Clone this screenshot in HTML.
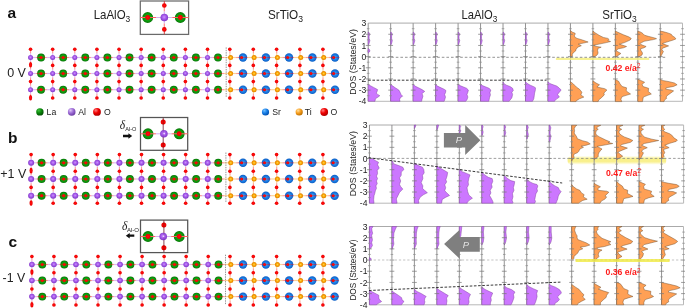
<!DOCTYPE html>
<html><head><meta charset="utf-8"><style>
html,body{margin:0;padding:0;background:#fff;width:685px;height:308px;overflow:hidden;font-family:"Liberation Sans", sans-serif;}
</style></head><body>
<svg width="685" height="308" viewBox="0 0 685 308" style="position:absolute;left:0;top:0;will-change:transform" font-family='"Liberation Sans", sans-serif'>
<defs>
<radialGradient id="gLa" cx="50%" cy="50%" r="50%"><stop offset="0" stop-color="#20b020"/><stop offset="0.55" stop-color="#10a010"/><stop offset="0.85" stop-color="#088a08"/><stop offset="1" stop-color="#067006"/></radialGradient>
<radialGradient id="gSr" cx="50%" cy="50%" r="50%"><stop offset="0" stop-color="#44aaff"/><stop offset="0.6" stop-color="#1a7ce4"/><stop offset="1" stop-color="#0c5ec4"/></radialGradient>
<radialGradient id="gAl" cx="48%" cy="45%" r="55%"><stop offset="0" stop-color="#cc90ff"/><stop offset="0.5" stop-color="#a458ea"/><stop offset="1" stop-color="#7e36c2"/></radialGradient>
<radialGradient id="gTi" cx="50%" cy="50%" r="50%"><stop offset="0" stop-color="#ffd848"/><stop offset="0.55" stop-color="#f8a000"/><stop offset="1" stop-color="#e08000"/></radialGradient>
<radialGradient id="gO" cx="50%" cy="50%" r="50%"><stop offset="0" stop-color="#ff1010"/><stop offset="0.75" stop-color="#f40000"/><stop offset="1" stop-color="#e00000"/></radialGradient>
<radialGradient id="bLa" cx="35%" cy="30%" r="70%"><stop offset="0" stop-color="#40c040"/><stop offset="0.5" stop-color="#0a8a0a"/><stop offset="1" stop-color="#045004"/></radialGradient>
<radialGradient id="bAl" cx="35%" cy="30%" r="70%"><stop offset="0" stop-color="#e0c8f8"/><stop offset="0.5" stop-color="#a070d8"/><stop offset="1" stop-color="#7040a8"/></radialGradient>
<radialGradient id="bO" cx="35%" cy="30%" r="70%"><stop offset="0" stop-color="#ff8080"/><stop offset="0.5" stop-color="#f00000"/><stop offset="1" stop-color="#b00000"/></radialGradient>
<radialGradient id="bSr" cx="35%" cy="30%" r="70%"><stop offset="0" stop-color="#70c0ff"/><stop offset="0.5" stop-color="#1a80e8"/><stop offset="1" stop-color="#0050b0"/></radialGradient>
<radialGradient id="bTi" cx="35%" cy="30%" r="70%"><stop offset="0" stop-color="#ffe0a0"/><stop offset="0.5" stop-color="#f8a020"/><stop offset="1" stop-color="#c07000"/></radialGradient>
<linearGradient id="yb" x1="0" y1="0" x2="0" y2="1"><stop offset="0" stop-color="#fcf8b0" stop-opacity="0.3"/><stop offset="0.3" stop-color="#f9f088"/><stop offset="0.7" stop-color="#f9f090"/><stop offset="1" stop-color="#fcf8c0" stop-opacity="0.3"/></linearGradient>
</defs>
<text x="7.4" y="18" font-size="15.5" font-weight="bold" font-style="normal" fill="#111" text-anchor="start" >a</text>
<text x="7.9" y="142.6" font-size="15.5" font-weight="bold" font-style="normal" fill="#111" text-anchor="start" >b</text>
<text x="8.6" y="246.6" font-size="15.5" font-weight="bold" font-style="normal" fill="#111" text-anchor="start" >c</text>
<text x="7.2" y="77" font-size="12.5" font-weight="normal" font-style="normal" fill="#222" text-anchor="start" >0 V</text>
<text x="0.3" y="178.2" font-size="12.5" font-weight="normal" font-style="normal" fill="#222" text-anchor="start" >+1 V</text>
<text x="2.6" y="282.2" font-size="12.3" font-weight="normal" font-style="normal" fill="#222" text-anchor="start" >-1 V</text>
<text transform="translate(93.7,18.8) scale(0.933,1)" font-size="12.3" fill="#222">LaAlO<tspan font-size="9" dy="3">3</tspan></text>
<text transform="translate(268.0,18.8) scale(0.955,1)" font-size="12.3" fill="#222">SrTiO<tspan font-size="9" dy="3">3</tspan></text>
<circle cx="41.05" cy="57.5" r="3.95" fill="url(#gLa)"/>
<circle cx="63.17" cy="57.5" r="3.95" fill="url(#gLa)"/>
<circle cx="85.29" cy="57.5" r="3.95" fill="url(#gLa)"/>
<circle cx="107.41" cy="57.5" r="3.95" fill="url(#gLa)"/>
<circle cx="129.53" cy="57.5" r="3.95" fill="url(#gLa)"/>
<circle cx="151.65" cy="57.5" r="3.95" fill="url(#gLa)"/>
<circle cx="173.77" cy="57.5" r="3.95" fill="url(#gLa)"/>
<circle cx="195.89" cy="57.5" r="3.95" fill="url(#gLa)"/>
<circle cx="218.01" cy="57.5" r="3.95" fill="url(#gLa)"/>
<circle cx="243" cy="57.5" r="4.2" fill="url(#gSr)"/>
<circle cx="265.9" cy="57.5" r="4.2" fill="url(#gSr)"/>
<circle cx="289" cy="57.5" r="4.2" fill="url(#gSr)"/>
<circle cx="312.4" cy="57.5" r="4.2" fill="url(#gSr)"/>
<circle cx="335" cy="57.5" r="4.2" fill="url(#gSr)"/>
<circle cx="41.05" cy="73.5" r="3.95" fill="url(#gLa)"/>
<circle cx="63.17" cy="73.5" r="3.95" fill="url(#gLa)"/>
<circle cx="85.29" cy="73.5" r="3.95" fill="url(#gLa)"/>
<circle cx="107.41" cy="73.5" r="3.95" fill="url(#gLa)"/>
<circle cx="129.53" cy="73.5" r="3.95" fill="url(#gLa)"/>
<circle cx="151.65" cy="73.5" r="3.95" fill="url(#gLa)"/>
<circle cx="173.77" cy="73.5" r="3.95" fill="url(#gLa)"/>
<circle cx="195.89" cy="73.5" r="3.95" fill="url(#gLa)"/>
<circle cx="218.01" cy="73.5" r="3.95" fill="url(#gLa)"/>
<circle cx="243" cy="73.5" r="4.2" fill="url(#gSr)"/>
<circle cx="265.9" cy="73.5" r="4.2" fill="url(#gSr)"/>
<circle cx="289" cy="73.5" r="4.2" fill="url(#gSr)"/>
<circle cx="312.4" cy="73.5" r="4.2" fill="url(#gSr)"/>
<circle cx="335" cy="73.5" r="4.2" fill="url(#gSr)"/>
<circle cx="41.05" cy="89.7" r="3.95" fill="url(#gLa)"/>
<circle cx="63.17" cy="89.7" r="3.95" fill="url(#gLa)"/>
<circle cx="85.29" cy="89.7" r="3.95" fill="url(#gLa)"/>
<circle cx="107.41" cy="89.7" r="3.95" fill="url(#gLa)"/>
<circle cx="129.53" cy="89.7" r="3.95" fill="url(#gLa)"/>
<circle cx="151.65" cy="89.7" r="3.95" fill="url(#gLa)"/>
<circle cx="173.77" cy="89.7" r="3.95" fill="url(#gLa)"/>
<circle cx="195.89" cy="89.7" r="3.95" fill="url(#gLa)"/>
<circle cx="218.01" cy="89.7" r="3.95" fill="url(#gLa)"/>
<circle cx="243" cy="89.7" r="4.2" fill="url(#gSr)"/>
<circle cx="265.9" cy="89.7" r="4.2" fill="url(#gSr)"/>
<circle cx="289" cy="89.7" r="4.2" fill="url(#gSr)"/>
<circle cx="312.4" cy="89.7" r="4.2" fill="url(#gSr)"/>
<circle cx="335" cy="89.7" r="4.2" fill="url(#gSr)"/>
<line x1="30.05" y1="57.5" x2="30.3" y2="57.5" stroke="rgba(170,90,230,0.42)" stroke-width="1.15"/><line x1="30.3" y1="57.5" x2="30.55" y2="57.5" stroke="rgba(170,90,230,0.42)" stroke-width="1.15"/>
<line x1="30.55" y1="57.5" x2="35.8" y2="57.5" stroke="rgba(170,90,230,0.42)" stroke-width="1.15"/><line x1="35.8" y1="57.5" x2="41.05" y2="57.5" stroke="rgba(255,0,0,0.4)" stroke-width="1.15"/>
<line x1="41.05" y1="57.5" x2="46.86" y2="57.5" stroke="rgba(255,0,0,0.4)" stroke-width="1.15"/><line x1="46.86" y1="57.5" x2="52.67" y2="57.5" stroke="rgba(170,90,230,0.42)" stroke-width="1.15"/>
<line x1="52.67" y1="57.5" x2="57.92" y2="57.5" stroke="rgba(170,90,230,0.42)" stroke-width="1.15"/><line x1="57.92" y1="57.5" x2="63.17" y2="57.5" stroke="rgba(255,0,0,0.4)" stroke-width="1.15"/>
<line x1="63.17" y1="57.5" x2="68.98" y2="57.5" stroke="rgba(255,0,0,0.4)" stroke-width="1.15"/><line x1="68.98" y1="57.5" x2="74.79" y2="57.5" stroke="rgba(170,90,230,0.42)" stroke-width="1.15"/>
<line x1="74.79" y1="57.5" x2="80.04" y2="57.5" stroke="rgba(170,90,230,0.42)" stroke-width="1.15"/><line x1="80.04" y1="57.5" x2="85.29" y2="57.5" stroke="rgba(255,0,0,0.4)" stroke-width="1.15"/>
<line x1="85.29" y1="57.5" x2="91.1" y2="57.5" stroke="rgba(255,0,0,0.4)" stroke-width="1.15"/><line x1="91.1" y1="57.5" x2="96.91" y2="57.5" stroke="rgba(170,90,230,0.42)" stroke-width="1.15"/>
<line x1="96.91" y1="57.5" x2="102.16" y2="57.5" stroke="rgba(170,90,230,0.42)" stroke-width="1.15"/><line x1="102.16" y1="57.5" x2="107.41" y2="57.5" stroke="rgba(255,0,0,0.4)" stroke-width="1.15"/>
<line x1="107.41" y1="57.5" x2="113.22" y2="57.5" stroke="rgba(255,0,0,0.4)" stroke-width="1.15"/><line x1="113.22" y1="57.5" x2="119.03" y2="57.5" stroke="rgba(170,90,230,0.42)" stroke-width="1.15"/>
<line x1="119.03" y1="57.5" x2="124.28" y2="57.5" stroke="rgba(170,90,230,0.42)" stroke-width="1.15"/><line x1="124.28" y1="57.5" x2="129.53" y2="57.5" stroke="rgba(255,0,0,0.4)" stroke-width="1.15"/>
<line x1="129.53" y1="57.5" x2="135.34" y2="57.5" stroke="rgba(255,0,0,0.4)" stroke-width="1.15"/><line x1="135.34" y1="57.5" x2="141.15" y2="57.5" stroke="rgba(170,90,230,0.42)" stroke-width="1.15"/>
<line x1="141.15" y1="57.5" x2="146.4" y2="57.5" stroke="rgba(170,90,230,0.42)" stroke-width="1.15"/><line x1="146.4" y1="57.5" x2="151.65" y2="57.5" stroke="rgba(255,0,0,0.4)" stroke-width="1.15"/>
<line x1="151.65" y1="57.5" x2="157.46" y2="57.5" stroke="rgba(255,0,0,0.4)" stroke-width="1.15"/><line x1="157.46" y1="57.5" x2="163.27" y2="57.5" stroke="rgba(170,90,230,0.42)" stroke-width="1.15"/>
<line x1="163.27" y1="57.5" x2="168.52" y2="57.5" stroke="rgba(170,90,230,0.42)" stroke-width="1.15"/><line x1="168.52" y1="57.5" x2="173.77" y2="57.5" stroke="rgba(255,0,0,0.4)" stroke-width="1.15"/>
<line x1="173.77" y1="57.5" x2="179.58" y2="57.5" stroke="rgba(255,0,0,0.4)" stroke-width="1.15"/><line x1="179.58" y1="57.5" x2="185.39" y2="57.5" stroke="rgba(170,90,230,0.42)" stroke-width="1.15"/>
<line x1="185.39" y1="57.5" x2="190.64" y2="57.5" stroke="rgba(170,90,230,0.42)" stroke-width="1.15"/><line x1="190.64" y1="57.5" x2="195.89" y2="57.5" stroke="rgba(255,0,0,0.4)" stroke-width="1.15"/>
<line x1="195.89" y1="57.5" x2="201.7" y2="57.5" stroke="rgba(255,0,0,0.4)" stroke-width="1.15"/><line x1="201.7" y1="57.5" x2="207.51" y2="57.5" stroke="rgba(170,90,230,0.42)" stroke-width="1.15"/>
<line x1="207.51" y1="57.5" x2="212.76" y2="57.5" stroke="rgba(170,90,230,0.42)" stroke-width="1.15"/><line x1="212.76" y1="57.5" x2="218.01" y2="57.5" stroke="rgba(255,0,0,0.4)" stroke-width="1.15"/>
<line x1="218.01" y1="57.5" x2="224.31" y2="57.5" stroke="rgba(255,0,0,0.4)" stroke-width="1.15"/><line x1="224.31" y1="57.5" x2="230.6" y2="57.5" stroke="rgba(248,160,20,0.45)" stroke-width="1.15"/>
<line x1="230.6" y1="57.5" x2="236.05" y2="57.5" stroke="rgba(248,160,20,0.45)" stroke-width="1.15"/><line x1="236.05" y1="57.5" x2="241.5" y2="57.5" stroke="rgba(255,0,0,0.4)" stroke-width="1.15"/>
<line x1="241.5" y1="57.5" x2="247.8" y2="57.5" stroke="rgba(255,0,0,0.4)" stroke-width="1.15"/><line x1="247.8" y1="57.5" x2="254.1" y2="57.5" stroke="rgba(248,160,20,0.45)" stroke-width="1.15"/>
<line x1="254.1" y1="57.5" x2="259.25" y2="57.5" stroke="rgba(248,160,20,0.45)" stroke-width="1.15"/><line x1="259.25" y1="57.5" x2="264.4" y2="57.5" stroke="rgba(255,0,0,0.4)" stroke-width="1.15"/>
<line x1="264.4" y1="57.5" x2="270.9" y2="57.5" stroke="rgba(255,0,0,0.4)" stroke-width="1.15"/><line x1="270.9" y1="57.5" x2="277.4" y2="57.5" stroke="rgba(248,160,20,0.45)" stroke-width="1.15"/>
<line x1="277.4" y1="57.5" x2="282.45" y2="57.5" stroke="rgba(248,160,20,0.45)" stroke-width="1.15"/><line x1="282.45" y1="57.5" x2="287.5" y2="57.5" stroke="rgba(255,0,0,0.4)" stroke-width="1.15"/>
<line x1="287.5" y1="57.5" x2="294.1" y2="57.5" stroke="rgba(255,0,0,0.4)" stroke-width="1.15"/><line x1="294.1" y1="57.5" x2="300.7" y2="57.5" stroke="rgba(248,160,20,0.45)" stroke-width="1.15"/>
<line x1="300.7" y1="57.5" x2="305.8" y2="57.5" stroke="rgba(248,160,20,0.45)" stroke-width="1.15"/><line x1="305.8" y1="57.5" x2="310.9" y2="57.5" stroke="rgba(255,0,0,0.4)" stroke-width="1.15"/>
<line x1="310.9" y1="57.5" x2="317.3" y2="57.5" stroke="rgba(255,0,0,0.4)" stroke-width="1.15"/><line x1="317.3" y1="57.5" x2="323.7" y2="57.5" stroke="rgba(248,160,20,0.45)" stroke-width="1.15"/>
<line x1="323.7" y1="57.5" x2="328.6" y2="57.5" stroke="rgba(248,160,20,0.45)" stroke-width="1.15"/><line x1="328.6" y1="57.5" x2="333.5" y2="57.5" stroke="rgba(255,0,0,0.4)" stroke-width="1.15"/>
<line x1="333.5" y1="57.5" x2="339.5" y2="57.5" stroke="rgba(255,0,0,0.4)" stroke-width="0.9"/>
<line x1="30.05" y1="73.5" x2="30.3" y2="73.5" stroke="rgba(170,90,230,0.42)" stroke-width="1.15"/><line x1="30.3" y1="73.5" x2="30.55" y2="73.5" stroke="rgba(170,90,230,0.42)" stroke-width="1.15"/>
<line x1="30.55" y1="73.5" x2="35.8" y2="73.5" stroke="rgba(170,90,230,0.42)" stroke-width="1.15"/><line x1="35.8" y1="73.5" x2="41.05" y2="73.5" stroke="rgba(255,0,0,0.4)" stroke-width="1.15"/>
<line x1="41.05" y1="73.5" x2="46.86" y2="73.5" stroke="rgba(255,0,0,0.4)" stroke-width="1.15"/><line x1="46.86" y1="73.5" x2="52.67" y2="73.5" stroke="rgba(170,90,230,0.42)" stroke-width="1.15"/>
<line x1="52.67" y1="73.5" x2="57.92" y2="73.5" stroke="rgba(170,90,230,0.42)" stroke-width="1.15"/><line x1="57.92" y1="73.5" x2="63.17" y2="73.5" stroke="rgba(255,0,0,0.4)" stroke-width="1.15"/>
<line x1="63.17" y1="73.5" x2="68.98" y2="73.5" stroke="rgba(255,0,0,0.4)" stroke-width="1.15"/><line x1="68.98" y1="73.5" x2="74.79" y2="73.5" stroke="rgba(170,90,230,0.42)" stroke-width="1.15"/>
<line x1="74.79" y1="73.5" x2="80.04" y2="73.5" stroke="rgba(170,90,230,0.42)" stroke-width="1.15"/><line x1="80.04" y1="73.5" x2="85.29" y2="73.5" stroke="rgba(255,0,0,0.4)" stroke-width="1.15"/>
<line x1="85.29" y1="73.5" x2="91.1" y2="73.5" stroke="rgba(255,0,0,0.4)" stroke-width="1.15"/><line x1="91.1" y1="73.5" x2="96.91" y2="73.5" stroke="rgba(170,90,230,0.42)" stroke-width="1.15"/>
<line x1="96.91" y1="73.5" x2="102.16" y2="73.5" stroke="rgba(170,90,230,0.42)" stroke-width="1.15"/><line x1="102.16" y1="73.5" x2="107.41" y2="73.5" stroke="rgba(255,0,0,0.4)" stroke-width="1.15"/>
<line x1="107.41" y1="73.5" x2="113.22" y2="73.5" stroke="rgba(255,0,0,0.4)" stroke-width="1.15"/><line x1="113.22" y1="73.5" x2="119.03" y2="73.5" stroke="rgba(170,90,230,0.42)" stroke-width="1.15"/>
<line x1="119.03" y1="73.5" x2="124.28" y2="73.5" stroke="rgba(170,90,230,0.42)" stroke-width="1.15"/><line x1="124.28" y1="73.5" x2="129.53" y2="73.5" stroke="rgba(255,0,0,0.4)" stroke-width="1.15"/>
<line x1="129.53" y1="73.5" x2="135.34" y2="73.5" stroke="rgba(255,0,0,0.4)" stroke-width="1.15"/><line x1="135.34" y1="73.5" x2="141.15" y2="73.5" stroke="rgba(170,90,230,0.42)" stroke-width="1.15"/>
<line x1="141.15" y1="73.5" x2="146.4" y2="73.5" stroke="rgba(170,90,230,0.42)" stroke-width="1.15"/><line x1="146.4" y1="73.5" x2="151.65" y2="73.5" stroke="rgba(255,0,0,0.4)" stroke-width="1.15"/>
<line x1="151.65" y1="73.5" x2="157.46" y2="73.5" stroke="rgba(255,0,0,0.4)" stroke-width="1.15"/><line x1="157.46" y1="73.5" x2="163.27" y2="73.5" stroke="rgba(170,90,230,0.42)" stroke-width="1.15"/>
<line x1="163.27" y1="73.5" x2="168.52" y2="73.5" stroke="rgba(170,90,230,0.42)" stroke-width="1.15"/><line x1="168.52" y1="73.5" x2="173.77" y2="73.5" stroke="rgba(255,0,0,0.4)" stroke-width="1.15"/>
<line x1="173.77" y1="73.5" x2="179.58" y2="73.5" stroke="rgba(255,0,0,0.4)" stroke-width="1.15"/><line x1="179.58" y1="73.5" x2="185.39" y2="73.5" stroke="rgba(170,90,230,0.42)" stroke-width="1.15"/>
<line x1="185.39" y1="73.5" x2="190.64" y2="73.5" stroke="rgba(170,90,230,0.42)" stroke-width="1.15"/><line x1="190.64" y1="73.5" x2="195.89" y2="73.5" stroke="rgba(255,0,0,0.4)" stroke-width="1.15"/>
<line x1="195.89" y1="73.5" x2="201.7" y2="73.5" stroke="rgba(255,0,0,0.4)" stroke-width="1.15"/><line x1="201.7" y1="73.5" x2="207.51" y2="73.5" stroke="rgba(170,90,230,0.42)" stroke-width="1.15"/>
<line x1="207.51" y1="73.5" x2="212.76" y2="73.5" stroke="rgba(170,90,230,0.42)" stroke-width="1.15"/><line x1="212.76" y1="73.5" x2="218.01" y2="73.5" stroke="rgba(255,0,0,0.4)" stroke-width="1.15"/>
<line x1="218.01" y1="73.5" x2="224.31" y2="73.5" stroke="rgba(255,0,0,0.4)" stroke-width="1.15"/><line x1="224.31" y1="73.5" x2="230.6" y2="73.5" stroke="rgba(248,160,20,0.45)" stroke-width="1.15"/>
<line x1="230.6" y1="73.5" x2="236.05" y2="73.5" stroke="rgba(248,160,20,0.45)" stroke-width="1.15"/><line x1="236.05" y1="73.5" x2="241.5" y2="73.5" stroke="rgba(255,0,0,0.4)" stroke-width="1.15"/>
<line x1="241.5" y1="73.5" x2="247.8" y2="73.5" stroke="rgba(255,0,0,0.4)" stroke-width="1.15"/><line x1="247.8" y1="73.5" x2="254.1" y2="73.5" stroke="rgba(248,160,20,0.45)" stroke-width="1.15"/>
<line x1="254.1" y1="73.5" x2="259.25" y2="73.5" stroke="rgba(248,160,20,0.45)" stroke-width="1.15"/><line x1="259.25" y1="73.5" x2="264.4" y2="73.5" stroke="rgba(255,0,0,0.4)" stroke-width="1.15"/>
<line x1="264.4" y1="73.5" x2="270.9" y2="73.5" stroke="rgba(255,0,0,0.4)" stroke-width="1.15"/><line x1="270.9" y1="73.5" x2="277.4" y2="73.5" stroke="rgba(248,160,20,0.45)" stroke-width="1.15"/>
<line x1="277.4" y1="73.5" x2="282.45" y2="73.5" stroke="rgba(248,160,20,0.45)" stroke-width="1.15"/><line x1="282.45" y1="73.5" x2="287.5" y2="73.5" stroke="rgba(255,0,0,0.4)" stroke-width="1.15"/>
<line x1="287.5" y1="73.5" x2="294.1" y2="73.5" stroke="rgba(255,0,0,0.4)" stroke-width="1.15"/><line x1="294.1" y1="73.5" x2="300.7" y2="73.5" stroke="rgba(248,160,20,0.45)" stroke-width="1.15"/>
<line x1="300.7" y1="73.5" x2="305.8" y2="73.5" stroke="rgba(248,160,20,0.45)" stroke-width="1.15"/><line x1="305.8" y1="73.5" x2="310.9" y2="73.5" stroke="rgba(255,0,0,0.4)" stroke-width="1.15"/>
<line x1="310.9" y1="73.5" x2="317.3" y2="73.5" stroke="rgba(255,0,0,0.4)" stroke-width="1.15"/><line x1="317.3" y1="73.5" x2="323.7" y2="73.5" stroke="rgba(248,160,20,0.45)" stroke-width="1.15"/>
<line x1="323.7" y1="73.5" x2="328.6" y2="73.5" stroke="rgba(248,160,20,0.45)" stroke-width="1.15"/><line x1="328.6" y1="73.5" x2="333.5" y2="73.5" stroke="rgba(255,0,0,0.4)" stroke-width="1.15"/>
<line x1="333.5" y1="73.5" x2="339.5" y2="73.5" stroke="rgba(255,0,0,0.4)" stroke-width="0.9"/>
<line x1="30.05" y1="89.7" x2="30.3" y2="89.7" stroke="rgba(170,90,230,0.42)" stroke-width="1.15"/><line x1="30.3" y1="89.7" x2="30.55" y2="89.7" stroke="rgba(170,90,230,0.42)" stroke-width="1.15"/>
<line x1="30.55" y1="89.7" x2="35.8" y2="89.7" stroke="rgba(170,90,230,0.42)" stroke-width="1.15"/><line x1="35.8" y1="89.7" x2="41.05" y2="89.7" stroke="rgba(255,0,0,0.4)" stroke-width="1.15"/>
<line x1="41.05" y1="89.7" x2="46.86" y2="89.7" stroke="rgba(255,0,0,0.4)" stroke-width="1.15"/><line x1="46.86" y1="89.7" x2="52.67" y2="89.7" stroke="rgba(170,90,230,0.42)" stroke-width="1.15"/>
<line x1="52.67" y1="89.7" x2="57.92" y2="89.7" stroke="rgba(170,90,230,0.42)" stroke-width="1.15"/><line x1="57.92" y1="89.7" x2="63.17" y2="89.7" stroke="rgba(255,0,0,0.4)" stroke-width="1.15"/>
<line x1="63.17" y1="89.7" x2="68.98" y2="89.7" stroke="rgba(255,0,0,0.4)" stroke-width="1.15"/><line x1="68.98" y1="89.7" x2="74.79" y2="89.7" stroke="rgba(170,90,230,0.42)" stroke-width="1.15"/>
<line x1="74.79" y1="89.7" x2="80.04" y2="89.7" stroke="rgba(170,90,230,0.42)" stroke-width="1.15"/><line x1="80.04" y1="89.7" x2="85.29" y2="89.7" stroke="rgba(255,0,0,0.4)" stroke-width="1.15"/>
<line x1="85.29" y1="89.7" x2="91.1" y2="89.7" stroke="rgba(255,0,0,0.4)" stroke-width="1.15"/><line x1="91.1" y1="89.7" x2="96.91" y2="89.7" stroke="rgba(170,90,230,0.42)" stroke-width="1.15"/>
<line x1="96.91" y1="89.7" x2="102.16" y2="89.7" stroke="rgba(170,90,230,0.42)" stroke-width="1.15"/><line x1="102.16" y1="89.7" x2="107.41" y2="89.7" stroke="rgba(255,0,0,0.4)" stroke-width="1.15"/>
<line x1="107.41" y1="89.7" x2="113.22" y2="89.7" stroke="rgba(255,0,0,0.4)" stroke-width="1.15"/><line x1="113.22" y1="89.7" x2="119.03" y2="89.7" stroke="rgba(170,90,230,0.42)" stroke-width="1.15"/>
<line x1="119.03" y1="89.7" x2="124.28" y2="89.7" stroke="rgba(170,90,230,0.42)" stroke-width="1.15"/><line x1="124.28" y1="89.7" x2="129.53" y2="89.7" stroke="rgba(255,0,0,0.4)" stroke-width="1.15"/>
<line x1="129.53" y1="89.7" x2="135.34" y2="89.7" stroke="rgba(255,0,0,0.4)" stroke-width="1.15"/><line x1="135.34" y1="89.7" x2="141.15" y2="89.7" stroke="rgba(170,90,230,0.42)" stroke-width="1.15"/>
<line x1="141.15" y1="89.7" x2="146.4" y2="89.7" stroke="rgba(170,90,230,0.42)" stroke-width="1.15"/><line x1="146.4" y1="89.7" x2="151.65" y2="89.7" stroke="rgba(255,0,0,0.4)" stroke-width="1.15"/>
<line x1="151.65" y1="89.7" x2="157.46" y2="89.7" stroke="rgba(255,0,0,0.4)" stroke-width="1.15"/><line x1="157.46" y1="89.7" x2="163.27" y2="89.7" stroke="rgba(170,90,230,0.42)" stroke-width="1.15"/>
<line x1="163.27" y1="89.7" x2="168.52" y2="89.7" stroke="rgba(170,90,230,0.42)" stroke-width="1.15"/><line x1="168.52" y1="89.7" x2="173.77" y2="89.7" stroke="rgba(255,0,0,0.4)" stroke-width="1.15"/>
<line x1="173.77" y1="89.7" x2="179.58" y2="89.7" stroke="rgba(255,0,0,0.4)" stroke-width="1.15"/><line x1="179.58" y1="89.7" x2="185.39" y2="89.7" stroke="rgba(170,90,230,0.42)" stroke-width="1.15"/>
<line x1="185.39" y1="89.7" x2="190.64" y2="89.7" stroke="rgba(170,90,230,0.42)" stroke-width="1.15"/><line x1="190.64" y1="89.7" x2="195.89" y2="89.7" stroke="rgba(255,0,0,0.4)" stroke-width="1.15"/>
<line x1="195.89" y1="89.7" x2="201.7" y2="89.7" stroke="rgba(255,0,0,0.4)" stroke-width="1.15"/><line x1="201.7" y1="89.7" x2="207.51" y2="89.7" stroke="rgba(170,90,230,0.42)" stroke-width="1.15"/>
<line x1="207.51" y1="89.7" x2="212.76" y2="89.7" stroke="rgba(170,90,230,0.42)" stroke-width="1.15"/><line x1="212.76" y1="89.7" x2="218.01" y2="89.7" stroke="rgba(255,0,0,0.4)" stroke-width="1.15"/>
<line x1="218.01" y1="89.7" x2="224.31" y2="89.7" stroke="rgba(255,0,0,0.4)" stroke-width="1.15"/><line x1="224.31" y1="89.7" x2="230.6" y2="89.7" stroke="rgba(248,160,20,0.45)" stroke-width="1.15"/>
<line x1="230.6" y1="89.7" x2="236.05" y2="89.7" stroke="rgba(248,160,20,0.45)" stroke-width="1.15"/><line x1="236.05" y1="89.7" x2="241.5" y2="89.7" stroke="rgba(255,0,0,0.4)" stroke-width="1.15"/>
<line x1="241.5" y1="89.7" x2="247.8" y2="89.7" stroke="rgba(255,0,0,0.4)" stroke-width="1.15"/><line x1="247.8" y1="89.7" x2="254.1" y2="89.7" stroke="rgba(248,160,20,0.45)" stroke-width="1.15"/>
<line x1="254.1" y1="89.7" x2="259.25" y2="89.7" stroke="rgba(248,160,20,0.45)" stroke-width="1.15"/><line x1="259.25" y1="89.7" x2="264.4" y2="89.7" stroke="rgba(255,0,0,0.4)" stroke-width="1.15"/>
<line x1="264.4" y1="89.7" x2="270.9" y2="89.7" stroke="rgba(255,0,0,0.4)" stroke-width="1.15"/><line x1="270.9" y1="89.7" x2="277.4" y2="89.7" stroke="rgba(248,160,20,0.45)" stroke-width="1.15"/>
<line x1="277.4" y1="89.7" x2="282.45" y2="89.7" stroke="rgba(248,160,20,0.45)" stroke-width="1.15"/><line x1="282.45" y1="89.7" x2="287.5" y2="89.7" stroke="rgba(255,0,0,0.4)" stroke-width="1.15"/>
<line x1="287.5" y1="89.7" x2="294.1" y2="89.7" stroke="rgba(255,0,0,0.4)" stroke-width="1.15"/><line x1="294.1" y1="89.7" x2="300.7" y2="89.7" stroke="rgba(248,160,20,0.45)" stroke-width="1.15"/>
<line x1="300.7" y1="89.7" x2="305.8" y2="89.7" stroke="rgba(248,160,20,0.45)" stroke-width="1.15"/><line x1="305.8" y1="89.7" x2="310.9" y2="89.7" stroke="rgba(255,0,0,0.4)" stroke-width="1.15"/>
<line x1="310.9" y1="89.7" x2="317.3" y2="89.7" stroke="rgba(255,0,0,0.4)" stroke-width="1.15"/><line x1="317.3" y1="89.7" x2="323.7" y2="89.7" stroke="rgba(248,160,20,0.45)" stroke-width="1.15"/>
<line x1="323.7" y1="89.7" x2="328.6" y2="89.7" stroke="rgba(248,160,20,0.45)" stroke-width="1.15"/><line x1="328.6" y1="89.7" x2="333.5" y2="89.7" stroke="rgba(255,0,0,0.4)" stroke-width="1.15"/>
<line x1="333.5" y1="89.7" x2="339.5" y2="89.7" stroke="rgba(255,0,0,0.4)" stroke-width="0.9"/>
<line x1="30.55" y1="49.2" x2="30.55" y2="53.35" stroke="rgba(255,0,0,0.4)" stroke-width="1.15"/><line x1="30.55" y1="53.35" x2="30.55" y2="57.5" stroke="rgba(170,90,230,0.42)" stroke-width="1.15"/>
<line x1="30.55" y1="57.5" x2="30.55" y2="61.45" stroke="rgba(170,90,230,0.42)" stroke-width="1.15"/><line x1="30.55" y1="61.45" x2="30.55" y2="65.4" stroke="rgba(255,0,0,0.4)" stroke-width="1.15"/>
<line x1="30.55" y1="65.4" x2="30.55" y2="69.45" stroke="rgba(255,0,0,0.4)" stroke-width="1.15"/><line x1="30.55" y1="69.45" x2="30.55" y2="73.5" stroke="rgba(170,90,230,0.42)" stroke-width="1.15"/>
<line x1="30.55" y1="73.5" x2="30.55" y2="77.55" stroke="rgba(170,90,230,0.42)" stroke-width="1.15"/><line x1="30.55" y1="77.55" x2="30.55" y2="81.6" stroke="rgba(255,0,0,0.4)" stroke-width="1.15"/>
<line x1="30.55" y1="81.6" x2="30.55" y2="85.65" stroke="rgba(255,0,0,0.4)" stroke-width="1.15"/><line x1="30.55" y1="85.65" x2="30.55" y2="89.7" stroke="rgba(170,90,230,0.42)" stroke-width="1.15"/>
<line x1="30.55" y1="89.7" x2="30.55" y2="93.85" stroke="rgba(170,90,230,0.42)" stroke-width="1.15"/><line x1="30.55" y1="93.85" x2="30.55" y2="98" stroke="rgba(255,0,0,0.4)" stroke-width="1.15"/>
<line x1="52.67" y1="49.2" x2="52.67" y2="53.35" stroke="rgba(255,0,0,0.4)" stroke-width="1.15"/><line x1="52.67" y1="53.35" x2="52.67" y2="57.5" stroke="rgba(170,90,230,0.42)" stroke-width="1.15"/>
<line x1="52.67" y1="57.5" x2="52.67" y2="61.45" stroke="rgba(170,90,230,0.42)" stroke-width="1.15"/><line x1="52.67" y1="61.45" x2="52.67" y2="65.4" stroke="rgba(255,0,0,0.4)" stroke-width="1.15"/>
<line x1="52.67" y1="65.4" x2="52.67" y2="69.45" stroke="rgba(255,0,0,0.4)" stroke-width="1.15"/><line x1="52.67" y1="69.45" x2="52.67" y2="73.5" stroke="rgba(170,90,230,0.42)" stroke-width="1.15"/>
<line x1="52.67" y1="73.5" x2="52.67" y2="77.55" stroke="rgba(170,90,230,0.42)" stroke-width="1.15"/><line x1="52.67" y1="77.55" x2="52.67" y2="81.6" stroke="rgba(255,0,0,0.4)" stroke-width="1.15"/>
<line x1="52.67" y1="81.6" x2="52.67" y2="85.65" stroke="rgba(255,0,0,0.4)" stroke-width="1.15"/><line x1="52.67" y1="85.65" x2="52.67" y2="89.7" stroke="rgba(170,90,230,0.42)" stroke-width="1.15"/>
<line x1="52.67" y1="89.7" x2="52.67" y2="93.85" stroke="rgba(170,90,230,0.42)" stroke-width="1.15"/><line x1="52.67" y1="93.85" x2="52.67" y2="98" stroke="rgba(255,0,0,0.4)" stroke-width="1.15"/>
<line x1="74.79" y1="49.2" x2="74.79" y2="53.35" stroke="rgba(255,0,0,0.4)" stroke-width="1.15"/><line x1="74.79" y1="53.35" x2="74.79" y2="57.5" stroke="rgba(170,90,230,0.42)" stroke-width="1.15"/>
<line x1="74.79" y1="57.5" x2="74.79" y2="61.45" stroke="rgba(170,90,230,0.42)" stroke-width="1.15"/><line x1="74.79" y1="61.45" x2="74.79" y2="65.4" stroke="rgba(255,0,0,0.4)" stroke-width="1.15"/>
<line x1="74.79" y1="65.4" x2="74.79" y2="69.45" stroke="rgba(255,0,0,0.4)" stroke-width="1.15"/><line x1="74.79" y1="69.45" x2="74.79" y2="73.5" stroke="rgba(170,90,230,0.42)" stroke-width="1.15"/>
<line x1="74.79" y1="73.5" x2="74.79" y2="77.55" stroke="rgba(170,90,230,0.42)" stroke-width="1.15"/><line x1="74.79" y1="77.55" x2="74.79" y2="81.6" stroke="rgba(255,0,0,0.4)" stroke-width="1.15"/>
<line x1="74.79" y1="81.6" x2="74.79" y2="85.65" stroke="rgba(255,0,0,0.4)" stroke-width="1.15"/><line x1="74.79" y1="85.65" x2="74.79" y2="89.7" stroke="rgba(170,90,230,0.42)" stroke-width="1.15"/>
<line x1="74.79" y1="89.7" x2="74.79" y2="93.85" stroke="rgba(170,90,230,0.42)" stroke-width="1.15"/><line x1="74.79" y1="93.85" x2="74.79" y2="98" stroke="rgba(255,0,0,0.4)" stroke-width="1.15"/>
<line x1="96.91" y1="49.2" x2="96.91" y2="53.35" stroke="rgba(255,0,0,0.4)" stroke-width="1.15"/><line x1="96.91" y1="53.35" x2="96.91" y2="57.5" stroke="rgba(170,90,230,0.42)" stroke-width="1.15"/>
<line x1="96.91" y1="57.5" x2="96.91" y2="61.45" stroke="rgba(170,90,230,0.42)" stroke-width="1.15"/><line x1="96.91" y1="61.45" x2="96.91" y2="65.4" stroke="rgba(255,0,0,0.4)" stroke-width="1.15"/>
<line x1="96.91" y1="65.4" x2="96.91" y2="69.45" stroke="rgba(255,0,0,0.4)" stroke-width="1.15"/><line x1="96.91" y1="69.45" x2="96.91" y2="73.5" stroke="rgba(170,90,230,0.42)" stroke-width="1.15"/>
<line x1="96.91" y1="73.5" x2="96.91" y2="77.55" stroke="rgba(170,90,230,0.42)" stroke-width="1.15"/><line x1="96.91" y1="77.55" x2="96.91" y2="81.6" stroke="rgba(255,0,0,0.4)" stroke-width="1.15"/>
<line x1="96.91" y1="81.6" x2="96.91" y2="85.65" stroke="rgba(255,0,0,0.4)" stroke-width="1.15"/><line x1="96.91" y1="85.65" x2="96.91" y2="89.7" stroke="rgba(170,90,230,0.42)" stroke-width="1.15"/>
<line x1="96.91" y1="89.7" x2="96.91" y2="93.85" stroke="rgba(170,90,230,0.42)" stroke-width="1.15"/><line x1="96.91" y1="93.85" x2="96.91" y2="98" stroke="rgba(255,0,0,0.4)" stroke-width="1.15"/>
<line x1="119.03" y1="49.2" x2="119.03" y2="53.35" stroke="rgba(255,0,0,0.4)" stroke-width="1.15"/><line x1="119.03" y1="53.35" x2="119.03" y2="57.5" stroke="rgba(170,90,230,0.42)" stroke-width="1.15"/>
<line x1="119.03" y1="57.5" x2="119.03" y2="61.45" stroke="rgba(170,90,230,0.42)" stroke-width="1.15"/><line x1="119.03" y1="61.45" x2="119.03" y2="65.4" stroke="rgba(255,0,0,0.4)" stroke-width="1.15"/>
<line x1="119.03" y1="65.4" x2="119.03" y2="69.45" stroke="rgba(255,0,0,0.4)" stroke-width="1.15"/><line x1="119.03" y1="69.45" x2="119.03" y2="73.5" stroke="rgba(170,90,230,0.42)" stroke-width="1.15"/>
<line x1="119.03" y1="73.5" x2="119.03" y2="77.55" stroke="rgba(170,90,230,0.42)" stroke-width="1.15"/><line x1="119.03" y1="77.55" x2="119.03" y2="81.6" stroke="rgba(255,0,0,0.4)" stroke-width="1.15"/>
<line x1="119.03" y1="81.6" x2="119.03" y2="85.65" stroke="rgba(255,0,0,0.4)" stroke-width="1.15"/><line x1="119.03" y1="85.65" x2="119.03" y2="89.7" stroke="rgba(170,90,230,0.42)" stroke-width="1.15"/>
<line x1="119.03" y1="89.7" x2="119.03" y2="93.85" stroke="rgba(170,90,230,0.42)" stroke-width="1.15"/><line x1="119.03" y1="93.85" x2="119.03" y2="98" stroke="rgba(255,0,0,0.4)" stroke-width="1.15"/>
<line x1="141.15" y1="49.2" x2="141.15" y2="53.35" stroke="rgba(255,0,0,0.4)" stroke-width="1.15"/><line x1="141.15" y1="53.35" x2="141.15" y2="57.5" stroke="rgba(170,90,230,0.42)" stroke-width="1.15"/>
<line x1="141.15" y1="57.5" x2="141.15" y2="61.45" stroke="rgba(170,90,230,0.42)" stroke-width="1.15"/><line x1="141.15" y1="61.45" x2="141.15" y2="65.4" stroke="rgba(255,0,0,0.4)" stroke-width="1.15"/>
<line x1="141.15" y1="65.4" x2="141.15" y2="69.45" stroke="rgba(255,0,0,0.4)" stroke-width="1.15"/><line x1="141.15" y1="69.45" x2="141.15" y2="73.5" stroke="rgba(170,90,230,0.42)" stroke-width="1.15"/>
<line x1="141.15" y1="73.5" x2="141.15" y2="77.55" stroke="rgba(170,90,230,0.42)" stroke-width="1.15"/><line x1="141.15" y1="77.55" x2="141.15" y2="81.6" stroke="rgba(255,0,0,0.4)" stroke-width="1.15"/>
<line x1="141.15" y1="81.6" x2="141.15" y2="85.65" stroke="rgba(255,0,0,0.4)" stroke-width="1.15"/><line x1="141.15" y1="85.65" x2="141.15" y2="89.7" stroke="rgba(170,90,230,0.42)" stroke-width="1.15"/>
<line x1="141.15" y1="89.7" x2="141.15" y2="93.85" stroke="rgba(170,90,230,0.42)" stroke-width="1.15"/><line x1="141.15" y1="93.85" x2="141.15" y2="98" stroke="rgba(255,0,0,0.4)" stroke-width="1.15"/>
<line x1="163.27" y1="49.2" x2="163.27" y2="53.35" stroke="rgba(255,0,0,0.4)" stroke-width="1.15"/><line x1="163.27" y1="53.35" x2="163.27" y2="57.5" stroke="rgba(170,90,230,0.42)" stroke-width="1.15"/>
<line x1="163.27" y1="57.5" x2="163.27" y2="61.45" stroke="rgba(170,90,230,0.42)" stroke-width="1.15"/><line x1="163.27" y1="61.45" x2="163.27" y2="65.4" stroke="rgba(255,0,0,0.4)" stroke-width="1.15"/>
<line x1="163.27" y1="65.4" x2="163.27" y2="69.45" stroke="rgba(255,0,0,0.4)" stroke-width="1.15"/><line x1="163.27" y1="69.45" x2="163.27" y2="73.5" stroke="rgba(170,90,230,0.42)" stroke-width="1.15"/>
<line x1="163.27" y1="73.5" x2="163.27" y2="77.55" stroke="rgba(170,90,230,0.42)" stroke-width="1.15"/><line x1="163.27" y1="77.55" x2="163.27" y2="81.6" stroke="rgba(255,0,0,0.4)" stroke-width="1.15"/>
<line x1="163.27" y1="81.6" x2="163.27" y2="85.65" stroke="rgba(255,0,0,0.4)" stroke-width="1.15"/><line x1="163.27" y1="85.65" x2="163.27" y2="89.7" stroke="rgba(170,90,230,0.42)" stroke-width="1.15"/>
<line x1="163.27" y1="89.7" x2="163.27" y2="93.85" stroke="rgba(170,90,230,0.42)" stroke-width="1.15"/><line x1="163.27" y1="93.85" x2="163.27" y2="98" stroke="rgba(255,0,0,0.4)" stroke-width="1.15"/>
<line x1="185.39" y1="49.2" x2="185.39" y2="53.35" stroke="rgba(255,0,0,0.4)" stroke-width="1.15"/><line x1="185.39" y1="53.35" x2="185.39" y2="57.5" stroke="rgba(170,90,230,0.42)" stroke-width="1.15"/>
<line x1="185.39" y1="57.5" x2="185.39" y2="61.45" stroke="rgba(170,90,230,0.42)" stroke-width="1.15"/><line x1="185.39" y1="61.45" x2="185.39" y2="65.4" stroke="rgba(255,0,0,0.4)" stroke-width="1.15"/>
<line x1="185.39" y1="65.4" x2="185.39" y2="69.45" stroke="rgba(255,0,0,0.4)" stroke-width="1.15"/><line x1="185.39" y1="69.45" x2="185.39" y2="73.5" stroke="rgba(170,90,230,0.42)" stroke-width="1.15"/>
<line x1="185.39" y1="73.5" x2="185.39" y2="77.55" stroke="rgba(170,90,230,0.42)" stroke-width="1.15"/><line x1="185.39" y1="77.55" x2="185.39" y2="81.6" stroke="rgba(255,0,0,0.4)" stroke-width="1.15"/>
<line x1="185.39" y1="81.6" x2="185.39" y2="85.65" stroke="rgba(255,0,0,0.4)" stroke-width="1.15"/><line x1="185.39" y1="85.65" x2="185.39" y2="89.7" stroke="rgba(170,90,230,0.42)" stroke-width="1.15"/>
<line x1="185.39" y1="89.7" x2="185.39" y2="93.85" stroke="rgba(170,90,230,0.42)" stroke-width="1.15"/><line x1="185.39" y1="93.85" x2="185.39" y2="98" stroke="rgba(255,0,0,0.4)" stroke-width="1.15"/>
<line x1="207.51" y1="49.2" x2="207.51" y2="53.35" stroke="rgba(255,0,0,0.4)" stroke-width="1.15"/><line x1="207.51" y1="53.35" x2="207.51" y2="57.5" stroke="rgba(170,90,230,0.42)" stroke-width="1.15"/>
<line x1="207.51" y1="57.5" x2="207.51" y2="61.45" stroke="rgba(170,90,230,0.42)" stroke-width="1.15"/><line x1="207.51" y1="61.45" x2="207.51" y2="65.4" stroke="rgba(255,0,0,0.4)" stroke-width="1.15"/>
<line x1="207.51" y1="65.4" x2="207.51" y2="69.45" stroke="rgba(255,0,0,0.4)" stroke-width="1.15"/><line x1="207.51" y1="69.45" x2="207.51" y2="73.5" stroke="rgba(170,90,230,0.42)" stroke-width="1.15"/>
<line x1="207.51" y1="73.5" x2="207.51" y2="77.55" stroke="rgba(170,90,230,0.42)" stroke-width="1.15"/><line x1="207.51" y1="77.55" x2="207.51" y2="81.6" stroke="rgba(255,0,0,0.4)" stroke-width="1.15"/>
<line x1="207.51" y1="81.6" x2="207.51" y2="85.65" stroke="rgba(255,0,0,0.4)" stroke-width="1.15"/><line x1="207.51" y1="85.65" x2="207.51" y2="89.7" stroke="rgba(170,90,230,0.42)" stroke-width="1.15"/>
<line x1="207.51" y1="89.7" x2="207.51" y2="93.85" stroke="rgba(170,90,230,0.42)" stroke-width="1.15"/><line x1="207.51" y1="93.85" x2="207.51" y2="98" stroke="rgba(255,0,0,0.4)" stroke-width="1.15"/>
<line x1="229.9" y1="49.2" x2="229.9" y2="53.35" stroke="rgba(255,0,0,0.4)" stroke-width="1.15"/><line x1="229.9" y1="53.35" x2="229.9" y2="57.5" stroke="rgba(248,160,20,0.45)" stroke-width="1.15"/>
<line x1="229.9" y1="57.5" x2="229.9" y2="61.45" stroke="rgba(248,160,20,0.45)" stroke-width="1.15"/><line x1="229.9" y1="61.45" x2="229.9" y2="65.4" stroke="rgba(255,0,0,0.4)" stroke-width="1.15"/>
<line x1="229.9" y1="65.4" x2="229.9" y2="69.45" stroke="rgba(255,0,0,0.4)" stroke-width="1.15"/><line x1="229.9" y1="69.45" x2="229.9" y2="73.5" stroke="rgba(248,160,20,0.45)" stroke-width="1.15"/>
<line x1="229.9" y1="73.5" x2="229.9" y2="77.55" stroke="rgba(248,160,20,0.45)" stroke-width="1.15"/><line x1="229.9" y1="77.55" x2="229.9" y2="81.6" stroke="rgba(255,0,0,0.4)" stroke-width="1.15"/>
<line x1="229.9" y1="81.6" x2="229.9" y2="85.65" stroke="rgba(255,0,0,0.4)" stroke-width="1.15"/><line x1="229.9" y1="85.65" x2="229.9" y2="89.7" stroke="rgba(248,160,20,0.45)" stroke-width="1.15"/>
<line x1="229.9" y1="89.7" x2="229.9" y2="93.85" stroke="rgba(248,160,20,0.45)" stroke-width="1.15"/><line x1="229.9" y1="93.85" x2="229.9" y2="98" stroke="rgba(255,0,0,0.4)" stroke-width="1.15"/>
<line x1="253.4" y1="49.2" x2="253.4" y2="53.35" stroke="rgba(255,0,0,0.4)" stroke-width="1.15"/><line x1="253.4" y1="53.35" x2="253.4" y2="57.5" stroke="rgba(248,160,20,0.45)" stroke-width="1.15"/>
<line x1="253.4" y1="57.5" x2="253.4" y2="61.45" stroke="rgba(248,160,20,0.45)" stroke-width="1.15"/><line x1="253.4" y1="61.45" x2="253.4" y2="65.4" stroke="rgba(255,0,0,0.4)" stroke-width="1.15"/>
<line x1="253.4" y1="65.4" x2="253.4" y2="69.45" stroke="rgba(255,0,0,0.4)" stroke-width="1.15"/><line x1="253.4" y1="69.45" x2="253.4" y2="73.5" stroke="rgba(248,160,20,0.45)" stroke-width="1.15"/>
<line x1="253.4" y1="73.5" x2="253.4" y2="77.55" stroke="rgba(248,160,20,0.45)" stroke-width="1.15"/><line x1="253.4" y1="77.55" x2="253.4" y2="81.6" stroke="rgba(255,0,0,0.4)" stroke-width="1.15"/>
<line x1="253.4" y1="81.6" x2="253.4" y2="85.65" stroke="rgba(255,0,0,0.4)" stroke-width="1.15"/><line x1="253.4" y1="85.65" x2="253.4" y2="89.7" stroke="rgba(248,160,20,0.45)" stroke-width="1.15"/>
<line x1="253.4" y1="89.7" x2="253.4" y2="93.85" stroke="rgba(248,160,20,0.45)" stroke-width="1.15"/><line x1="253.4" y1="93.85" x2="253.4" y2="98" stroke="rgba(255,0,0,0.4)" stroke-width="1.15"/>
<line x1="276.7" y1="49.2" x2="276.7" y2="53.35" stroke="rgba(255,0,0,0.4)" stroke-width="1.15"/><line x1="276.7" y1="53.35" x2="276.7" y2="57.5" stroke="rgba(248,160,20,0.45)" stroke-width="1.15"/>
<line x1="276.7" y1="57.5" x2="276.7" y2="61.45" stroke="rgba(248,160,20,0.45)" stroke-width="1.15"/><line x1="276.7" y1="61.45" x2="276.7" y2="65.4" stroke="rgba(255,0,0,0.4)" stroke-width="1.15"/>
<line x1="276.7" y1="65.4" x2="276.7" y2="69.45" stroke="rgba(255,0,0,0.4)" stroke-width="1.15"/><line x1="276.7" y1="69.45" x2="276.7" y2="73.5" stroke="rgba(248,160,20,0.45)" stroke-width="1.15"/>
<line x1="276.7" y1="73.5" x2="276.7" y2="77.55" stroke="rgba(248,160,20,0.45)" stroke-width="1.15"/><line x1="276.7" y1="77.55" x2="276.7" y2="81.6" stroke="rgba(255,0,0,0.4)" stroke-width="1.15"/>
<line x1="276.7" y1="81.6" x2="276.7" y2="85.65" stroke="rgba(255,0,0,0.4)" stroke-width="1.15"/><line x1="276.7" y1="85.65" x2="276.7" y2="89.7" stroke="rgba(248,160,20,0.45)" stroke-width="1.15"/>
<line x1="276.7" y1="89.7" x2="276.7" y2="93.85" stroke="rgba(248,160,20,0.45)" stroke-width="1.15"/><line x1="276.7" y1="93.85" x2="276.7" y2="98" stroke="rgba(255,0,0,0.4)" stroke-width="1.15"/>
<line x1="300" y1="49.2" x2="300" y2="53.35" stroke="rgba(255,0,0,0.4)" stroke-width="1.15"/><line x1="300" y1="53.35" x2="300" y2="57.5" stroke="rgba(248,160,20,0.45)" stroke-width="1.15"/>
<line x1="300" y1="57.5" x2="300" y2="61.45" stroke="rgba(248,160,20,0.45)" stroke-width="1.15"/><line x1="300" y1="61.45" x2="300" y2="65.4" stroke="rgba(255,0,0,0.4)" stroke-width="1.15"/>
<line x1="300" y1="65.4" x2="300" y2="69.45" stroke="rgba(255,0,0,0.4)" stroke-width="1.15"/><line x1="300" y1="69.45" x2="300" y2="73.5" stroke="rgba(248,160,20,0.45)" stroke-width="1.15"/>
<line x1="300" y1="73.5" x2="300" y2="77.55" stroke="rgba(248,160,20,0.45)" stroke-width="1.15"/><line x1="300" y1="77.55" x2="300" y2="81.6" stroke="rgba(255,0,0,0.4)" stroke-width="1.15"/>
<line x1="300" y1="81.6" x2="300" y2="85.65" stroke="rgba(255,0,0,0.4)" stroke-width="1.15"/><line x1="300" y1="85.65" x2="300" y2="89.7" stroke="rgba(248,160,20,0.45)" stroke-width="1.15"/>
<line x1="300" y1="89.7" x2="300" y2="93.85" stroke="rgba(248,160,20,0.45)" stroke-width="1.15"/><line x1="300" y1="93.85" x2="300" y2="98" stroke="rgba(255,0,0,0.4)" stroke-width="1.15"/>
<line x1="323" y1="49.2" x2="323" y2="53.35" stroke="rgba(255,0,0,0.4)" stroke-width="1.15"/><line x1="323" y1="53.35" x2="323" y2="57.5" stroke="rgba(248,160,20,0.45)" stroke-width="1.15"/>
<line x1="323" y1="57.5" x2="323" y2="61.45" stroke="rgba(248,160,20,0.45)" stroke-width="1.15"/><line x1="323" y1="61.45" x2="323" y2="65.4" stroke="rgba(255,0,0,0.4)" stroke-width="1.15"/>
<line x1="323" y1="65.4" x2="323" y2="69.45" stroke="rgba(255,0,0,0.4)" stroke-width="1.15"/><line x1="323" y1="69.45" x2="323" y2="73.5" stroke="rgba(248,160,20,0.45)" stroke-width="1.15"/>
<line x1="323" y1="73.5" x2="323" y2="77.55" stroke="rgba(248,160,20,0.45)" stroke-width="1.15"/><line x1="323" y1="77.55" x2="323" y2="81.6" stroke="rgba(255,0,0,0.4)" stroke-width="1.15"/>
<line x1="323" y1="81.6" x2="323" y2="85.65" stroke="rgba(255,0,0,0.4)" stroke-width="1.15"/><line x1="323" y1="85.65" x2="323" y2="89.7" stroke="rgba(248,160,20,0.45)" stroke-width="1.15"/>
<line x1="323" y1="89.7" x2="323" y2="93.85" stroke="rgba(248,160,20,0.45)" stroke-width="1.15"/><line x1="323" y1="93.85" x2="323" y2="98" stroke="rgba(255,0,0,0.4)" stroke-width="1.15"/>
<line x1="226.2" y1="47.4" x2="226.2" y2="97.2" stroke="#7a7a7a" stroke-width="0.8" stroke-dasharray="1.4,1"/>
<circle cx="41.05" cy="57.5" r="1.6" fill="url(#gO)"/>
<circle cx="63.17" cy="57.5" r="1.6" fill="url(#gO)"/>
<circle cx="85.29" cy="57.5" r="1.6" fill="url(#gO)"/>
<circle cx="107.41" cy="57.5" r="1.6" fill="url(#gO)"/>
<circle cx="129.53" cy="57.5" r="1.6" fill="url(#gO)"/>
<circle cx="151.65" cy="57.5" r="1.6" fill="url(#gO)"/>
<circle cx="173.77" cy="57.5" r="1.6" fill="url(#gO)"/>
<circle cx="195.89" cy="57.5" r="1.6" fill="url(#gO)"/>
<circle cx="218.01" cy="57.5" r="1.6" fill="url(#gO)"/>
<circle cx="241.6" cy="57.5" r="1.5" fill="url(#gO)"/>
<circle cx="264.5" cy="57.5" r="1.5" fill="url(#gO)"/>
<circle cx="287.6" cy="57.5" r="1.5" fill="url(#gO)"/>
<circle cx="311" cy="57.5" r="1.5" fill="url(#gO)"/>
<circle cx="333.6" cy="57.5" r="1.5" fill="url(#gO)"/>
<circle cx="30.55" cy="57.5" r="2.5" fill="url(#gAl)"/>
<circle cx="52.67" cy="57.5" r="2.5" fill="url(#gAl)"/>
<circle cx="74.79" cy="57.5" r="2.5" fill="url(#gAl)"/>
<circle cx="96.91" cy="57.5" r="2.5" fill="url(#gAl)"/>
<circle cx="119.03" cy="57.5" r="2.5" fill="url(#gAl)"/>
<circle cx="141.15" cy="57.5" r="2.5" fill="url(#gAl)"/>
<circle cx="163.27" cy="57.5" r="2.5" fill="url(#gAl)"/>
<circle cx="185.39" cy="57.5" r="2.5" fill="url(#gAl)"/>
<circle cx="207.51" cy="57.5" r="2.5" fill="url(#gAl)"/>
<circle cx="230.6" cy="57.5" r="2.5" fill="url(#gTi)"/>
<circle cx="254.1" cy="57.5" r="2.5" fill="url(#gTi)"/>
<circle cx="277.4" cy="57.5" r="2.5" fill="url(#gTi)"/>
<circle cx="300.7" cy="57.5" r="2.5" fill="url(#gTi)"/>
<circle cx="323.7" cy="57.5" r="2.5" fill="url(#gTi)"/>
<circle cx="41.05" cy="73.5" r="1.6" fill="url(#gO)"/>
<circle cx="63.17" cy="73.5" r="1.6" fill="url(#gO)"/>
<circle cx="85.29" cy="73.5" r="1.6" fill="url(#gO)"/>
<circle cx="107.41" cy="73.5" r="1.6" fill="url(#gO)"/>
<circle cx="129.53" cy="73.5" r="1.6" fill="url(#gO)"/>
<circle cx="151.65" cy="73.5" r="1.6" fill="url(#gO)"/>
<circle cx="173.77" cy="73.5" r="1.6" fill="url(#gO)"/>
<circle cx="195.89" cy="73.5" r="1.6" fill="url(#gO)"/>
<circle cx="218.01" cy="73.5" r="1.6" fill="url(#gO)"/>
<circle cx="241.6" cy="73.5" r="1.5" fill="url(#gO)"/>
<circle cx="264.5" cy="73.5" r="1.5" fill="url(#gO)"/>
<circle cx="287.6" cy="73.5" r="1.5" fill="url(#gO)"/>
<circle cx="311" cy="73.5" r="1.5" fill="url(#gO)"/>
<circle cx="333.6" cy="73.5" r="1.5" fill="url(#gO)"/>
<circle cx="30.55" cy="73.5" r="2.5" fill="url(#gAl)"/>
<circle cx="52.67" cy="73.5" r="2.5" fill="url(#gAl)"/>
<circle cx="74.79" cy="73.5" r="2.5" fill="url(#gAl)"/>
<circle cx="96.91" cy="73.5" r="2.5" fill="url(#gAl)"/>
<circle cx="119.03" cy="73.5" r="2.5" fill="url(#gAl)"/>
<circle cx="141.15" cy="73.5" r="2.5" fill="url(#gAl)"/>
<circle cx="163.27" cy="73.5" r="2.5" fill="url(#gAl)"/>
<circle cx="185.39" cy="73.5" r="2.5" fill="url(#gAl)"/>
<circle cx="207.51" cy="73.5" r="2.5" fill="url(#gAl)"/>
<circle cx="230.6" cy="73.5" r="2.5" fill="url(#gTi)"/>
<circle cx="254.1" cy="73.5" r="2.5" fill="url(#gTi)"/>
<circle cx="277.4" cy="73.5" r="2.5" fill="url(#gTi)"/>
<circle cx="300.7" cy="73.5" r="2.5" fill="url(#gTi)"/>
<circle cx="323.7" cy="73.5" r="2.5" fill="url(#gTi)"/>
<circle cx="41.05" cy="89.7" r="1.6" fill="url(#gO)"/>
<circle cx="63.17" cy="89.7" r="1.6" fill="url(#gO)"/>
<circle cx="85.29" cy="89.7" r="1.6" fill="url(#gO)"/>
<circle cx="107.41" cy="89.7" r="1.6" fill="url(#gO)"/>
<circle cx="129.53" cy="89.7" r="1.6" fill="url(#gO)"/>
<circle cx="151.65" cy="89.7" r="1.6" fill="url(#gO)"/>
<circle cx="173.77" cy="89.7" r="1.6" fill="url(#gO)"/>
<circle cx="195.89" cy="89.7" r="1.6" fill="url(#gO)"/>
<circle cx="218.01" cy="89.7" r="1.6" fill="url(#gO)"/>
<circle cx="241.6" cy="89.7" r="1.5" fill="url(#gO)"/>
<circle cx="264.5" cy="89.7" r="1.5" fill="url(#gO)"/>
<circle cx="287.6" cy="89.7" r="1.5" fill="url(#gO)"/>
<circle cx="311" cy="89.7" r="1.5" fill="url(#gO)"/>
<circle cx="333.6" cy="89.7" r="1.5" fill="url(#gO)"/>
<circle cx="30.55" cy="89.7" r="2.5" fill="url(#gAl)"/>
<circle cx="52.67" cy="89.7" r="2.5" fill="url(#gAl)"/>
<circle cx="74.79" cy="89.7" r="2.5" fill="url(#gAl)"/>
<circle cx="96.91" cy="89.7" r="2.5" fill="url(#gAl)"/>
<circle cx="119.03" cy="89.7" r="2.5" fill="url(#gAl)"/>
<circle cx="141.15" cy="89.7" r="2.5" fill="url(#gAl)"/>
<circle cx="163.27" cy="89.7" r="2.5" fill="url(#gAl)"/>
<circle cx="185.39" cy="89.7" r="2.5" fill="url(#gAl)"/>
<circle cx="207.51" cy="89.7" r="2.5" fill="url(#gAl)"/>
<circle cx="230.6" cy="89.7" r="2.5" fill="url(#gTi)"/>
<circle cx="254.1" cy="89.7" r="2.5" fill="url(#gTi)"/>
<circle cx="277.4" cy="89.7" r="2.5" fill="url(#gTi)"/>
<circle cx="300.7" cy="89.7" r="2.5" fill="url(#gTi)"/>
<circle cx="323.7" cy="89.7" r="2.5" fill="url(#gTi)"/>
<circle cx="30.55" cy="49.2" r="1.8" fill="url(#gO)"/>
<circle cx="52.67" cy="49.2" r="1.8" fill="url(#gO)"/>
<circle cx="74.79" cy="49.2" r="1.8" fill="url(#gO)"/>
<circle cx="96.91" cy="49.2" r="1.8" fill="url(#gO)"/>
<circle cx="119.03" cy="49.2" r="1.8" fill="url(#gO)"/>
<circle cx="141.15" cy="49.2" r="1.8" fill="url(#gO)"/>
<circle cx="163.27" cy="49.2" r="1.8" fill="url(#gO)"/>
<circle cx="185.39" cy="49.2" r="1.8" fill="url(#gO)"/>
<circle cx="207.51" cy="49.2" r="1.8" fill="url(#gO)"/>
<circle cx="229.8" cy="49.2" r="1.8" fill="url(#gO)"/>
<circle cx="253.3" cy="49.2" r="1.8" fill="url(#gO)"/>
<circle cx="276.6" cy="49.2" r="1.8" fill="url(#gO)"/>
<circle cx="299.9" cy="49.2" r="1.8" fill="url(#gO)"/>
<circle cx="322.9" cy="49.2" r="1.8" fill="url(#gO)"/>
<ellipse cx="30.55" cy="64.8" rx="1.6" ry="2.8" fill="url(#gO)"/>
<circle cx="52.67" cy="65.4" r="1.8" fill="url(#gO)"/>
<circle cx="74.79" cy="65.4" r="1.8" fill="url(#gO)"/>
<circle cx="96.91" cy="65.4" r="1.8" fill="url(#gO)"/>
<circle cx="119.03" cy="65.4" r="1.8" fill="url(#gO)"/>
<circle cx="141.15" cy="65.4" r="1.8" fill="url(#gO)"/>
<circle cx="163.27" cy="65.4" r="1.8" fill="url(#gO)"/>
<circle cx="185.39" cy="65.4" r="1.8" fill="url(#gO)"/>
<circle cx="207.51" cy="65.4" r="1.8" fill="url(#gO)"/>
<circle cx="229.8" cy="65.4" r="1.8" fill="url(#gO)"/>
<circle cx="253.3" cy="65.4" r="1.8" fill="url(#gO)"/>
<circle cx="276.6" cy="65.4" r="1.8" fill="url(#gO)"/>
<circle cx="299.9" cy="65.4" r="1.8" fill="url(#gO)"/>
<circle cx="322.9" cy="65.4" r="1.8" fill="url(#gO)"/>
<circle cx="30.55" cy="81.6" r="1.8" fill="url(#gO)"/>
<circle cx="52.67" cy="81.6" r="1.8" fill="url(#gO)"/>
<circle cx="74.79" cy="81.6" r="1.8" fill="url(#gO)"/>
<circle cx="96.91" cy="81.6" r="1.8" fill="url(#gO)"/>
<circle cx="119.03" cy="81.6" r="1.8" fill="url(#gO)"/>
<circle cx="141.15" cy="81.6" r="1.8" fill="url(#gO)"/>
<circle cx="163.27" cy="81.6" r="1.8" fill="url(#gO)"/>
<circle cx="185.39" cy="81.6" r="1.8" fill="url(#gO)"/>
<circle cx="207.51" cy="81.6" r="1.8" fill="url(#gO)"/>
<circle cx="229.8" cy="81.6" r="1.8" fill="url(#gO)"/>
<circle cx="253.3" cy="81.6" r="1.8" fill="url(#gO)"/>
<circle cx="276.6" cy="81.6" r="1.8" fill="url(#gO)"/>
<circle cx="299.9" cy="81.6" r="1.8" fill="url(#gO)"/>
<circle cx="322.9" cy="81.6" r="1.8" fill="url(#gO)"/>
<ellipse cx="30.55" cy="97.8" rx="1.6" ry="2.8" fill="url(#gO)"/>
<circle cx="52.67" cy="98" r="1.8" fill="url(#gO)"/>
<circle cx="74.79" cy="98" r="1.8" fill="url(#gO)"/>
<circle cx="96.91" cy="98" r="1.8" fill="url(#gO)"/>
<circle cx="119.03" cy="98" r="1.8" fill="url(#gO)"/>
<circle cx="141.15" cy="98" r="1.8" fill="url(#gO)"/>
<circle cx="163.27" cy="98" r="1.8" fill="url(#gO)"/>
<circle cx="185.39" cy="98" r="1.8" fill="url(#gO)"/>
<circle cx="207.51" cy="98" r="1.8" fill="url(#gO)"/>
<circle cx="229.8" cy="98" r="1.8" fill="url(#gO)"/>
<circle cx="253.3" cy="98" r="1.8" fill="url(#gO)"/>
<circle cx="276.6" cy="98" r="1.8" fill="url(#gO)"/>
<circle cx="299.9" cy="98" r="1.8" fill="url(#gO)"/>
<circle cx="322.9" cy="98" r="1.8" fill="url(#gO)"/>
<circle cx="41.6" cy="162.8" r="3.95" fill="url(#gLa)"/>
<circle cx="63.68" cy="162.8" r="3.95" fill="url(#gLa)"/>
<circle cx="85.76" cy="162.8" r="3.95" fill="url(#gLa)"/>
<circle cx="107.84" cy="162.8" r="3.95" fill="url(#gLa)"/>
<circle cx="129.92" cy="162.8" r="3.95" fill="url(#gLa)"/>
<circle cx="152" cy="162.8" r="3.95" fill="url(#gLa)"/>
<circle cx="174.08" cy="162.8" r="3.95" fill="url(#gLa)"/>
<circle cx="196.16" cy="162.8" r="3.95" fill="url(#gLa)"/>
<circle cx="218.24" cy="162.8" r="3.95" fill="url(#gLa)"/>
<circle cx="243" cy="162.8" r="4.2" fill="url(#gSr)"/>
<circle cx="265.9" cy="162.8" r="4.2" fill="url(#gSr)"/>
<circle cx="289.1" cy="162.8" r="4.2" fill="url(#gSr)"/>
<circle cx="312.2" cy="162.8" r="4.2" fill="url(#gSr)"/>
<circle cx="334.6" cy="162.8" r="4.2" fill="url(#gSr)"/>
<circle cx="41.6" cy="179" r="3.95" fill="url(#gLa)"/>
<circle cx="63.68" cy="179" r="3.95" fill="url(#gLa)"/>
<circle cx="85.76" cy="179" r="3.95" fill="url(#gLa)"/>
<circle cx="107.84" cy="179" r="3.95" fill="url(#gLa)"/>
<circle cx="129.92" cy="179" r="3.95" fill="url(#gLa)"/>
<circle cx="152" cy="179" r="3.95" fill="url(#gLa)"/>
<circle cx="174.08" cy="179" r="3.95" fill="url(#gLa)"/>
<circle cx="196.16" cy="179" r="3.95" fill="url(#gLa)"/>
<circle cx="218.24" cy="179" r="3.95" fill="url(#gLa)"/>
<circle cx="243" cy="179" r="4.2" fill="url(#gSr)"/>
<circle cx="265.9" cy="179" r="4.2" fill="url(#gSr)"/>
<circle cx="289.1" cy="179" r="4.2" fill="url(#gSr)"/>
<circle cx="312.2" cy="179" r="4.2" fill="url(#gSr)"/>
<circle cx="334.6" cy="179" r="4.2" fill="url(#gSr)"/>
<circle cx="41.6" cy="195.7" r="3.95" fill="url(#gLa)"/>
<circle cx="63.68" cy="195.7" r="3.95" fill="url(#gLa)"/>
<circle cx="85.76" cy="195.7" r="3.95" fill="url(#gLa)"/>
<circle cx="107.84" cy="195.7" r="3.95" fill="url(#gLa)"/>
<circle cx="129.92" cy="195.7" r="3.95" fill="url(#gLa)"/>
<circle cx="152" cy="195.7" r="3.95" fill="url(#gLa)"/>
<circle cx="174.08" cy="195.7" r="3.95" fill="url(#gLa)"/>
<circle cx="196.16" cy="195.7" r="3.95" fill="url(#gLa)"/>
<circle cx="218.24" cy="195.7" r="3.95" fill="url(#gLa)"/>
<circle cx="243" cy="195.7" r="4.2" fill="url(#gSr)"/>
<circle cx="265.9" cy="195.7" r="4.2" fill="url(#gSr)"/>
<circle cx="289.1" cy="195.7" r="4.2" fill="url(#gSr)"/>
<circle cx="312.2" cy="195.7" r="4.2" fill="url(#gSr)"/>
<circle cx="334.6" cy="195.7" r="4.2" fill="url(#gSr)"/>
<line x1="30.6" y1="162.8" x2="30.85" y2="162.8" stroke="rgba(170,90,230,0.42)" stroke-width="1.15"/><line x1="30.85" y1="162.8" x2="31.1" y2="162.8" stroke="rgba(170,90,230,0.42)" stroke-width="1.15"/>
<line x1="31.1" y1="162.8" x2="36.35" y2="162.8" stroke="rgba(170,90,230,0.42)" stroke-width="1.15"/><line x1="36.35" y1="162.8" x2="41.6" y2="162.8" stroke="rgba(255,0,0,0.4)" stroke-width="1.15"/>
<line x1="41.6" y1="162.8" x2="47.39" y2="162.8" stroke="rgba(255,0,0,0.4)" stroke-width="1.15"/><line x1="47.39" y1="162.8" x2="53.18" y2="162.8" stroke="rgba(170,90,230,0.42)" stroke-width="1.15"/>
<line x1="53.18" y1="162.8" x2="58.43" y2="162.8" stroke="rgba(170,90,230,0.42)" stroke-width="1.15"/><line x1="58.43" y1="162.8" x2="63.68" y2="162.8" stroke="rgba(255,0,0,0.4)" stroke-width="1.15"/>
<line x1="63.68" y1="162.8" x2="69.47" y2="162.8" stroke="rgba(255,0,0,0.4)" stroke-width="1.15"/><line x1="69.47" y1="162.8" x2="75.26" y2="162.8" stroke="rgba(170,90,230,0.42)" stroke-width="1.15"/>
<line x1="75.26" y1="162.8" x2="80.51" y2="162.8" stroke="rgba(170,90,230,0.42)" stroke-width="1.15"/><line x1="80.51" y1="162.8" x2="85.76" y2="162.8" stroke="rgba(255,0,0,0.4)" stroke-width="1.15"/>
<line x1="85.76" y1="162.8" x2="91.55" y2="162.8" stroke="rgba(255,0,0,0.4)" stroke-width="1.15"/><line x1="91.55" y1="162.8" x2="97.34" y2="162.8" stroke="rgba(170,90,230,0.42)" stroke-width="1.15"/>
<line x1="97.34" y1="162.8" x2="102.59" y2="162.8" stroke="rgba(170,90,230,0.42)" stroke-width="1.15"/><line x1="102.59" y1="162.8" x2="107.84" y2="162.8" stroke="rgba(255,0,0,0.4)" stroke-width="1.15"/>
<line x1="107.84" y1="162.8" x2="113.63" y2="162.8" stroke="rgba(255,0,0,0.4)" stroke-width="1.15"/><line x1="113.63" y1="162.8" x2="119.42" y2="162.8" stroke="rgba(170,90,230,0.42)" stroke-width="1.15"/>
<line x1="119.42" y1="162.8" x2="124.67" y2="162.8" stroke="rgba(170,90,230,0.42)" stroke-width="1.15"/><line x1="124.67" y1="162.8" x2="129.92" y2="162.8" stroke="rgba(255,0,0,0.4)" stroke-width="1.15"/>
<line x1="129.92" y1="162.8" x2="135.71" y2="162.8" stroke="rgba(255,0,0,0.4)" stroke-width="1.15"/><line x1="135.71" y1="162.8" x2="141.5" y2="162.8" stroke="rgba(170,90,230,0.42)" stroke-width="1.15"/>
<line x1="141.5" y1="162.8" x2="146.75" y2="162.8" stroke="rgba(170,90,230,0.42)" stroke-width="1.15"/><line x1="146.75" y1="162.8" x2="152" y2="162.8" stroke="rgba(255,0,0,0.4)" stroke-width="1.15"/>
<line x1="152" y1="162.8" x2="157.79" y2="162.8" stroke="rgba(255,0,0,0.4)" stroke-width="1.15"/><line x1="157.79" y1="162.8" x2="163.58" y2="162.8" stroke="rgba(170,90,230,0.42)" stroke-width="1.15"/>
<line x1="163.58" y1="162.8" x2="168.83" y2="162.8" stroke="rgba(170,90,230,0.42)" stroke-width="1.15"/><line x1="168.83" y1="162.8" x2="174.08" y2="162.8" stroke="rgba(255,0,0,0.4)" stroke-width="1.15"/>
<line x1="174.08" y1="162.8" x2="179.87" y2="162.8" stroke="rgba(255,0,0,0.4)" stroke-width="1.15"/><line x1="179.87" y1="162.8" x2="185.66" y2="162.8" stroke="rgba(170,90,230,0.42)" stroke-width="1.15"/>
<line x1="185.66" y1="162.8" x2="190.91" y2="162.8" stroke="rgba(170,90,230,0.42)" stroke-width="1.15"/><line x1="190.91" y1="162.8" x2="196.16" y2="162.8" stroke="rgba(255,0,0,0.4)" stroke-width="1.15"/>
<line x1="196.16" y1="162.8" x2="201.95" y2="162.8" stroke="rgba(255,0,0,0.4)" stroke-width="1.15"/><line x1="201.95" y1="162.8" x2="207.74" y2="162.8" stroke="rgba(170,90,230,0.42)" stroke-width="1.15"/>
<line x1="207.74" y1="162.8" x2="212.99" y2="162.8" stroke="rgba(170,90,230,0.42)" stroke-width="1.15"/><line x1="212.99" y1="162.8" x2="218.24" y2="162.8" stroke="rgba(255,0,0,0.4)" stroke-width="1.15"/>
<line x1="218.24" y1="162.8" x2="224.47" y2="162.8" stroke="rgba(255,0,0,0.4)" stroke-width="1.15"/><line x1="224.47" y1="162.8" x2="230.7" y2="162.8" stroke="rgba(248,160,20,0.45)" stroke-width="1.15"/>
<line x1="230.7" y1="162.8" x2="236.1" y2="162.8" stroke="rgba(248,160,20,0.45)" stroke-width="1.15"/><line x1="236.1" y1="162.8" x2="241.5" y2="162.8" stroke="rgba(255,0,0,0.4)" stroke-width="1.15"/>
<line x1="241.5" y1="162.8" x2="247.8" y2="162.8" stroke="rgba(255,0,0,0.4)" stroke-width="1.15"/><line x1="247.8" y1="162.8" x2="254.1" y2="162.8" stroke="rgba(248,160,20,0.45)" stroke-width="1.15"/>
<line x1="254.1" y1="162.8" x2="259.25" y2="162.8" stroke="rgba(248,160,20,0.45)" stroke-width="1.15"/><line x1="259.25" y1="162.8" x2="264.4" y2="162.8" stroke="rgba(255,0,0,0.4)" stroke-width="1.15"/>
<line x1="264.4" y1="162.8" x2="270.9" y2="162.8" stroke="rgba(255,0,0,0.4)" stroke-width="1.15"/><line x1="270.9" y1="162.8" x2="277.4" y2="162.8" stroke="rgba(248,160,20,0.45)" stroke-width="1.15"/>
<line x1="277.4" y1="162.8" x2="282.5" y2="162.8" stroke="rgba(248,160,20,0.45)" stroke-width="1.15"/><line x1="282.5" y1="162.8" x2="287.6" y2="162.8" stroke="rgba(255,0,0,0.4)" stroke-width="1.15"/>
<line x1="287.6" y1="162.8" x2="294.05" y2="162.8" stroke="rgba(255,0,0,0.4)" stroke-width="1.15"/><line x1="294.05" y1="162.8" x2="300.5" y2="162.8" stroke="rgba(248,160,20,0.45)" stroke-width="1.15"/>
<line x1="300.5" y1="162.8" x2="305.6" y2="162.8" stroke="rgba(248,160,20,0.45)" stroke-width="1.15"/><line x1="305.6" y1="162.8" x2="310.7" y2="162.8" stroke="rgba(255,0,0,0.4)" stroke-width="1.15"/>
<line x1="310.7" y1="162.8" x2="317.2" y2="162.8" stroke="rgba(255,0,0,0.4)" stroke-width="1.15"/><line x1="317.2" y1="162.8" x2="323.7" y2="162.8" stroke="rgba(248,160,20,0.45)" stroke-width="1.15"/>
<line x1="323.7" y1="162.8" x2="328.4" y2="162.8" stroke="rgba(248,160,20,0.45)" stroke-width="1.15"/><line x1="328.4" y1="162.8" x2="333.1" y2="162.8" stroke="rgba(255,0,0,0.4)" stroke-width="1.15"/>
<line x1="333.1" y1="162.8" x2="339.1" y2="162.8" stroke="rgba(255,0,0,0.4)" stroke-width="0.9"/>
<line x1="30.6" y1="179" x2="30.85" y2="179" stroke="rgba(170,90,230,0.42)" stroke-width="1.15"/><line x1="30.85" y1="179" x2="31.1" y2="179" stroke="rgba(170,90,230,0.42)" stroke-width="1.15"/>
<line x1="31.1" y1="179" x2="36.35" y2="179" stroke="rgba(170,90,230,0.42)" stroke-width="1.15"/><line x1="36.35" y1="179" x2="41.6" y2="179" stroke="rgba(255,0,0,0.4)" stroke-width="1.15"/>
<line x1="41.6" y1="179" x2="47.39" y2="179" stroke="rgba(255,0,0,0.4)" stroke-width="1.15"/><line x1="47.39" y1="179" x2="53.18" y2="179" stroke="rgba(170,90,230,0.42)" stroke-width="1.15"/>
<line x1="53.18" y1="179" x2="58.43" y2="179" stroke="rgba(170,90,230,0.42)" stroke-width="1.15"/><line x1="58.43" y1="179" x2="63.68" y2="179" stroke="rgba(255,0,0,0.4)" stroke-width="1.15"/>
<line x1="63.68" y1="179" x2="69.47" y2="179" stroke="rgba(255,0,0,0.4)" stroke-width="1.15"/><line x1="69.47" y1="179" x2="75.26" y2="179" stroke="rgba(170,90,230,0.42)" stroke-width="1.15"/>
<line x1="75.26" y1="179" x2="80.51" y2="179" stroke="rgba(170,90,230,0.42)" stroke-width="1.15"/><line x1="80.51" y1="179" x2="85.76" y2="179" stroke="rgba(255,0,0,0.4)" stroke-width="1.15"/>
<line x1="85.76" y1="179" x2="91.55" y2="179" stroke="rgba(255,0,0,0.4)" stroke-width="1.15"/><line x1="91.55" y1="179" x2="97.34" y2="179" stroke="rgba(170,90,230,0.42)" stroke-width="1.15"/>
<line x1="97.34" y1="179" x2="102.59" y2="179" stroke="rgba(170,90,230,0.42)" stroke-width="1.15"/><line x1="102.59" y1="179" x2="107.84" y2="179" stroke="rgba(255,0,0,0.4)" stroke-width="1.15"/>
<line x1="107.84" y1="179" x2="113.63" y2="179" stroke="rgba(255,0,0,0.4)" stroke-width="1.15"/><line x1="113.63" y1="179" x2="119.42" y2="179" stroke="rgba(170,90,230,0.42)" stroke-width="1.15"/>
<line x1="119.42" y1="179" x2="124.67" y2="179" stroke="rgba(170,90,230,0.42)" stroke-width="1.15"/><line x1="124.67" y1="179" x2="129.92" y2="179" stroke="rgba(255,0,0,0.4)" stroke-width="1.15"/>
<line x1="129.92" y1="179" x2="135.71" y2="179" stroke="rgba(255,0,0,0.4)" stroke-width="1.15"/><line x1="135.71" y1="179" x2="141.5" y2="179" stroke="rgba(170,90,230,0.42)" stroke-width="1.15"/>
<line x1="141.5" y1="179" x2="146.75" y2="179" stroke="rgba(170,90,230,0.42)" stroke-width="1.15"/><line x1="146.75" y1="179" x2="152" y2="179" stroke="rgba(255,0,0,0.4)" stroke-width="1.15"/>
<line x1="152" y1="179" x2="157.79" y2="179" stroke="rgba(255,0,0,0.4)" stroke-width="1.15"/><line x1="157.79" y1="179" x2="163.58" y2="179" stroke="rgba(170,90,230,0.42)" stroke-width="1.15"/>
<line x1="163.58" y1="179" x2="168.83" y2="179" stroke="rgba(170,90,230,0.42)" stroke-width="1.15"/><line x1="168.83" y1="179" x2="174.08" y2="179" stroke="rgba(255,0,0,0.4)" stroke-width="1.15"/>
<line x1="174.08" y1="179" x2="179.87" y2="179" stroke="rgba(255,0,0,0.4)" stroke-width="1.15"/><line x1="179.87" y1="179" x2="185.66" y2="179" stroke="rgba(170,90,230,0.42)" stroke-width="1.15"/>
<line x1="185.66" y1="179" x2="190.91" y2="179" stroke="rgba(170,90,230,0.42)" stroke-width="1.15"/><line x1="190.91" y1="179" x2="196.16" y2="179" stroke="rgba(255,0,0,0.4)" stroke-width="1.15"/>
<line x1="196.16" y1="179" x2="201.95" y2="179" stroke="rgba(255,0,0,0.4)" stroke-width="1.15"/><line x1="201.95" y1="179" x2="207.74" y2="179" stroke="rgba(170,90,230,0.42)" stroke-width="1.15"/>
<line x1="207.74" y1="179" x2="212.99" y2="179" stroke="rgba(170,90,230,0.42)" stroke-width="1.15"/><line x1="212.99" y1="179" x2="218.24" y2="179" stroke="rgba(255,0,0,0.4)" stroke-width="1.15"/>
<line x1="218.24" y1="179" x2="224.47" y2="179" stroke="rgba(255,0,0,0.4)" stroke-width="1.15"/><line x1="224.47" y1="179" x2="230.7" y2="179" stroke="rgba(248,160,20,0.45)" stroke-width="1.15"/>
<line x1="230.7" y1="179" x2="236.1" y2="179" stroke="rgba(248,160,20,0.45)" stroke-width="1.15"/><line x1="236.1" y1="179" x2="241.5" y2="179" stroke="rgba(255,0,0,0.4)" stroke-width="1.15"/>
<line x1="241.5" y1="179" x2="247.8" y2="179" stroke="rgba(255,0,0,0.4)" stroke-width="1.15"/><line x1="247.8" y1="179" x2="254.1" y2="179" stroke="rgba(248,160,20,0.45)" stroke-width="1.15"/>
<line x1="254.1" y1="179" x2="259.25" y2="179" stroke="rgba(248,160,20,0.45)" stroke-width="1.15"/><line x1="259.25" y1="179" x2="264.4" y2="179" stroke="rgba(255,0,0,0.4)" stroke-width="1.15"/>
<line x1="264.4" y1="179" x2="270.9" y2="179" stroke="rgba(255,0,0,0.4)" stroke-width="1.15"/><line x1="270.9" y1="179" x2="277.4" y2="179" stroke="rgba(248,160,20,0.45)" stroke-width="1.15"/>
<line x1="277.4" y1="179" x2="282.5" y2="179" stroke="rgba(248,160,20,0.45)" stroke-width="1.15"/><line x1="282.5" y1="179" x2="287.6" y2="179" stroke="rgba(255,0,0,0.4)" stroke-width="1.15"/>
<line x1="287.6" y1="179" x2="294.05" y2="179" stroke="rgba(255,0,0,0.4)" stroke-width="1.15"/><line x1="294.05" y1="179" x2="300.5" y2="179" stroke="rgba(248,160,20,0.45)" stroke-width="1.15"/>
<line x1="300.5" y1="179" x2="305.6" y2="179" stroke="rgba(248,160,20,0.45)" stroke-width="1.15"/><line x1="305.6" y1="179" x2="310.7" y2="179" stroke="rgba(255,0,0,0.4)" stroke-width="1.15"/>
<line x1="310.7" y1="179" x2="317.2" y2="179" stroke="rgba(255,0,0,0.4)" stroke-width="1.15"/><line x1="317.2" y1="179" x2="323.7" y2="179" stroke="rgba(248,160,20,0.45)" stroke-width="1.15"/>
<line x1="323.7" y1="179" x2="328.4" y2="179" stroke="rgba(248,160,20,0.45)" stroke-width="1.15"/><line x1="328.4" y1="179" x2="333.1" y2="179" stroke="rgba(255,0,0,0.4)" stroke-width="1.15"/>
<line x1="333.1" y1="179" x2="339.1" y2="179" stroke="rgba(255,0,0,0.4)" stroke-width="0.9"/>
<line x1="30.6" y1="195.7" x2="30.85" y2="195.7" stroke="rgba(170,90,230,0.42)" stroke-width="1.15"/><line x1="30.85" y1="195.7" x2="31.1" y2="195.7" stroke="rgba(170,90,230,0.42)" stroke-width="1.15"/>
<line x1="31.1" y1="195.7" x2="36.35" y2="195.7" stroke="rgba(170,90,230,0.42)" stroke-width="1.15"/><line x1="36.35" y1="195.7" x2="41.6" y2="195.7" stroke="rgba(255,0,0,0.4)" stroke-width="1.15"/>
<line x1="41.6" y1="195.7" x2="47.39" y2="195.7" stroke="rgba(255,0,0,0.4)" stroke-width="1.15"/><line x1="47.39" y1="195.7" x2="53.18" y2="195.7" stroke="rgba(170,90,230,0.42)" stroke-width="1.15"/>
<line x1="53.18" y1="195.7" x2="58.43" y2="195.7" stroke="rgba(170,90,230,0.42)" stroke-width="1.15"/><line x1="58.43" y1="195.7" x2="63.68" y2="195.7" stroke="rgba(255,0,0,0.4)" stroke-width="1.15"/>
<line x1="63.68" y1="195.7" x2="69.47" y2="195.7" stroke="rgba(255,0,0,0.4)" stroke-width="1.15"/><line x1="69.47" y1="195.7" x2="75.26" y2="195.7" stroke="rgba(170,90,230,0.42)" stroke-width="1.15"/>
<line x1="75.26" y1="195.7" x2="80.51" y2="195.7" stroke="rgba(170,90,230,0.42)" stroke-width="1.15"/><line x1="80.51" y1="195.7" x2="85.76" y2="195.7" stroke="rgba(255,0,0,0.4)" stroke-width="1.15"/>
<line x1="85.76" y1="195.7" x2="91.55" y2="195.7" stroke="rgba(255,0,0,0.4)" stroke-width="1.15"/><line x1="91.55" y1="195.7" x2="97.34" y2="195.7" stroke="rgba(170,90,230,0.42)" stroke-width="1.15"/>
<line x1="97.34" y1="195.7" x2="102.59" y2="195.7" stroke="rgba(170,90,230,0.42)" stroke-width="1.15"/><line x1="102.59" y1="195.7" x2="107.84" y2="195.7" stroke="rgba(255,0,0,0.4)" stroke-width="1.15"/>
<line x1="107.84" y1="195.7" x2="113.63" y2="195.7" stroke="rgba(255,0,0,0.4)" stroke-width="1.15"/><line x1="113.63" y1="195.7" x2="119.42" y2="195.7" stroke="rgba(170,90,230,0.42)" stroke-width="1.15"/>
<line x1="119.42" y1="195.7" x2="124.67" y2="195.7" stroke="rgba(170,90,230,0.42)" stroke-width="1.15"/><line x1="124.67" y1="195.7" x2="129.92" y2="195.7" stroke="rgba(255,0,0,0.4)" stroke-width="1.15"/>
<line x1="129.92" y1="195.7" x2="135.71" y2="195.7" stroke="rgba(255,0,0,0.4)" stroke-width="1.15"/><line x1="135.71" y1="195.7" x2="141.5" y2="195.7" stroke="rgba(170,90,230,0.42)" stroke-width="1.15"/>
<line x1="141.5" y1="195.7" x2="146.75" y2="195.7" stroke="rgba(170,90,230,0.42)" stroke-width="1.15"/><line x1="146.75" y1="195.7" x2="152" y2="195.7" stroke="rgba(255,0,0,0.4)" stroke-width="1.15"/>
<line x1="152" y1="195.7" x2="157.79" y2="195.7" stroke="rgba(255,0,0,0.4)" stroke-width="1.15"/><line x1="157.79" y1="195.7" x2="163.58" y2="195.7" stroke="rgba(170,90,230,0.42)" stroke-width="1.15"/>
<line x1="163.58" y1="195.7" x2="168.83" y2="195.7" stroke="rgba(170,90,230,0.42)" stroke-width="1.15"/><line x1="168.83" y1="195.7" x2="174.08" y2="195.7" stroke="rgba(255,0,0,0.4)" stroke-width="1.15"/>
<line x1="174.08" y1="195.7" x2="179.87" y2="195.7" stroke="rgba(255,0,0,0.4)" stroke-width="1.15"/><line x1="179.87" y1="195.7" x2="185.66" y2="195.7" stroke="rgba(170,90,230,0.42)" stroke-width="1.15"/>
<line x1="185.66" y1="195.7" x2="190.91" y2="195.7" stroke="rgba(170,90,230,0.42)" stroke-width="1.15"/><line x1="190.91" y1="195.7" x2="196.16" y2="195.7" stroke="rgba(255,0,0,0.4)" stroke-width="1.15"/>
<line x1="196.16" y1="195.7" x2="201.95" y2="195.7" stroke="rgba(255,0,0,0.4)" stroke-width="1.15"/><line x1="201.95" y1="195.7" x2="207.74" y2="195.7" stroke="rgba(170,90,230,0.42)" stroke-width="1.15"/>
<line x1="207.74" y1="195.7" x2="212.99" y2="195.7" stroke="rgba(170,90,230,0.42)" stroke-width="1.15"/><line x1="212.99" y1="195.7" x2="218.24" y2="195.7" stroke="rgba(255,0,0,0.4)" stroke-width="1.15"/>
<line x1="218.24" y1="195.7" x2="224.47" y2="195.7" stroke="rgba(255,0,0,0.4)" stroke-width="1.15"/><line x1="224.47" y1="195.7" x2="230.7" y2="195.7" stroke="rgba(248,160,20,0.45)" stroke-width="1.15"/>
<line x1="230.7" y1="195.7" x2="236.1" y2="195.7" stroke="rgba(248,160,20,0.45)" stroke-width="1.15"/><line x1="236.1" y1="195.7" x2="241.5" y2="195.7" stroke="rgba(255,0,0,0.4)" stroke-width="1.15"/>
<line x1="241.5" y1="195.7" x2="247.8" y2="195.7" stroke="rgba(255,0,0,0.4)" stroke-width="1.15"/><line x1="247.8" y1="195.7" x2="254.1" y2="195.7" stroke="rgba(248,160,20,0.45)" stroke-width="1.15"/>
<line x1="254.1" y1="195.7" x2="259.25" y2="195.7" stroke="rgba(248,160,20,0.45)" stroke-width="1.15"/><line x1="259.25" y1="195.7" x2="264.4" y2="195.7" stroke="rgba(255,0,0,0.4)" stroke-width="1.15"/>
<line x1="264.4" y1="195.7" x2="270.9" y2="195.7" stroke="rgba(255,0,0,0.4)" stroke-width="1.15"/><line x1="270.9" y1="195.7" x2="277.4" y2="195.7" stroke="rgba(248,160,20,0.45)" stroke-width="1.15"/>
<line x1="277.4" y1="195.7" x2="282.5" y2="195.7" stroke="rgba(248,160,20,0.45)" stroke-width="1.15"/><line x1="282.5" y1="195.7" x2="287.6" y2="195.7" stroke="rgba(255,0,0,0.4)" stroke-width="1.15"/>
<line x1="287.6" y1="195.7" x2="294.05" y2="195.7" stroke="rgba(255,0,0,0.4)" stroke-width="1.15"/><line x1="294.05" y1="195.7" x2="300.5" y2="195.7" stroke="rgba(248,160,20,0.45)" stroke-width="1.15"/>
<line x1="300.5" y1="195.7" x2="305.6" y2="195.7" stroke="rgba(248,160,20,0.45)" stroke-width="1.15"/><line x1="305.6" y1="195.7" x2="310.7" y2="195.7" stroke="rgba(255,0,0,0.4)" stroke-width="1.15"/>
<line x1="310.7" y1="195.7" x2="317.2" y2="195.7" stroke="rgba(255,0,0,0.4)" stroke-width="1.15"/><line x1="317.2" y1="195.7" x2="323.7" y2="195.7" stroke="rgba(248,160,20,0.45)" stroke-width="1.15"/>
<line x1="323.7" y1="195.7" x2="328.4" y2="195.7" stroke="rgba(248,160,20,0.45)" stroke-width="1.15"/><line x1="328.4" y1="195.7" x2="333.1" y2="195.7" stroke="rgba(255,0,0,0.4)" stroke-width="1.15"/>
<line x1="333.1" y1="195.7" x2="339.1" y2="195.7" stroke="rgba(255,0,0,0.4)" stroke-width="0.9"/>
<line x1="31.1" y1="154.6" x2="31.1" y2="158.7" stroke="rgba(255,0,0,0.4)" stroke-width="1.15"/><line x1="31.1" y1="158.7" x2="31.1" y2="162.8" stroke="rgba(170,90,230,0.42)" stroke-width="1.15"/>
<line x1="31.1" y1="162.8" x2="31.1" y2="167" stroke="rgba(170,90,230,0.42)" stroke-width="1.15"/><line x1="31.1" y1="167" x2="31.1" y2="171.2" stroke="rgba(255,0,0,0.4)" stroke-width="1.15"/>
<line x1="31.1" y1="171.2" x2="31.1" y2="175.1" stroke="rgba(255,0,0,0.4)" stroke-width="1.15"/><line x1="31.1" y1="175.1" x2="31.1" y2="179" stroke="rgba(170,90,230,0.42)" stroke-width="1.15"/>
<line x1="31.1" y1="179" x2="31.1" y2="183.2" stroke="rgba(170,90,230,0.42)" stroke-width="1.15"/><line x1="31.1" y1="183.2" x2="31.1" y2="187.4" stroke="rgba(255,0,0,0.4)" stroke-width="1.15"/>
<line x1="31.1" y1="187.4" x2="31.1" y2="191.55" stroke="rgba(255,0,0,0.4)" stroke-width="1.15"/><line x1="31.1" y1="191.55" x2="31.1" y2="195.7" stroke="rgba(170,90,230,0.42)" stroke-width="1.15"/>
<line x1="31.1" y1="195.7" x2="31.1" y2="199.5" stroke="rgba(170,90,230,0.42)" stroke-width="1.15"/><line x1="31.1" y1="199.5" x2="31.1" y2="203.3" stroke="rgba(255,0,0,0.4)" stroke-width="1.15"/>
<line x1="53.18" y1="154.6" x2="53.18" y2="158.7" stroke="rgba(255,0,0,0.4)" stroke-width="1.15"/><line x1="53.18" y1="158.7" x2="53.18" y2="162.8" stroke="rgba(170,90,230,0.42)" stroke-width="1.15"/>
<line x1="53.18" y1="162.8" x2="53.18" y2="167" stroke="rgba(170,90,230,0.42)" stroke-width="1.15"/><line x1="53.18" y1="167" x2="53.18" y2="171.2" stroke="rgba(255,0,0,0.4)" stroke-width="1.15"/>
<line x1="53.18" y1="171.2" x2="53.18" y2="175.1" stroke="rgba(255,0,0,0.4)" stroke-width="1.15"/><line x1="53.18" y1="175.1" x2="53.18" y2="179" stroke="rgba(170,90,230,0.42)" stroke-width="1.15"/>
<line x1="53.18" y1="179" x2="53.18" y2="183.2" stroke="rgba(170,90,230,0.42)" stroke-width="1.15"/><line x1="53.18" y1="183.2" x2="53.18" y2="187.4" stroke="rgba(255,0,0,0.4)" stroke-width="1.15"/>
<line x1="53.18" y1="187.4" x2="53.18" y2="191.55" stroke="rgba(255,0,0,0.4)" stroke-width="1.15"/><line x1="53.18" y1="191.55" x2="53.18" y2="195.7" stroke="rgba(170,90,230,0.42)" stroke-width="1.15"/>
<line x1="53.18" y1="195.7" x2="53.18" y2="199.5" stroke="rgba(170,90,230,0.42)" stroke-width="1.15"/><line x1="53.18" y1="199.5" x2="53.18" y2="203.3" stroke="rgba(255,0,0,0.4)" stroke-width="1.15"/>
<line x1="75.26" y1="154.6" x2="75.26" y2="158.7" stroke="rgba(255,0,0,0.4)" stroke-width="1.15"/><line x1="75.26" y1="158.7" x2="75.26" y2="162.8" stroke="rgba(170,90,230,0.42)" stroke-width="1.15"/>
<line x1="75.26" y1="162.8" x2="75.26" y2="167" stroke="rgba(170,90,230,0.42)" stroke-width="1.15"/><line x1="75.26" y1="167" x2="75.26" y2="171.2" stroke="rgba(255,0,0,0.4)" stroke-width="1.15"/>
<line x1="75.26" y1="171.2" x2="75.26" y2="175.1" stroke="rgba(255,0,0,0.4)" stroke-width="1.15"/><line x1="75.26" y1="175.1" x2="75.26" y2="179" stroke="rgba(170,90,230,0.42)" stroke-width="1.15"/>
<line x1="75.26" y1="179" x2="75.26" y2="183.2" stroke="rgba(170,90,230,0.42)" stroke-width="1.15"/><line x1="75.26" y1="183.2" x2="75.26" y2="187.4" stroke="rgba(255,0,0,0.4)" stroke-width="1.15"/>
<line x1="75.26" y1="187.4" x2="75.26" y2="191.55" stroke="rgba(255,0,0,0.4)" stroke-width="1.15"/><line x1="75.26" y1="191.55" x2="75.26" y2="195.7" stroke="rgba(170,90,230,0.42)" stroke-width="1.15"/>
<line x1="75.26" y1="195.7" x2="75.26" y2="199.5" stroke="rgba(170,90,230,0.42)" stroke-width="1.15"/><line x1="75.26" y1="199.5" x2="75.26" y2="203.3" stroke="rgba(255,0,0,0.4)" stroke-width="1.15"/>
<line x1="97.34" y1="154.6" x2="97.34" y2="158.7" stroke="rgba(255,0,0,0.4)" stroke-width="1.15"/><line x1="97.34" y1="158.7" x2="97.34" y2="162.8" stroke="rgba(170,90,230,0.42)" stroke-width="1.15"/>
<line x1="97.34" y1="162.8" x2="97.34" y2="167" stroke="rgba(170,90,230,0.42)" stroke-width="1.15"/><line x1="97.34" y1="167" x2="97.34" y2="171.2" stroke="rgba(255,0,0,0.4)" stroke-width="1.15"/>
<line x1="97.34" y1="171.2" x2="97.34" y2="175.1" stroke="rgba(255,0,0,0.4)" stroke-width="1.15"/><line x1="97.34" y1="175.1" x2="97.34" y2="179" stroke="rgba(170,90,230,0.42)" stroke-width="1.15"/>
<line x1="97.34" y1="179" x2="97.34" y2="183.2" stroke="rgba(170,90,230,0.42)" stroke-width="1.15"/><line x1="97.34" y1="183.2" x2="97.34" y2="187.4" stroke="rgba(255,0,0,0.4)" stroke-width="1.15"/>
<line x1="97.34" y1="187.4" x2="97.34" y2="191.55" stroke="rgba(255,0,0,0.4)" stroke-width="1.15"/><line x1="97.34" y1="191.55" x2="97.34" y2="195.7" stroke="rgba(170,90,230,0.42)" stroke-width="1.15"/>
<line x1="97.34" y1="195.7" x2="97.34" y2="199.5" stroke="rgba(170,90,230,0.42)" stroke-width="1.15"/><line x1="97.34" y1="199.5" x2="97.34" y2="203.3" stroke="rgba(255,0,0,0.4)" stroke-width="1.15"/>
<line x1="119.42" y1="154.6" x2="119.42" y2="158.7" stroke="rgba(255,0,0,0.4)" stroke-width="1.15"/><line x1="119.42" y1="158.7" x2="119.42" y2="162.8" stroke="rgba(170,90,230,0.42)" stroke-width="1.15"/>
<line x1="119.42" y1="162.8" x2="119.42" y2="167" stroke="rgba(170,90,230,0.42)" stroke-width="1.15"/><line x1="119.42" y1="167" x2="119.42" y2="171.2" stroke="rgba(255,0,0,0.4)" stroke-width="1.15"/>
<line x1="119.42" y1="171.2" x2="119.42" y2="175.1" stroke="rgba(255,0,0,0.4)" stroke-width="1.15"/><line x1="119.42" y1="175.1" x2="119.42" y2="179" stroke="rgba(170,90,230,0.42)" stroke-width="1.15"/>
<line x1="119.42" y1="179" x2="119.42" y2="183.2" stroke="rgba(170,90,230,0.42)" stroke-width="1.15"/><line x1="119.42" y1="183.2" x2="119.42" y2="187.4" stroke="rgba(255,0,0,0.4)" stroke-width="1.15"/>
<line x1="119.42" y1="187.4" x2="119.42" y2="191.55" stroke="rgba(255,0,0,0.4)" stroke-width="1.15"/><line x1="119.42" y1="191.55" x2="119.42" y2="195.7" stroke="rgba(170,90,230,0.42)" stroke-width="1.15"/>
<line x1="119.42" y1="195.7" x2="119.42" y2="199.5" stroke="rgba(170,90,230,0.42)" stroke-width="1.15"/><line x1="119.42" y1="199.5" x2="119.42" y2="203.3" stroke="rgba(255,0,0,0.4)" stroke-width="1.15"/>
<line x1="141.5" y1="154.6" x2="141.5" y2="158.7" stroke="rgba(255,0,0,0.4)" stroke-width="1.15"/><line x1="141.5" y1="158.7" x2="141.5" y2="162.8" stroke="rgba(170,90,230,0.42)" stroke-width="1.15"/>
<line x1="141.5" y1="162.8" x2="141.5" y2="167" stroke="rgba(170,90,230,0.42)" stroke-width="1.15"/><line x1="141.5" y1="167" x2="141.5" y2="171.2" stroke="rgba(255,0,0,0.4)" stroke-width="1.15"/>
<line x1="141.5" y1="171.2" x2="141.5" y2="175.1" stroke="rgba(255,0,0,0.4)" stroke-width="1.15"/><line x1="141.5" y1="175.1" x2="141.5" y2="179" stroke="rgba(170,90,230,0.42)" stroke-width="1.15"/>
<line x1="141.5" y1="179" x2="141.5" y2="183.2" stroke="rgba(170,90,230,0.42)" stroke-width="1.15"/><line x1="141.5" y1="183.2" x2="141.5" y2="187.4" stroke="rgba(255,0,0,0.4)" stroke-width="1.15"/>
<line x1="141.5" y1="187.4" x2="141.5" y2="191.55" stroke="rgba(255,0,0,0.4)" stroke-width="1.15"/><line x1="141.5" y1="191.55" x2="141.5" y2="195.7" stroke="rgba(170,90,230,0.42)" stroke-width="1.15"/>
<line x1="141.5" y1="195.7" x2="141.5" y2="199.5" stroke="rgba(170,90,230,0.42)" stroke-width="1.15"/><line x1="141.5" y1="199.5" x2="141.5" y2="203.3" stroke="rgba(255,0,0,0.4)" stroke-width="1.15"/>
<line x1="163.58" y1="154.6" x2="163.58" y2="158.7" stroke="rgba(255,0,0,0.4)" stroke-width="1.15"/><line x1="163.58" y1="158.7" x2="163.58" y2="162.8" stroke="rgba(170,90,230,0.42)" stroke-width="1.15"/>
<line x1="163.58" y1="162.8" x2="163.58" y2="167" stroke="rgba(170,90,230,0.42)" stroke-width="1.15"/><line x1="163.58" y1="167" x2="163.58" y2="171.2" stroke="rgba(255,0,0,0.4)" stroke-width="1.15"/>
<line x1="163.58" y1="171.2" x2="163.58" y2="175.1" stroke="rgba(255,0,0,0.4)" stroke-width="1.15"/><line x1="163.58" y1="175.1" x2="163.58" y2="179" stroke="rgba(170,90,230,0.42)" stroke-width="1.15"/>
<line x1="163.58" y1="179" x2="163.58" y2="183.2" stroke="rgba(170,90,230,0.42)" stroke-width="1.15"/><line x1="163.58" y1="183.2" x2="163.58" y2="187.4" stroke="rgba(255,0,0,0.4)" stroke-width="1.15"/>
<line x1="163.58" y1="187.4" x2="163.58" y2="191.55" stroke="rgba(255,0,0,0.4)" stroke-width="1.15"/><line x1="163.58" y1="191.55" x2="163.58" y2="195.7" stroke="rgba(170,90,230,0.42)" stroke-width="1.15"/>
<line x1="163.58" y1="195.7" x2="163.58" y2="199.5" stroke="rgba(170,90,230,0.42)" stroke-width="1.15"/><line x1="163.58" y1="199.5" x2="163.58" y2="203.3" stroke="rgba(255,0,0,0.4)" stroke-width="1.15"/>
<line x1="185.66" y1="154.6" x2="185.66" y2="158.7" stroke="rgba(255,0,0,0.4)" stroke-width="1.15"/><line x1="185.66" y1="158.7" x2="185.66" y2="162.8" stroke="rgba(170,90,230,0.42)" stroke-width="1.15"/>
<line x1="185.66" y1="162.8" x2="185.66" y2="167" stroke="rgba(170,90,230,0.42)" stroke-width="1.15"/><line x1="185.66" y1="167" x2="185.66" y2="171.2" stroke="rgba(255,0,0,0.4)" stroke-width="1.15"/>
<line x1="185.66" y1="171.2" x2="185.66" y2="175.1" stroke="rgba(255,0,0,0.4)" stroke-width="1.15"/><line x1="185.66" y1="175.1" x2="185.66" y2="179" stroke="rgba(170,90,230,0.42)" stroke-width="1.15"/>
<line x1="185.66" y1="179" x2="185.66" y2="183.2" stroke="rgba(170,90,230,0.42)" stroke-width="1.15"/><line x1="185.66" y1="183.2" x2="185.66" y2="187.4" stroke="rgba(255,0,0,0.4)" stroke-width="1.15"/>
<line x1="185.66" y1="187.4" x2="185.66" y2="191.55" stroke="rgba(255,0,0,0.4)" stroke-width="1.15"/><line x1="185.66" y1="191.55" x2="185.66" y2="195.7" stroke="rgba(170,90,230,0.42)" stroke-width="1.15"/>
<line x1="185.66" y1="195.7" x2="185.66" y2="199.5" stroke="rgba(170,90,230,0.42)" stroke-width="1.15"/><line x1="185.66" y1="199.5" x2="185.66" y2="203.3" stroke="rgba(255,0,0,0.4)" stroke-width="1.15"/>
<line x1="207.74" y1="154.6" x2="207.74" y2="158.7" stroke="rgba(255,0,0,0.4)" stroke-width="1.15"/><line x1="207.74" y1="158.7" x2="207.74" y2="162.8" stroke="rgba(170,90,230,0.42)" stroke-width="1.15"/>
<line x1="207.74" y1="162.8" x2="207.74" y2="167" stroke="rgba(170,90,230,0.42)" stroke-width="1.15"/><line x1="207.74" y1="167" x2="207.74" y2="171.2" stroke="rgba(255,0,0,0.4)" stroke-width="1.15"/>
<line x1="207.74" y1="171.2" x2="207.74" y2="175.1" stroke="rgba(255,0,0,0.4)" stroke-width="1.15"/><line x1="207.74" y1="175.1" x2="207.74" y2="179" stroke="rgba(170,90,230,0.42)" stroke-width="1.15"/>
<line x1="207.74" y1="179" x2="207.74" y2="183.2" stroke="rgba(170,90,230,0.42)" stroke-width="1.15"/><line x1="207.74" y1="183.2" x2="207.74" y2="187.4" stroke="rgba(255,0,0,0.4)" stroke-width="1.15"/>
<line x1="207.74" y1="187.4" x2="207.74" y2="191.55" stroke="rgba(255,0,0,0.4)" stroke-width="1.15"/><line x1="207.74" y1="191.55" x2="207.74" y2="195.7" stroke="rgba(170,90,230,0.42)" stroke-width="1.15"/>
<line x1="207.74" y1="195.7" x2="207.74" y2="199.5" stroke="rgba(170,90,230,0.42)" stroke-width="1.15"/><line x1="207.74" y1="199.5" x2="207.74" y2="203.3" stroke="rgba(255,0,0,0.4)" stroke-width="1.15"/>
<line x1="230" y1="154.6" x2="230" y2="158.7" stroke="rgba(255,0,0,0.4)" stroke-width="1.15"/><line x1="230" y1="158.7" x2="230" y2="162.8" stroke="rgba(248,160,20,0.45)" stroke-width="1.15"/>
<line x1="230" y1="162.8" x2="230" y2="167" stroke="rgba(248,160,20,0.45)" stroke-width="1.15"/><line x1="230" y1="167" x2="230" y2="171.2" stroke="rgba(255,0,0,0.4)" stroke-width="1.15"/>
<line x1="230" y1="171.2" x2="230" y2="175.1" stroke="rgba(255,0,0,0.4)" stroke-width="1.15"/><line x1="230" y1="175.1" x2="230" y2="179" stroke="rgba(248,160,20,0.45)" stroke-width="1.15"/>
<line x1="230" y1="179" x2="230" y2="183.2" stroke="rgba(248,160,20,0.45)" stroke-width="1.15"/><line x1="230" y1="183.2" x2="230" y2="187.4" stroke="rgba(255,0,0,0.4)" stroke-width="1.15"/>
<line x1="230" y1="187.4" x2="230" y2="191.55" stroke="rgba(255,0,0,0.4)" stroke-width="1.15"/><line x1="230" y1="191.55" x2="230" y2="195.7" stroke="rgba(248,160,20,0.45)" stroke-width="1.15"/>
<line x1="230" y1="195.7" x2="230" y2="199.5" stroke="rgba(248,160,20,0.45)" stroke-width="1.15"/><line x1="230" y1="199.5" x2="230" y2="203.3" stroke="rgba(255,0,0,0.4)" stroke-width="1.15"/>
<line x1="253.4" y1="154.6" x2="253.4" y2="158.7" stroke="rgba(255,0,0,0.4)" stroke-width="1.15"/><line x1="253.4" y1="158.7" x2="253.4" y2="162.8" stroke="rgba(248,160,20,0.45)" stroke-width="1.15"/>
<line x1="253.4" y1="162.8" x2="253.4" y2="167" stroke="rgba(248,160,20,0.45)" stroke-width="1.15"/><line x1="253.4" y1="167" x2="253.4" y2="171.2" stroke="rgba(255,0,0,0.4)" stroke-width="1.15"/>
<line x1="253.4" y1="171.2" x2="253.4" y2="175.1" stroke="rgba(255,0,0,0.4)" stroke-width="1.15"/><line x1="253.4" y1="175.1" x2="253.4" y2="179" stroke="rgba(248,160,20,0.45)" stroke-width="1.15"/>
<line x1="253.4" y1="179" x2="253.4" y2="183.2" stroke="rgba(248,160,20,0.45)" stroke-width="1.15"/><line x1="253.4" y1="183.2" x2="253.4" y2="187.4" stroke="rgba(255,0,0,0.4)" stroke-width="1.15"/>
<line x1="253.4" y1="187.4" x2="253.4" y2="191.55" stroke="rgba(255,0,0,0.4)" stroke-width="1.15"/><line x1="253.4" y1="191.55" x2="253.4" y2="195.7" stroke="rgba(248,160,20,0.45)" stroke-width="1.15"/>
<line x1="253.4" y1="195.7" x2="253.4" y2="199.5" stroke="rgba(248,160,20,0.45)" stroke-width="1.15"/><line x1="253.4" y1="199.5" x2="253.4" y2="203.3" stroke="rgba(255,0,0,0.4)" stroke-width="1.15"/>
<line x1="276.7" y1="154.6" x2="276.7" y2="158.7" stroke="rgba(255,0,0,0.4)" stroke-width="1.15"/><line x1="276.7" y1="158.7" x2="276.7" y2="162.8" stroke="rgba(248,160,20,0.45)" stroke-width="1.15"/>
<line x1="276.7" y1="162.8" x2="276.7" y2="167" stroke="rgba(248,160,20,0.45)" stroke-width="1.15"/><line x1="276.7" y1="167" x2="276.7" y2="171.2" stroke="rgba(255,0,0,0.4)" stroke-width="1.15"/>
<line x1="276.7" y1="171.2" x2="276.7" y2="175.1" stroke="rgba(255,0,0,0.4)" stroke-width="1.15"/><line x1="276.7" y1="175.1" x2="276.7" y2="179" stroke="rgba(248,160,20,0.45)" stroke-width="1.15"/>
<line x1="276.7" y1="179" x2="276.7" y2="183.2" stroke="rgba(248,160,20,0.45)" stroke-width="1.15"/><line x1="276.7" y1="183.2" x2="276.7" y2="187.4" stroke="rgba(255,0,0,0.4)" stroke-width="1.15"/>
<line x1="276.7" y1="187.4" x2="276.7" y2="191.55" stroke="rgba(255,0,0,0.4)" stroke-width="1.15"/><line x1="276.7" y1="191.55" x2="276.7" y2="195.7" stroke="rgba(248,160,20,0.45)" stroke-width="1.15"/>
<line x1="276.7" y1="195.7" x2="276.7" y2="199.5" stroke="rgba(248,160,20,0.45)" stroke-width="1.15"/><line x1="276.7" y1="199.5" x2="276.7" y2="203.3" stroke="rgba(255,0,0,0.4)" stroke-width="1.15"/>
<line x1="299.8" y1="154.6" x2="299.8" y2="158.7" stroke="rgba(255,0,0,0.4)" stroke-width="1.15"/><line x1="299.8" y1="158.7" x2="299.8" y2="162.8" stroke="rgba(248,160,20,0.45)" stroke-width="1.15"/>
<line x1="299.8" y1="162.8" x2="299.8" y2="167" stroke="rgba(248,160,20,0.45)" stroke-width="1.15"/><line x1="299.8" y1="167" x2="299.8" y2="171.2" stroke="rgba(255,0,0,0.4)" stroke-width="1.15"/>
<line x1="299.8" y1="171.2" x2="299.8" y2="175.1" stroke="rgba(255,0,0,0.4)" stroke-width="1.15"/><line x1="299.8" y1="175.1" x2="299.8" y2="179" stroke="rgba(248,160,20,0.45)" stroke-width="1.15"/>
<line x1="299.8" y1="179" x2="299.8" y2="183.2" stroke="rgba(248,160,20,0.45)" stroke-width="1.15"/><line x1="299.8" y1="183.2" x2="299.8" y2="187.4" stroke="rgba(255,0,0,0.4)" stroke-width="1.15"/>
<line x1="299.8" y1="187.4" x2="299.8" y2="191.55" stroke="rgba(255,0,0,0.4)" stroke-width="1.15"/><line x1="299.8" y1="191.55" x2="299.8" y2="195.7" stroke="rgba(248,160,20,0.45)" stroke-width="1.15"/>
<line x1="299.8" y1="195.7" x2="299.8" y2="199.5" stroke="rgba(248,160,20,0.45)" stroke-width="1.15"/><line x1="299.8" y1="199.5" x2="299.8" y2="203.3" stroke="rgba(255,0,0,0.4)" stroke-width="1.15"/>
<line x1="323" y1="154.6" x2="323" y2="158.7" stroke="rgba(255,0,0,0.4)" stroke-width="1.15"/><line x1="323" y1="158.7" x2="323" y2="162.8" stroke="rgba(248,160,20,0.45)" stroke-width="1.15"/>
<line x1="323" y1="162.8" x2="323" y2="167" stroke="rgba(248,160,20,0.45)" stroke-width="1.15"/><line x1="323" y1="167" x2="323" y2="171.2" stroke="rgba(255,0,0,0.4)" stroke-width="1.15"/>
<line x1="323" y1="171.2" x2="323" y2="175.1" stroke="rgba(255,0,0,0.4)" stroke-width="1.15"/><line x1="323" y1="175.1" x2="323" y2="179" stroke="rgba(248,160,20,0.45)" stroke-width="1.15"/>
<line x1="323" y1="179" x2="323" y2="183.2" stroke="rgba(248,160,20,0.45)" stroke-width="1.15"/><line x1="323" y1="183.2" x2="323" y2="187.4" stroke="rgba(255,0,0,0.4)" stroke-width="1.15"/>
<line x1="323" y1="187.4" x2="323" y2="191.55" stroke="rgba(255,0,0,0.4)" stroke-width="1.15"/><line x1="323" y1="191.55" x2="323" y2="195.7" stroke="rgba(248,160,20,0.45)" stroke-width="1.15"/>
<line x1="323" y1="195.7" x2="323" y2="199.5" stroke="rgba(248,160,20,0.45)" stroke-width="1.15"/><line x1="323" y1="199.5" x2="323" y2="203.3" stroke="rgba(255,0,0,0.4)" stroke-width="1.15"/>
<line x1="225.9" y1="152.5" x2="225.9" y2="202.8" stroke="#7a7a7a" stroke-width="0.8" stroke-dasharray="1.4,1"/>
<circle cx="41.6" cy="162.8" r="1.6" fill="url(#gO)"/>
<circle cx="63.68" cy="162.8" r="1.6" fill="url(#gO)"/>
<circle cx="85.76" cy="162.8" r="1.6" fill="url(#gO)"/>
<circle cx="107.84" cy="162.8" r="1.6" fill="url(#gO)"/>
<circle cx="129.92" cy="162.8" r="1.6" fill="url(#gO)"/>
<circle cx="152" cy="162.8" r="1.6" fill="url(#gO)"/>
<circle cx="174.08" cy="162.8" r="1.6" fill="url(#gO)"/>
<circle cx="196.16" cy="162.8" r="1.6" fill="url(#gO)"/>
<circle cx="218.24" cy="162.8" r="1.6" fill="url(#gO)"/>
<circle cx="241.6" cy="162.8" r="1.5" fill="url(#gO)"/>
<circle cx="264.5" cy="162.8" r="1.5" fill="url(#gO)"/>
<circle cx="287.7" cy="162.8" r="1.5" fill="url(#gO)"/>
<circle cx="310.8" cy="162.8" r="1.5" fill="url(#gO)"/>
<circle cx="333.2" cy="162.8" r="1.5" fill="url(#gO)"/>
<circle cx="31.1" cy="162.8" r="3" fill="url(#gAl)"/>
<circle cx="53.18" cy="162.8" r="3" fill="url(#gAl)"/>
<circle cx="75.26" cy="162.8" r="3" fill="url(#gAl)"/>
<circle cx="97.34" cy="162.8" r="3" fill="url(#gAl)"/>
<circle cx="119.42" cy="162.8" r="3" fill="url(#gAl)"/>
<circle cx="141.5" cy="162.8" r="3" fill="url(#gAl)"/>
<circle cx="163.58" cy="162.8" r="3" fill="url(#gAl)"/>
<circle cx="185.66" cy="162.8" r="3" fill="url(#gAl)"/>
<circle cx="207.74" cy="162.8" r="3" fill="url(#gAl)"/>
<circle cx="230.7" cy="162.8" r="2.5" fill="url(#gTi)"/>
<circle cx="254.1" cy="162.8" r="2.5" fill="url(#gTi)"/>
<circle cx="277.4" cy="162.8" r="2.5" fill="url(#gTi)"/>
<circle cx="300.5" cy="162.8" r="2.5" fill="url(#gTi)"/>
<circle cx="323.7" cy="162.8" r="2.5" fill="url(#gTi)"/>
<circle cx="41.6" cy="179" r="1.6" fill="url(#gO)"/>
<circle cx="63.68" cy="179" r="1.6" fill="url(#gO)"/>
<circle cx="85.76" cy="179" r="1.6" fill="url(#gO)"/>
<circle cx="107.84" cy="179" r="1.6" fill="url(#gO)"/>
<circle cx="129.92" cy="179" r="1.6" fill="url(#gO)"/>
<circle cx="152" cy="179" r="1.6" fill="url(#gO)"/>
<circle cx="174.08" cy="179" r="1.6" fill="url(#gO)"/>
<circle cx="196.16" cy="179" r="1.6" fill="url(#gO)"/>
<circle cx="218.24" cy="179" r="1.6" fill="url(#gO)"/>
<circle cx="241.6" cy="179" r="1.5" fill="url(#gO)"/>
<circle cx="264.5" cy="179" r="1.5" fill="url(#gO)"/>
<circle cx="287.7" cy="179" r="1.5" fill="url(#gO)"/>
<circle cx="310.8" cy="179" r="1.5" fill="url(#gO)"/>
<circle cx="333.2" cy="179" r="1.5" fill="url(#gO)"/>
<circle cx="31.1" cy="179" r="3" fill="url(#gAl)"/>
<circle cx="53.18" cy="179" r="3" fill="url(#gAl)"/>
<circle cx="75.26" cy="179" r="3" fill="url(#gAl)"/>
<circle cx="97.34" cy="179" r="3" fill="url(#gAl)"/>
<circle cx="119.42" cy="179" r="3" fill="url(#gAl)"/>
<circle cx="141.5" cy="179" r="3" fill="url(#gAl)"/>
<circle cx="163.58" cy="179" r="3" fill="url(#gAl)"/>
<circle cx="185.66" cy="179" r="3" fill="url(#gAl)"/>
<circle cx="207.74" cy="179" r="3" fill="url(#gAl)"/>
<circle cx="230.7" cy="179" r="2.5" fill="url(#gTi)"/>
<circle cx="254.1" cy="179" r="2.5" fill="url(#gTi)"/>
<circle cx="277.4" cy="179" r="2.5" fill="url(#gTi)"/>
<circle cx="300.5" cy="179" r="2.5" fill="url(#gTi)"/>
<circle cx="323.7" cy="179" r="2.5" fill="url(#gTi)"/>
<circle cx="41.6" cy="195.7" r="1.6" fill="url(#gO)"/>
<circle cx="63.68" cy="195.7" r="1.6" fill="url(#gO)"/>
<circle cx="85.76" cy="195.7" r="1.6" fill="url(#gO)"/>
<circle cx="107.84" cy="195.7" r="1.6" fill="url(#gO)"/>
<circle cx="129.92" cy="195.7" r="1.6" fill="url(#gO)"/>
<circle cx="152" cy="195.7" r="1.6" fill="url(#gO)"/>
<circle cx="174.08" cy="195.7" r="1.6" fill="url(#gO)"/>
<circle cx="196.16" cy="195.7" r="1.6" fill="url(#gO)"/>
<circle cx="218.24" cy="195.7" r="1.6" fill="url(#gO)"/>
<circle cx="241.6" cy="195.7" r="1.5" fill="url(#gO)"/>
<circle cx="264.5" cy="195.7" r="1.5" fill="url(#gO)"/>
<circle cx="287.7" cy="195.7" r="1.5" fill="url(#gO)"/>
<circle cx="310.8" cy="195.7" r="1.5" fill="url(#gO)"/>
<circle cx="333.2" cy="195.7" r="1.5" fill="url(#gO)"/>
<circle cx="31.1" cy="195.7" r="3" fill="url(#gAl)"/>
<circle cx="53.18" cy="195.7" r="3" fill="url(#gAl)"/>
<circle cx="75.26" cy="195.7" r="3" fill="url(#gAl)"/>
<circle cx="97.34" cy="195.7" r="3" fill="url(#gAl)"/>
<circle cx="119.42" cy="195.7" r="3" fill="url(#gAl)"/>
<circle cx="141.5" cy="195.7" r="3" fill="url(#gAl)"/>
<circle cx="163.58" cy="195.7" r="3" fill="url(#gAl)"/>
<circle cx="185.66" cy="195.7" r="3" fill="url(#gAl)"/>
<circle cx="207.74" cy="195.7" r="3" fill="url(#gAl)"/>
<circle cx="230.7" cy="195.7" r="2.5" fill="url(#gTi)"/>
<circle cx="254.1" cy="195.7" r="2.5" fill="url(#gTi)"/>
<circle cx="277.4" cy="195.7" r="2.5" fill="url(#gTi)"/>
<circle cx="300.5" cy="195.7" r="2.5" fill="url(#gTi)"/>
<circle cx="323.7" cy="195.7" r="2.5" fill="url(#gTi)"/>
<circle cx="31.1" cy="154.6" r="1.8" fill="url(#gO)"/>
<circle cx="53.18" cy="154.6" r="1.8" fill="url(#gO)"/>
<circle cx="75.26" cy="154.6" r="1.8" fill="url(#gO)"/>
<circle cx="97.34" cy="154.6" r="1.8" fill="url(#gO)"/>
<circle cx="119.42" cy="154.6" r="1.8" fill="url(#gO)"/>
<circle cx="141.5" cy="154.6" r="1.8" fill="url(#gO)"/>
<circle cx="163.58" cy="154.6" r="1.8" fill="url(#gO)"/>
<circle cx="185.66" cy="154.6" r="1.8" fill="url(#gO)"/>
<circle cx="207.74" cy="154.6" r="1.8" fill="url(#gO)"/>
<circle cx="229.9" cy="154.6" r="1.8" fill="url(#gO)"/>
<circle cx="253.3" cy="154.6" r="1.8" fill="url(#gO)"/>
<circle cx="276.6" cy="154.6" r="1.8" fill="url(#gO)"/>
<circle cx="299.7" cy="154.6" r="1.8" fill="url(#gO)"/>
<circle cx="322.9" cy="154.6" r="1.8" fill="url(#gO)"/>
<ellipse cx="31.1" cy="170.6" rx="1.6" ry="2.8" fill="url(#gO)"/>
<circle cx="53.18" cy="171.2" r="1.8" fill="url(#gO)"/>
<circle cx="75.26" cy="171.2" r="1.8" fill="url(#gO)"/>
<circle cx="97.34" cy="171.2" r="1.8" fill="url(#gO)"/>
<circle cx="119.42" cy="171.2" r="1.8" fill="url(#gO)"/>
<circle cx="141.5" cy="171.2" r="1.8" fill="url(#gO)"/>
<circle cx="163.58" cy="171.2" r="1.8" fill="url(#gO)"/>
<circle cx="185.66" cy="171.2" r="1.8" fill="url(#gO)"/>
<circle cx="207.74" cy="171.2" r="1.8" fill="url(#gO)"/>
<circle cx="229.9" cy="171.2" r="1.8" fill="url(#gO)"/>
<circle cx="253.3" cy="171.2" r="1.8" fill="url(#gO)"/>
<circle cx="276.6" cy="171.2" r="1.8" fill="url(#gO)"/>
<circle cx="299.7" cy="171.2" r="1.8" fill="url(#gO)"/>
<circle cx="322.9" cy="171.2" r="1.8" fill="url(#gO)"/>
<circle cx="31.1" cy="187.4" r="1.8" fill="url(#gO)"/>
<circle cx="53.18" cy="187.4" r="1.8" fill="url(#gO)"/>
<circle cx="75.26" cy="187.4" r="1.8" fill="url(#gO)"/>
<circle cx="97.34" cy="187.4" r="1.8" fill="url(#gO)"/>
<circle cx="119.42" cy="187.4" r="1.8" fill="url(#gO)"/>
<circle cx="141.5" cy="187.4" r="1.8" fill="url(#gO)"/>
<circle cx="163.58" cy="187.4" r="1.8" fill="url(#gO)"/>
<circle cx="185.66" cy="187.4" r="1.8" fill="url(#gO)"/>
<circle cx="207.74" cy="187.4" r="1.8" fill="url(#gO)"/>
<circle cx="229.9" cy="187.4" r="1.8" fill="url(#gO)"/>
<circle cx="253.3" cy="187.4" r="1.8" fill="url(#gO)"/>
<circle cx="276.6" cy="187.4" r="1.8" fill="url(#gO)"/>
<circle cx="299.7" cy="187.4" r="1.8" fill="url(#gO)"/>
<circle cx="322.9" cy="187.4" r="1.8" fill="url(#gO)"/>
<ellipse cx="31.1" cy="203.1" rx="1.6" ry="2.8" fill="url(#gO)"/>
<circle cx="53.18" cy="203.3" r="1.8" fill="url(#gO)"/>
<circle cx="75.26" cy="203.3" r="1.8" fill="url(#gO)"/>
<circle cx="97.34" cy="203.3" r="1.8" fill="url(#gO)"/>
<circle cx="119.42" cy="203.3" r="1.8" fill="url(#gO)"/>
<circle cx="141.5" cy="203.3" r="1.8" fill="url(#gO)"/>
<circle cx="163.58" cy="203.3" r="1.8" fill="url(#gO)"/>
<circle cx="185.66" cy="203.3" r="1.8" fill="url(#gO)"/>
<circle cx="207.74" cy="203.3" r="1.8" fill="url(#gO)"/>
<circle cx="229.9" cy="203.3" r="1.8" fill="url(#gO)"/>
<circle cx="253.3" cy="203.3" r="1.8" fill="url(#gO)"/>
<circle cx="276.6" cy="203.3" r="1.8" fill="url(#gO)"/>
<circle cx="299.7" cy="203.3" r="1.8" fill="url(#gO)"/>
<circle cx="322.9" cy="203.3" r="1.8" fill="url(#gO)"/>
<circle cx="42.25" cy="264.5" r="3.95" fill="url(#gLa)"/>
<circle cx="64.29" cy="264.5" r="3.95" fill="url(#gLa)"/>
<circle cx="86.33" cy="264.5" r="3.95" fill="url(#gLa)"/>
<circle cx="108.37" cy="264.5" r="3.95" fill="url(#gLa)"/>
<circle cx="130.41" cy="264.5" r="3.95" fill="url(#gLa)"/>
<circle cx="152.45" cy="264.5" r="3.95" fill="url(#gLa)"/>
<circle cx="174.49" cy="264.5" r="3.95" fill="url(#gLa)"/>
<circle cx="196.53" cy="264.5" r="3.95" fill="url(#gLa)"/>
<circle cx="218.57" cy="264.5" r="3.95" fill="url(#gLa)"/>
<circle cx="243" cy="264.5" r="4.2" fill="url(#gSr)"/>
<circle cx="265.9" cy="264.5" r="4.2" fill="url(#gSr)"/>
<circle cx="289.1" cy="264.5" r="4.2" fill="url(#gSr)"/>
<circle cx="312.2" cy="264.5" r="4.2" fill="url(#gSr)"/>
<circle cx="334.6" cy="264.5" r="4.2" fill="url(#gSr)"/>
<circle cx="42.25" cy="280.5" r="3.95" fill="url(#gLa)"/>
<circle cx="64.29" cy="280.5" r="3.95" fill="url(#gLa)"/>
<circle cx="86.33" cy="280.5" r="3.95" fill="url(#gLa)"/>
<circle cx="108.37" cy="280.5" r="3.95" fill="url(#gLa)"/>
<circle cx="130.41" cy="280.5" r="3.95" fill="url(#gLa)"/>
<circle cx="152.45" cy="280.5" r="3.95" fill="url(#gLa)"/>
<circle cx="174.49" cy="280.5" r="3.95" fill="url(#gLa)"/>
<circle cx="196.53" cy="280.5" r="3.95" fill="url(#gLa)"/>
<circle cx="218.57" cy="280.5" r="3.95" fill="url(#gLa)"/>
<circle cx="243" cy="280.5" r="4.2" fill="url(#gSr)"/>
<circle cx="265.9" cy="280.5" r="4.2" fill="url(#gSr)"/>
<circle cx="289.1" cy="280.5" r="4.2" fill="url(#gSr)"/>
<circle cx="312.2" cy="280.5" r="4.2" fill="url(#gSr)"/>
<circle cx="334.6" cy="280.5" r="4.2" fill="url(#gSr)"/>
<circle cx="42.25" cy="296.6" r="3.95" fill="url(#gLa)"/>
<circle cx="64.29" cy="296.6" r="3.95" fill="url(#gLa)"/>
<circle cx="86.33" cy="296.6" r="3.95" fill="url(#gLa)"/>
<circle cx="108.37" cy="296.6" r="3.95" fill="url(#gLa)"/>
<circle cx="130.41" cy="296.6" r="3.95" fill="url(#gLa)"/>
<circle cx="152.45" cy="296.6" r="3.95" fill="url(#gLa)"/>
<circle cx="174.49" cy="296.6" r="3.95" fill="url(#gLa)"/>
<circle cx="196.53" cy="296.6" r="3.95" fill="url(#gLa)"/>
<circle cx="218.57" cy="296.6" r="3.95" fill="url(#gLa)"/>
<circle cx="243" cy="296.6" r="4.2" fill="url(#gSr)"/>
<circle cx="265.9" cy="296.6" r="4.2" fill="url(#gSr)"/>
<circle cx="289.1" cy="296.6" r="4.2" fill="url(#gSr)"/>
<circle cx="312.2" cy="296.6" r="4.2" fill="url(#gSr)"/>
<circle cx="334.6" cy="296.6" r="4.2" fill="url(#gSr)"/>
<line x1="31.4" y1="264.5" x2="31.65" y2="264.5" stroke="rgba(170,90,230,0.42)" stroke-width="1.15"/><line x1="31.65" y1="264.5" x2="31.9" y2="264.5" stroke="rgba(170,90,230,0.42)" stroke-width="1.15"/>
<line x1="31.9" y1="264.5" x2="37.08" y2="264.5" stroke="rgba(170,90,230,0.42)" stroke-width="1.15"/><line x1="37.08" y1="264.5" x2="42.25" y2="264.5" stroke="rgba(255,0,0,0.4)" stroke-width="1.15"/>
<line x1="42.25" y1="264.5" x2="48.09" y2="264.5" stroke="rgba(255,0,0,0.4)" stroke-width="1.15"/><line x1="48.09" y1="264.5" x2="53.94" y2="264.5" stroke="rgba(170,90,230,0.42)" stroke-width="1.15"/>
<line x1="53.94" y1="264.5" x2="59.11" y2="264.5" stroke="rgba(170,90,230,0.42)" stroke-width="1.15"/><line x1="59.11" y1="264.5" x2="64.29" y2="264.5" stroke="rgba(255,0,0,0.4)" stroke-width="1.15"/>
<line x1="64.29" y1="264.5" x2="70.13" y2="264.5" stroke="rgba(255,0,0,0.4)" stroke-width="1.15"/><line x1="70.13" y1="264.5" x2="75.98" y2="264.5" stroke="rgba(170,90,230,0.42)" stroke-width="1.15"/>
<line x1="75.98" y1="264.5" x2="81.16" y2="264.5" stroke="rgba(170,90,230,0.42)" stroke-width="1.15"/><line x1="81.16" y1="264.5" x2="86.33" y2="264.5" stroke="rgba(255,0,0,0.4)" stroke-width="1.15"/>
<line x1="86.33" y1="264.5" x2="92.18" y2="264.5" stroke="rgba(255,0,0,0.4)" stroke-width="1.15"/><line x1="92.18" y1="264.5" x2="98.02" y2="264.5" stroke="rgba(170,90,230,0.42)" stroke-width="1.15"/>
<line x1="98.02" y1="264.5" x2="103.2" y2="264.5" stroke="rgba(170,90,230,0.42)" stroke-width="1.15"/><line x1="103.2" y1="264.5" x2="108.37" y2="264.5" stroke="rgba(255,0,0,0.4)" stroke-width="1.15"/>
<line x1="108.37" y1="264.5" x2="114.22" y2="264.5" stroke="rgba(255,0,0,0.4)" stroke-width="1.15"/><line x1="114.22" y1="264.5" x2="120.06" y2="264.5" stroke="rgba(170,90,230,0.42)" stroke-width="1.15"/>
<line x1="120.06" y1="264.5" x2="125.23" y2="264.5" stroke="rgba(170,90,230,0.42)" stroke-width="1.15"/><line x1="125.23" y1="264.5" x2="130.41" y2="264.5" stroke="rgba(255,0,0,0.4)" stroke-width="1.15"/>
<line x1="130.41" y1="264.5" x2="136.25" y2="264.5" stroke="rgba(255,0,0,0.4)" stroke-width="1.15"/><line x1="136.25" y1="264.5" x2="142.1" y2="264.5" stroke="rgba(170,90,230,0.42)" stroke-width="1.15"/>
<line x1="142.1" y1="264.5" x2="147.27" y2="264.5" stroke="rgba(170,90,230,0.42)" stroke-width="1.15"/><line x1="147.27" y1="264.5" x2="152.45" y2="264.5" stroke="rgba(255,0,0,0.4)" stroke-width="1.15"/>
<line x1="152.45" y1="264.5" x2="158.3" y2="264.5" stroke="rgba(255,0,0,0.4)" stroke-width="1.15"/><line x1="158.3" y1="264.5" x2="164.14" y2="264.5" stroke="rgba(170,90,230,0.42)" stroke-width="1.15"/>
<line x1="164.14" y1="264.5" x2="169.31" y2="264.5" stroke="rgba(170,90,230,0.42)" stroke-width="1.15"/><line x1="169.31" y1="264.5" x2="174.49" y2="264.5" stroke="rgba(255,0,0,0.4)" stroke-width="1.15"/>
<line x1="174.49" y1="264.5" x2="180.34" y2="264.5" stroke="rgba(255,0,0,0.4)" stroke-width="1.15"/><line x1="180.34" y1="264.5" x2="186.18" y2="264.5" stroke="rgba(170,90,230,0.42)" stroke-width="1.15"/>
<line x1="186.18" y1="264.5" x2="191.36" y2="264.5" stroke="rgba(170,90,230,0.42)" stroke-width="1.15"/><line x1="191.36" y1="264.5" x2="196.53" y2="264.5" stroke="rgba(255,0,0,0.4)" stroke-width="1.15"/>
<line x1="196.53" y1="264.5" x2="202.38" y2="264.5" stroke="rgba(255,0,0,0.4)" stroke-width="1.15"/><line x1="202.38" y1="264.5" x2="208.22" y2="264.5" stroke="rgba(170,90,230,0.42)" stroke-width="1.15"/>
<line x1="208.22" y1="264.5" x2="213.39" y2="264.5" stroke="rgba(170,90,230,0.42)" stroke-width="1.15"/><line x1="213.39" y1="264.5" x2="218.57" y2="264.5" stroke="rgba(255,0,0,0.4)" stroke-width="1.15"/>
<line x1="218.57" y1="264.5" x2="224.69" y2="264.5" stroke="rgba(255,0,0,0.4)" stroke-width="1.15"/><line x1="224.69" y1="264.5" x2="230.8" y2="264.5" stroke="rgba(248,160,20,0.45)" stroke-width="1.15"/>
<line x1="230.8" y1="264.5" x2="236.15" y2="264.5" stroke="rgba(248,160,20,0.45)" stroke-width="1.15"/><line x1="236.15" y1="264.5" x2="241.5" y2="264.5" stroke="rgba(255,0,0,0.4)" stroke-width="1.15"/>
<line x1="241.5" y1="264.5" x2="247.8" y2="264.5" stroke="rgba(255,0,0,0.4)" stroke-width="1.15"/><line x1="247.8" y1="264.5" x2="254.1" y2="264.5" stroke="rgba(248,160,20,0.45)" stroke-width="1.15"/>
<line x1="254.1" y1="264.5" x2="259.25" y2="264.5" stroke="rgba(248,160,20,0.45)" stroke-width="1.15"/><line x1="259.25" y1="264.5" x2="264.4" y2="264.5" stroke="rgba(255,0,0,0.4)" stroke-width="1.15"/>
<line x1="264.4" y1="264.5" x2="270.9" y2="264.5" stroke="rgba(255,0,0,0.4)" stroke-width="1.15"/><line x1="270.9" y1="264.5" x2="277.4" y2="264.5" stroke="rgba(248,160,20,0.45)" stroke-width="1.15"/>
<line x1="277.4" y1="264.5" x2="282.5" y2="264.5" stroke="rgba(248,160,20,0.45)" stroke-width="1.15"/><line x1="282.5" y1="264.5" x2="287.6" y2="264.5" stroke="rgba(255,0,0,0.4)" stroke-width="1.15"/>
<line x1="287.6" y1="264.5" x2="294.1" y2="264.5" stroke="rgba(255,0,0,0.4)" stroke-width="1.15"/><line x1="294.1" y1="264.5" x2="300.6" y2="264.5" stroke="rgba(248,160,20,0.45)" stroke-width="1.15"/>
<line x1="300.6" y1="264.5" x2="305.65" y2="264.5" stroke="rgba(248,160,20,0.45)" stroke-width="1.15"/><line x1="305.65" y1="264.5" x2="310.7" y2="264.5" stroke="rgba(255,0,0,0.4)" stroke-width="1.15"/>
<line x1="310.7" y1="264.5" x2="317.2" y2="264.5" stroke="rgba(255,0,0,0.4)" stroke-width="1.15"/><line x1="317.2" y1="264.5" x2="323.7" y2="264.5" stroke="rgba(248,160,20,0.45)" stroke-width="1.15"/>
<line x1="323.7" y1="264.5" x2="328.4" y2="264.5" stroke="rgba(248,160,20,0.45)" stroke-width="1.15"/><line x1="328.4" y1="264.5" x2="333.1" y2="264.5" stroke="rgba(255,0,0,0.4)" stroke-width="1.15"/>
<line x1="333.1" y1="264.5" x2="339.1" y2="264.5" stroke="rgba(255,0,0,0.4)" stroke-width="0.9"/>
<line x1="31.4" y1="280.5" x2="31.65" y2="280.5" stroke="rgba(170,90,230,0.42)" stroke-width="1.15"/><line x1="31.65" y1="280.5" x2="31.9" y2="280.5" stroke="rgba(170,90,230,0.42)" stroke-width="1.15"/>
<line x1="31.9" y1="280.5" x2="37.08" y2="280.5" stroke="rgba(170,90,230,0.42)" stroke-width="1.15"/><line x1="37.08" y1="280.5" x2="42.25" y2="280.5" stroke="rgba(255,0,0,0.4)" stroke-width="1.15"/>
<line x1="42.25" y1="280.5" x2="48.09" y2="280.5" stroke="rgba(255,0,0,0.4)" stroke-width="1.15"/><line x1="48.09" y1="280.5" x2="53.94" y2="280.5" stroke="rgba(170,90,230,0.42)" stroke-width="1.15"/>
<line x1="53.94" y1="280.5" x2="59.11" y2="280.5" stroke="rgba(170,90,230,0.42)" stroke-width="1.15"/><line x1="59.11" y1="280.5" x2="64.29" y2="280.5" stroke="rgba(255,0,0,0.4)" stroke-width="1.15"/>
<line x1="64.29" y1="280.5" x2="70.13" y2="280.5" stroke="rgba(255,0,0,0.4)" stroke-width="1.15"/><line x1="70.13" y1="280.5" x2="75.98" y2="280.5" stroke="rgba(170,90,230,0.42)" stroke-width="1.15"/>
<line x1="75.98" y1="280.5" x2="81.16" y2="280.5" stroke="rgba(170,90,230,0.42)" stroke-width="1.15"/><line x1="81.16" y1="280.5" x2="86.33" y2="280.5" stroke="rgba(255,0,0,0.4)" stroke-width="1.15"/>
<line x1="86.33" y1="280.5" x2="92.18" y2="280.5" stroke="rgba(255,0,0,0.4)" stroke-width="1.15"/><line x1="92.18" y1="280.5" x2="98.02" y2="280.5" stroke="rgba(170,90,230,0.42)" stroke-width="1.15"/>
<line x1="98.02" y1="280.5" x2="103.2" y2="280.5" stroke="rgba(170,90,230,0.42)" stroke-width="1.15"/><line x1="103.2" y1="280.5" x2="108.37" y2="280.5" stroke="rgba(255,0,0,0.4)" stroke-width="1.15"/>
<line x1="108.37" y1="280.5" x2="114.22" y2="280.5" stroke="rgba(255,0,0,0.4)" stroke-width="1.15"/><line x1="114.22" y1="280.5" x2="120.06" y2="280.5" stroke="rgba(170,90,230,0.42)" stroke-width="1.15"/>
<line x1="120.06" y1="280.5" x2="125.23" y2="280.5" stroke="rgba(170,90,230,0.42)" stroke-width="1.15"/><line x1="125.23" y1="280.5" x2="130.41" y2="280.5" stroke="rgba(255,0,0,0.4)" stroke-width="1.15"/>
<line x1="130.41" y1="280.5" x2="136.25" y2="280.5" stroke="rgba(255,0,0,0.4)" stroke-width="1.15"/><line x1="136.25" y1="280.5" x2="142.1" y2="280.5" stroke="rgba(170,90,230,0.42)" stroke-width="1.15"/>
<line x1="142.1" y1="280.5" x2="147.27" y2="280.5" stroke="rgba(170,90,230,0.42)" stroke-width="1.15"/><line x1="147.27" y1="280.5" x2="152.45" y2="280.5" stroke="rgba(255,0,0,0.4)" stroke-width="1.15"/>
<line x1="152.45" y1="280.5" x2="158.3" y2="280.5" stroke="rgba(255,0,0,0.4)" stroke-width="1.15"/><line x1="158.3" y1="280.5" x2="164.14" y2="280.5" stroke="rgba(170,90,230,0.42)" stroke-width="1.15"/>
<line x1="164.14" y1="280.5" x2="169.31" y2="280.5" stroke="rgba(170,90,230,0.42)" stroke-width="1.15"/><line x1="169.31" y1="280.5" x2="174.49" y2="280.5" stroke="rgba(255,0,0,0.4)" stroke-width="1.15"/>
<line x1="174.49" y1="280.5" x2="180.34" y2="280.5" stroke="rgba(255,0,0,0.4)" stroke-width="1.15"/><line x1="180.34" y1="280.5" x2="186.18" y2="280.5" stroke="rgba(170,90,230,0.42)" stroke-width="1.15"/>
<line x1="186.18" y1="280.5" x2="191.36" y2="280.5" stroke="rgba(170,90,230,0.42)" stroke-width="1.15"/><line x1="191.36" y1="280.5" x2="196.53" y2="280.5" stroke="rgba(255,0,0,0.4)" stroke-width="1.15"/>
<line x1="196.53" y1="280.5" x2="202.38" y2="280.5" stroke="rgba(255,0,0,0.4)" stroke-width="1.15"/><line x1="202.38" y1="280.5" x2="208.22" y2="280.5" stroke="rgba(170,90,230,0.42)" stroke-width="1.15"/>
<line x1="208.22" y1="280.5" x2="213.39" y2="280.5" stroke="rgba(170,90,230,0.42)" stroke-width="1.15"/><line x1="213.39" y1="280.5" x2="218.57" y2="280.5" stroke="rgba(255,0,0,0.4)" stroke-width="1.15"/>
<line x1="218.57" y1="280.5" x2="224.69" y2="280.5" stroke="rgba(255,0,0,0.4)" stroke-width="1.15"/><line x1="224.69" y1="280.5" x2="230.8" y2="280.5" stroke="rgba(248,160,20,0.45)" stroke-width="1.15"/>
<line x1="230.8" y1="280.5" x2="236.15" y2="280.5" stroke="rgba(248,160,20,0.45)" stroke-width="1.15"/><line x1="236.15" y1="280.5" x2="241.5" y2="280.5" stroke="rgba(255,0,0,0.4)" stroke-width="1.15"/>
<line x1="241.5" y1="280.5" x2="247.8" y2="280.5" stroke="rgba(255,0,0,0.4)" stroke-width="1.15"/><line x1="247.8" y1="280.5" x2="254.1" y2="280.5" stroke="rgba(248,160,20,0.45)" stroke-width="1.15"/>
<line x1="254.1" y1="280.5" x2="259.25" y2="280.5" stroke="rgba(248,160,20,0.45)" stroke-width="1.15"/><line x1="259.25" y1="280.5" x2="264.4" y2="280.5" stroke="rgba(255,0,0,0.4)" stroke-width="1.15"/>
<line x1="264.4" y1="280.5" x2="270.9" y2="280.5" stroke="rgba(255,0,0,0.4)" stroke-width="1.15"/><line x1="270.9" y1="280.5" x2="277.4" y2="280.5" stroke="rgba(248,160,20,0.45)" stroke-width="1.15"/>
<line x1="277.4" y1="280.5" x2="282.5" y2="280.5" stroke="rgba(248,160,20,0.45)" stroke-width="1.15"/><line x1="282.5" y1="280.5" x2="287.6" y2="280.5" stroke="rgba(255,0,0,0.4)" stroke-width="1.15"/>
<line x1="287.6" y1="280.5" x2="294.1" y2="280.5" stroke="rgba(255,0,0,0.4)" stroke-width="1.15"/><line x1="294.1" y1="280.5" x2="300.6" y2="280.5" stroke="rgba(248,160,20,0.45)" stroke-width="1.15"/>
<line x1="300.6" y1="280.5" x2="305.65" y2="280.5" stroke="rgba(248,160,20,0.45)" stroke-width="1.15"/><line x1="305.65" y1="280.5" x2="310.7" y2="280.5" stroke="rgba(255,0,0,0.4)" stroke-width="1.15"/>
<line x1="310.7" y1="280.5" x2="317.2" y2="280.5" stroke="rgba(255,0,0,0.4)" stroke-width="1.15"/><line x1="317.2" y1="280.5" x2="323.7" y2="280.5" stroke="rgba(248,160,20,0.45)" stroke-width="1.15"/>
<line x1="323.7" y1="280.5" x2="328.4" y2="280.5" stroke="rgba(248,160,20,0.45)" stroke-width="1.15"/><line x1="328.4" y1="280.5" x2="333.1" y2="280.5" stroke="rgba(255,0,0,0.4)" stroke-width="1.15"/>
<line x1="333.1" y1="280.5" x2="339.1" y2="280.5" stroke="rgba(255,0,0,0.4)" stroke-width="0.9"/>
<line x1="31.4" y1="296.6" x2="31.65" y2="296.6" stroke="rgba(170,90,230,0.42)" stroke-width="1.15"/><line x1="31.65" y1="296.6" x2="31.9" y2="296.6" stroke="rgba(170,90,230,0.42)" stroke-width="1.15"/>
<line x1="31.9" y1="296.6" x2="37.08" y2="296.6" stroke="rgba(170,90,230,0.42)" stroke-width="1.15"/><line x1="37.08" y1="296.6" x2="42.25" y2="296.6" stroke="rgba(255,0,0,0.4)" stroke-width="1.15"/>
<line x1="42.25" y1="296.6" x2="48.09" y2="296.6" stroke="rgba(255,0,0,0.4)" stroke-width="1.15"/><line x1="48.09" y1="296.6" x2="53.94" y2="296.6" stroke="rgba(170,90,230,0.42)" stroke-width="1.15"/>
<line x1="53.94" y1="296.6" x2="59.11" y2="296.6" stroke="rgba(170,90,230,0.42)" stroke-width="1.15"/><line x1="59.11" y1="296.6" x2="64.29" y2="296.6" stroke="rgba(255,0,0,0.4)" stroke-width="1.15"/>
<line x1="64.29" y1="296.6" x2="70.13" y2="296.6" stroke="rgba(255,0,0,0.4)" stroke-width="1.15"/><line x1="70.13" y1="296.6" x2="75.98" y2="296.6" stroke="rgba(170,90,230,0.42)" stroke-width="1.15"/>
<line x1="75.98" y1="296.6" x2="81.16" y2="296.6" stroke="rgba(170,90,230,0.42)" stroke-width="1.15"/><line x1="81.16" y1="296.6" x2="86.33" y2="296.6" stroke="rgba(255,0,0,0.4)" stroke-width="1.15"/>
<line x1="86.33" y1="296.6" x2="92.18" y2="296.6" stroke="rgba(255,0,0,0.4)" stroke-width="1.15"/><line x1="92.18" y1="296.6" x2="98.02" y2="296.6" stroke="rgba(170,90,230,0.42)" stroke-width="1.15"/>
<line x1="98.02" y1="296.6" x2="103.2" y2="296.6" stroke="rgba(170,90,230,0.42)" stroke-width="1.15"/><line x1="103.2" y1="296.6" x2="108.37" y2="296.6" stroke="rgba(255,0,0,0.4)" stroke-width="1.15"/>
<line x1="108.37" y1="296.6" x2="114.22" y2="296.6" stroke="rgba(255,0,0,0.4)" stroke-width="1.15"/><line x1="114.22" y1="296.6" x2="120.06" y2="296.6" stroke="rgba(170,90,230,0.42)" stroke-width="1.15"/>
<line x1="120.06" y1="296.6" x2="125.23" y2="296.6" stroke="rgba(170,90,230,0.42)" stroke-width="1.15"/><line x1="125.23" y1="296.6" x2="130.41" y2="296.6" stroke="rgba(255,0,0,0.4)" stroke-width="1.15"/>
<line x1="130.41" y1="296.6" x2="136.25" y2="296.6" stroke="rgba(255,0,0,0.4)" stroke-width="1.15"/><line x1="136.25" y1="296.6" x2="142.1" y2="296.6" stroke="rgba(170,90,230,0.42)" stroke-width="1.15"/>
<line x1="142.1" y1="296.6" x2="147.27" y2="296.6" stroke="rgba(170,90,230,0.42)" stroke-width="1.15"/><line x1="147.27" y1="296.6" x2="152.45" y2="296.6" stroke="rgba(255,0,0,0.4)" stroke-width="1.15"/>
<line x1="152.45" y1="296.6" x2="158.3" y2="296.6" stroke="rgba(255,0,0,0.4)" stroke-width="1.15"/><line x1="158.3" y1="296.6" x2="164.14" y2="296.6" stroke="rgba(170,90,230,0.42)" stroke-width="1.15"/>
<line x1="164.14" y1="296.6" x2="169.31" y2="296.6" stroke="rgba(170,90,230,0.42)" stroke-width="1.15"/><line x1="169.31" y1="296.6" x2="174.49" y2="296.6" stroke="rgba(255,0,0,0.4)" stroke-width="1.15"/>
<line x1="174.49" y1="296.6" x2="180.34" y2="296.6" stroke="rgba(255,0,0,0.4)" stroke-width="1.15"/><line x1="180.34" y1="296.6" x2="186.18" y2="296.6" stroke="rgba(170,90,230,0.42)" stroke-width="1.15"/>
<line x1="186.18" y1="296.6" x2="191.36" y2="296.6" stroke="rgba(170,90,230,0.42)" stroke-width="1.15"/><line x1="191.36" y1="296.6" x2="196.53" y2="296.6" stroke="rgba(255,0,0,0.4)" stroke-width="1.15"/>
<line x1="196.53" y1="296.6" x2="202.38" y2="296.6" stroke="rgba(255,0,0,0.4)" stroke-width="1.15"/><line x1="202.38" y1="296.6" x2="208.22" y2="296.6" stroke="rgba(170,90,230,0.42)" stroke-width="1.15"/>
<line x1="208.22" y1="296.6" x2="213.39" y2="296.6" stroke="rgba(170,90,230,0.42)" stroke-width="1.15"/><line x1="213.39" y1="296.6" x2="218.57" y2="296.6" stroke="rgba(255,0,0,0.4)" stroke-width="1.15"/>
<line x1="218.57" y1="296.6" x2="224.69" y2="296.6" stroke="rgba(255,0,0,0.4)" stroke-width="1.15"/><line x1="224.69" y1="296.6" x2="230.8" y2="296.6" stroke="rgba(248,160,20,0.45)" stroke-width="1.15"/>
<line x1="230.8" y1="296.6" x2="236.15" y2="296.6" stroke="rgba(248,160,20,0.45)" stroke-width="1.15"/><line x1="236.15" y1="296.6" x2="241.5" y2="296.6" stroke="rgba(255,0,0,0.4)" stroke-width="1.15"/>
<line x1="241.5" y1="296.6" x2="247.8" y2="296.6" stroke="rgba(255,0,0,0.4)" stroke-width="1.15"/><line x1="247.8" y1="296.6" x2="254.1" y2="296.6" stroke="rgba(248,160,20,0.45)" stroke-width="1.15"/>
<line x1="254.1" y1="296.6" x2="259.25" y2="296.6" stroke="rgba(248,160,20,0.45)" stroke-width="1.15"/><line x1="259.25" y1="296.6" x2="264.4" y2="296.6" stroke="rgba(255,0,0,0.4)" stroke-width="1.15"/>
<line x1="264.4" y1="296.6" x2="270.9" y2="296.6" stroke="rgba(255,0,0,0.4)" stroke-width="1.15"/><line x1="270.9" y1="296.6" x2="277.4" y2="296.6" stroke="rgba(248,160,20,0.45)" stroke-width="1.15"/>
<line x1="277.4" y1="296.6" x2="282.5" y2="296.6" stroke="rgba(248,160,20,0.45)" stroke-width="1.15"/><line x1="282.5" y1="296.6" x2="287.6" y2="296.6" stroke="rgba(255,0,0,0.4)" stroke-width="1.15"/>
<line x1="287.6" y1="296.6" x2="294.1" y2="296.6" stroke="rgba(255,0,0,0.4)" stroke-width="1.15"/><line x1="294.1" y1="296.6" x2="300.6" y2="296.6" stroke="rgba(248,160,20,0.45)" stroke-width="1.15"/>
<line x1="300.6" y1="296.6" x2="305.65" y2="296.6" stroke="rgba(248,160,20,0.45)" stroke-width="1.15"/><line x1="305.65" y1="296.6" x2="310.7" y2="296.6" stroke="rgba(255,0,0,0.4)" stroke-width="1.15"/>
<line x1="310.7" y1="296.6" x2="317.2" y2="296.6" stroke="rgba(255,0,0,0.4)" stroke-width="1.15"/><line x1="317.2" y1="296.6" x2="323.7" y2="296.6" stroke="rgba(248,160,20,0.45)" stroke-width="1.15"/>
<line x1="323.7" y1="296.6" x2="328.4" y2="296.6" stroke="rgba(248,160,20,0.45)" stroke-width="1.15"/><line x1="328.4" y1="296.6" x2="333.1" y2="296.6" stroke="rgba(255,0,0,0.4)" stroke-width="1.15"/>
<line x1="333.1" y1="296.6" x2="339.1" y2="296.6" stroke="rgba(255,0,0,0.4)" stroke-width="0.9"/>
<line x1="31.9" y1="256.5" x2="31.9" y2="260.5" stroke="rgba(255,0,0,0.4)" stroke-width="1.15"/><line x1="31.9" y1="260.5" x2="31.9" y2="264.5" stroke="rgba(170,90,230,0.42)" stroke-width="1.15"/>
<line x1="31.9" y1="264.5" x2="31.9" y2="268.6" stroke="rgba(170,90,230,0.42)" stroke-width="1.15"/><line x1="31.9" y1="268.6" x2="31.9" y2="272.7" stroke="rgba(255,0,0,0.4)" stroke-width="1.15"/>
<line x1="31.9" y1="272.7" x2="31.9" y2="276.6" stroke="rgba(255,0,0,0.4)" stroke-width="1.15"/><line x1="31.9" y1="276.6" x2="31.9" y2="280.5" stroke="rgba(170,90,230,0.42)" stroke-width="1.15"/>
<line x1="31.9" y1="280.5" x2="31.9" y2="284.75" stroke="rgba(170,90,230,0.42)" stroke-width="1.15"/><line x1="31.9" y1="284.75" x2="31.9" y2="289" stroke="rgba(255,0,0,0.4)" stroke-width="1.15"/>
<line x1="31.9" y1="289" x2="31.9" y2="292.8" stroke="rgba(255,0,0,0.4)" stroke-width="1.15"/><line x1="31.9" y1="292.8" x2="31.9" y2="296.6" stroke="rgba(170,90,230,0.42)" stroke-width="1.15"/>
<line x1="31.9" y1="296.6" x2="31.9" y2="300.8" stroke="rgba(170,90,230,0.42)" stroke-width="1.15"/><line x1="31.9" y1="300.8" x2="31.9" y2="305" stroke="rgba(255,0,0,0.4)" stroke-width="1.15"/>
<line x1="53.94" y1="256.5" x2="53.94" y2="260.5" stroke="rgba(255,0,0,0.4)" stroke-width="1.15"/><line x1="53.94" y1="260.5" x2="53.94" y2="264.5" stroke="rgba(170,90,230,0.42)" stroke-width="1.15"/>
<line x1="53.94" y1="264.5" x2="53.94" y2="268.6" stroke="rgba(170,90,230,0.42)" stroke-width="1.15"/><line x1="53.94" y1="268.6" x2="53.94" y2="272.7" stroke="rgba(255,0,0,0.4)" stroke-width="1.15"/>
<line x1="53.94" y1="272.7" x2="53.94" y2="276.6" stroke="rgba(255,0,0,0.4)" stroke-width="1.15"/><line x1="53.94" y1="276.6" x2="53.94" y2="280.5" stroke="rgba(170,90,230,0.42)" stroke-width="1.15"/>
<line x1="53.94" y1="280.5" x2="53.94" y2="284.75" stroke="rgba(170,90,230,0.42)" stroke-width="1.15"/><line x1="53.94" y1="284.75" x2="53.94" y2="289" stroke="rgba(255,0,0,0.4)" stroke-width="1.15"/>
<line x1="53.94" y1="289" x2="53.94" y2="292.8" stroke="rgba(255,0,0,0.4)" stroke-width="1.15"/><line x1="53.94" y1="292.8" x2="53.94" y2="296.6" stroke="rgba(170,90,230,0.42)" stroke-width="1.15"/>
<line x1="53.94" y1="296.6" x2="53.94" y2="300.8" stroke="rgba(170,90,230,0.42)" stroke-width="1.15"/><line x1="53.94" y1="300.8" x2="53.94" y2="305" stroke="rgba(255,0,0,0.4)" stroke-width="1.15"/>
<line x1="75.98" y1="256.5" x2="75.98" y2="260.5" stroke="rgba(255,0,0,0.4)" stroke-width="1.15"/><line x1="75.98" y1="260.5" x2="75.98" y2="264.5" stroke="rgba(170,90,230,0.42)" stroke-width="1.15"/>
<line x1="75.98" y1="264.5" x2="75.98" y2="268.6" stroke="rgba(170,90,230,0.42)" stroke-width="1.15"/><line x1="75.98" y1="268.6" x2="75.98" y2="272.7" stroke="rgba(255,0,0,0.4)" stroke-width="1.15"/>
<line x1="75.98" y1="272.7" x2="75.98" y2="276.6" stroke="rgba(255,0,0,0.4)" stroke-width="1.15"/><line x1="75.98" y1="276.6" x2="75.98" y2="280.5" stroke="rgba(170,90,230,0.42)" stroke-width="1.15"/>
<line x1="75.98" y1="280.5" x2="75.98" y2="284.75" stroke="rgba(170,90,230,0.42)" stroke-width="1.15"/><line x1="75.98" y1="284.75" x2="75.98" y2="289" stroke="rgba(255,0,0,0.4)" stroke-width="1.15"/>
<line x1="75.98" y1="289" x2="75.98" y2="292.8" stroke="rgba(255,0,0,0.4)" stroke-width="1.15"/><line x1="75.98" y1="292.8" x2="75.98" y2="296.6" stroke="rgba(170,90,230,0.42)" stroke-width="1.15"/>
<line x1="75.98" y1="296.6" x2="75.98" y2="300.8" stroke="rgba(170,90,230,0.42)" stroke-width="1.15"/><line x1="75.98" y1="300.8" x2="75.98" y2="305" stroke="rgba(255,0,0,0.4)" stroke-width="1.15"/>
<line x1="98.02" y1="256.5" x2="98.02" y2="260.5" stroke="rgba(255,0,0,0.4)" stroke-width="1.15"/><line x1="98.02" y1="260.5" x2="98.02" y2="264.5" stroke="rgba(170,90,230,0.42)" stroke-width="1.15"/>
<line x1="98.02" y1="264.5" x2="98.02" y2="268.6" stroke="rgba(170,90,230,0.42)" stroke-width="1.15"/><line x1="98.02" y1="268.6" x2="98.02" y2="272.7" stroke="rgba(255,0,0,0.4)" stroke-width="1.15"/>
<line x1="98.02" y1="272.7" x2="98.02" y2="276.6" stroke="rgba(255,0,0,0.4)" stroke-width="1.15"/><line x1="98.02" y1="276.6" x2="98.02" y2="280.5" stroke="rgba(170,90,230,0.42)" stroke-width="1.15"/>
<line x1="98.02" y1="280.5" x2="98.02" y2="284.75" stroke="rgba(170,90,230,0.42)" stroke-width="1.15"/><line x1="98.02" y1="284.75" x2="98.02" y2="289" stroke="rgba(255,0,0,0.4)" stroke-width="1.15"/>
<line x1="98.02" y1="289" x2="98.02" y2="292.8" stroke="rgba(255,0,0,0.4)" stroke-width="1.15"/><line x1="98.02" y1="292.8" x2="98.02" y2="296.6" stroke="rgba(170,90,230,0.42)" stroke-width="1.15"/>
<line x1="98.02" y1="296.6" x2="98.02" y2="300.8" stroke="rgba(170,90,230,0.42)" stroke-width="1.15"/><line x1="98.02" y1="300.8" x2="98.02" y2="305" stroke="rgba(255,0,0,0.4)" stroke-width="1.15"/>
<line x1="120.06" y1="256.5" x2="120.06" y2="260.5" stroke="rgba(255,0,0,0.4)" stroke-width="1.15"/><line x1="120.06" y1="260.5" x2="120.06" y2="264.5" stroke="rgba(170,90,230,0.42)" stroke-width="1.15"/>
<line x1="120.06" y1="264.5" x2="120.06" y2="268.6" stroke="rgba(170,90,230,0.42)" stroke-width="1.15"/><line x1="120.06" y1="268.6" x2="120.06" y2="272.7" stroke="rgba(255,0,0,0.4)" stroke-width="1.15"/>
<line x1="120.06" y1="272.7" x2="120.06" y2="276.6" stroke="rgba(255,0,0,0.4)" stroke-width="1.15"/><line x1="120.06" y1="276.6" x2="120.06" y2="280.5" stroke="rgba(170,90,230,0.42)" stroke-width="1.15"/>
<line x1="120.06" y1="280.5" x2="120.06" y2="284.75" stroke="rgba(170,90,230,0.42)" stroke-width="1.15"/><line x1="120.06" y1="284.75" x2="120.06" y2="289" stroke="rgba(255,0,0,0.4)" stroke-width="1.15"/>
<line x1="120.06" y1="289" x2="120.06" y2="292.8" stroke="rgba(255,0,0,0.4)" stroke-width="1.15"/><line x1="120.06" y1="292.8" x2="120.06" y2="296.6" stroke="rgba(170,90,230,0.42)" stroke-width="1.15"/>
<line x1="120.06" y1="296.6" x2="120.06" y2="300.8" stroke="rgba(170,90,230,0.42)" stroke-width="1.15"/><line x1="120.06" y1="300.8" x2="120.06" y2="305" stroke="rgba(255,0,0,0.4)" stroke-width="1.15"/>
<line x1="142.1" y1="256.5" x2="142.1" y2="260.5" stroke="rgba(255,0,0,0.4)" stroke-width="1.15"/><line x1="142.1" y1="260.5" x2="142.1" y2="264.5" stroke="rgba(170,90,230,0.42)" stroke-width="1.15"/>
<line x1="142.1" y1="264.5" x2="142.1" y2="268.6" stroke="rgba(170,90,230,0.42)" stroke-width="1.15"/><line x1="142.1" y1="268.6" x2="142.1" y2="272.7" stroke="rgba(255,0,0,0.4)" stroke-width="1.15"/>
<line x1="142.1" y1="272.7" x2="142.1" y2="276.6" stroke="rgba(255,0,0,0.4)" stroke-width="1.15"/><line x1="142.1" y1="276.6" x2="142.1" y2="280.5" stroke="rgba(170,90,230,0.42)" stroke-width="1.15"/>
<line x1="142.1" y1="280.5" x2="142.1" y2="284.75" stroke="rgba(170,90,230,0.42)" stroke-width="1.15"/><line x1="142.1" y1="284.75" x2="142.1" y2="289" stroke="rgba(255,0,0,0.4)" stroke-width="1.15"/>
<line x1="142.1" y1="289" x2="142.1" y2="292.8" stroke="rgba(255,0,0,0.4)" stroke-width="1.15"/><line x1="142.1" y1="292.8" x2="142.1" y2="296.6" stroke="rgba(170,90,230,0.42)" stroke-width="1.15"/>
<line x1="142.1" y1="296.6" x2="142.1" y2="300.8" stroke="rgba(170,90,230,0.42)" stroke-width="1.15"/><line x1="142.1" y1="300.8" x2="142.1" y2="305" stroke="rgba(255,0,0,0.4)" stroke-width="1.15"/>
<line x1="164.14" y1="256.5" x2="164.14" y2="260.5" stroke="rgba(255,0,0,0.4)" stroke-width="1.15"/><line x1="164.14" y1="260.5" x2="164.14" y2="264.5" stroke="rgba(170,90,230,0.42)" stroke-width="1.15"/>
<line x1="164.14" y1="264.5" x2="164.14" y2="268.6" stroke="rgba(170,90,230,0.42)" stroke-width="1.15"/><line x1="164.14" y1="268.6" x2="164.14" y2="272.7" stroke="rgba(255,0,0,0.4)" stroke-width="1.15"/>
<line x1="164.14" y1="272.7" x2="164.14" y2="276.6" stroke="rgba(255,0,0,0.4)" stroke-width="1.15"/><line x1="164.14" y1="276.6" x2="164.14" y2="280.5" stroke="rgba(170,90,230,0.42)" stroke-width="1.15"/>
<line x1="164.14" y1="280.5" x2="164.14" y2="284.75" stroke="rgba(170,90,230,0.42)" stroke-width="1.15"/><line x1="164.14" y1="284.75" x2="164.14" y2="289" stroke="rgba(255,0,0,0.4)" stroke-width="1.15"/>
<line x1="164.14" y1="289" x2="164.14" y2="292.8" stroke="rgba(255,0,0,0.4)" stroke-width="1.15"/><line x1="164.14" y1="292.8" x2="164.14" y2="296.6" stroke="rgba(170,90,230,0.42)" stroke-width="1.15"/>
<line x1="164.14" y1="296.6" x2="164.14" y2="300.8" stroke="rgba(170,90,230,0.42)" stroke-width="1.15"/><line x1="164.14" y1="300.8" x2="164.14" y2="305" stroke="rgba(255,0,0,0.4)" stroke-width="1.15"/>
<line x1="186.18" y1="256.5" x2="186.18" y2="260.5" stroke="rgba(255,0,0,0.4)" stroke-width="1.15"/><line x1="186.18" y1="260.5" x2="186.18" y2="264.5" stroke="rgba(170,90,230,0.42)" stroke-width="1.15"/>
<line x1="186.18" y1="264.5" x2="186.18" y2="268.6" stroke="rgba(170,90,230,0.42)" stroke-width="1.15"/><line x1="186.18" y1="268.6" x2="186.18" y2="272.7" stroke="rgba(255,0,0,0.4)" stroke-width="1.15"/>
<line x1="186.18" y1="272.7" x2="186.18" y2="276.6" stroke="rgba(255,0,0,0.4)" stroke-width="1.15"/><line x1="186.18" y1="276.6" x2="186.18" y2="280.5" stroke="rgba(170,90,230,0.42)" stroke-width="1.15"/>
<line x1="186.18" y1="280.5" x2="186.18" y2="284.75" stroke="rgba(170,90,230,0.42)" stroke-width="1.15"/><line x1="186.18" y1="284.75" x2="186.18" y2="289" stroke="rgba(255,0,0,0.4)" stroke-width="1.15"/>
<line x1="186.18" y1="289" x2="186.18" y2="292.8" stroke="rgba(255,0,0,0.4)" stroke-width="1.15"/><line x1="186.18" y1="292.8" x2="186.18" y2="296.6" stroke="rgba(170,90,230,0.42)" stroke-width="1.15"/>
<line x1="186.18" y1="296.6" x2="186.18" y2="300.8" stroke="rgba(170,90,230,0.42)" stroke-width="1.15"/><line x1="186.18" y1="300.8" x2="186.18" y2="305" stroke="rgba(255,0,0,0.4)" stroke-width="1.15"/>
<line x1="208.22" y1="256.5" x2="208.22" y2="260.5" stroke="rgba(255,0,0,0.4)" stroke-width="1.15"/><line x1="208.22" y1="260.5" x2="208.22" y2="264.5" stroke="rgba(170,90,230,0.42)" stroke-width="1.15"/>
<line x1="208.22" y1="264.5" x2="208.22" y2="268.6" stroke="rgba(170,90,230,0.42)" stroke-width="1.15"/><line x1="208.22" y1="268.6" x2="208.22" y2="272.7" stroke="rgba(255,0,0,0.4)" stroke-width="1.15"/>
<line x1="208.22" y1="272.7" x2="208.22" y2="276.6" stroke="rgba(255,0,0,0.4)" stroke-width="1.15"/><line x1="208.22" y1="276.6" x2="208.22" y2="280.5" stroke="rgba(170,90,230,0.42)" stroke-width="1.15"/>
<line x1="208.22" y1="280.5" x2="208.22" y2="284.75" stroke="rgba(170,90,230,0.42)" stroke-width="1.15"/><line x1="208.22" y1="284.75" x2="208.22" y2="289" stroke="rgba(255,0,0,0.4)" stroke-width="1.15"/>
<line x1="208.22" y1="289" x2="208.22" y2="292.8" stroke="rgba(255,0,0,0.4)" stroke-width="1.15"/><line x1="208.22" y1="292.8" x2="208.22" y2="296.6" stroke="rgba(170,90,230,0.42)" stroke-width="1.15"/>
<line x1="208.22" y1="296.6" x2="208.22" y2="300.8" stroke="rgba(170,90,230,0.42)" stroke-width="1.15"/><line x1="208.22" y1="300.8" x2="208.22" y2="305" stroke="rgba(255,0,0,0.4)" stroke-width="1.15"/>
<line x1="230.1" y1="256.5" x2="230.1" y2="260.5" stroke="rgba(255,0,0,0.4)" stroke-width="1.15"/><line x1="230.1" y1="260.5" x2="230.1" y2="264.5" stroke="rgba(248,160,20,0.45)" stroke-width="1.15"/>
<line x1="230.1" y1="264.5" x2="230.1" y2="268.6" stroke="rgba(248,160,20,0.45)" stroke-width="1.15"/><line x1="230.1" y1="268.6" x2="230.1" y2="272.7" stroke="rgba(255,0,0,0.4)" stroke-width="1.15"/>
<line x1="230.1" y1="272.7" x2="230.1" y2="276.6" stroke="rgba(255,0,0,0.4)" stroke-width="1.15"/><line x1="230.1" y1="276.6" x2="230.1" y2="280.5" stroke="rgba(248,160,20,0.45)" stroke-width="1.15"/>
<line x1="230.1" y1="280.5" x2="230.1" y2="284.75" stroke="rgba(248,160,20,0.45)" stroke-width="1.15"/><line x1="230.1" y1="284.75" x2="230.1" y2="289" stroke="rgba(255,0,0,0.4)" stroke-width="1.15"/>
<line x1="230.1" y1="289" x2="230.1" y2="292.8" stroke="rgba(255,0,0,0.4)" stroke-width="1.15"/><line x1="230.1" y1="292.8" x2="230.1" y2="296.6" stroke="rgba(248,160,20,0.45)" stroke-width="1.15"/>
<line x1="230.1" y1="296.6" x2="230.1" y2="300.8" stroke="rgba(248,160,20,0.45)" stroke-width="1.15"/><line x1="230.1" y1="300.8" x2="230.1" y2="305" stroke="rgba(255,0,0,0.4)" stroke-width="1.15"/>
<line x1="253.4" y1="256.5" x2="253.4" y2="260.5" stroke="rgba(255,0,0,0.4)" stroke-width="1.15"/><line x1="253.4" y1="260.5" x2="253.4" y2="264.5" stroke="rgba(248,160,20,0.45)" stroke-width="1.15"/>
<line x1="253.4" y1="264.5" x2="253.4" y2="268.6" stroke="rgba(248,160,20,0.45)" stroke-width="1.15"/><line x1="253.4" y1="268.6" x2="253.4" y2="272.7" stroke="rgba(255,0,0,0.4)" stroke-width="1.15"/>
<line x1="253.4" y1="272.7" x2="253.4" y2="276.6" stroke="rgba(255,0,0,0.4)" stroke-width="1.15"/><line x1="253.4" y1="276.6" x2="253.4" y2="280.5" stroke="rgba(248,160,20,0.45)" stroke-width="1.15"/>
<line x1="253.4" y1="280.5" x2="253.4" y2="284.75" stroke="rgba(248,160,20,0.45)" stroke-width="1.15"/><line x1="253.4" y1="284.75" x2="253.4" y2="289" stroke="rgba(255,0,0,0.4)" stroke-width="1.15"/>
<line x1="253.4" y1="289" x2="253.4" y2="292.8" stroke="rgba(255,0,0,0.4)" stroke-width="1.15"/><line x1="253.4" y1="292.8" x2="253.4" y2="296.6" stroke="rgba(248,160,20,0.45)" stroke-width="1.15"/>
<line x1="253.4" y1="296.6" x2="253.4" y2="300.8" stroke="rgba(248,160,20,0.45)" stroke-width="1.15"/><line x1="253.4" y1="300.8" x2="253.4" y2="305" stroke="rgba(255,0,0,0.4)" stroke-width="1.15"/>
<line x1="276.7" y1="256.5" x2="276.7" y2="260.5" stroke="rgba(255,0,0,0.4)" stroke-width="1.15"/><line x1="276.7" y1="260.5" x2="276.7" y2="264.5" stroke="rgba(248,160,20,0.45)" stroke-width="1.15"/>
<line x1="276.7" y1="264.5" x2="276.7" y2="268.6" stroke="rgba(248,160,20,0.45)" stroke-width="1.15"/><line x1="276.7" y1="268.6" x2="276.7" y2="272.7" stroke="rgba(255,0,0,0.4)" stroke-width="1.15"/>
<line x1="276.7" y1="272.7" x2="276.7" y2="276.6" stroke="rgba(255,0,0,0.4)" stroke-width="1.15"/><line x1="276.7" y1="276.6" x2="276.7" y2="280.5" stroke="rgba(248,160,20,0.45)" stroke-width="1.15"/>
<line x1="276.7" y1="280.5" x2="276.7" y2="284.75" stroke="rgba(248,160,20,0.45)" stroke-width="1.15"/><line x1="276.7" y1="284.75" x2="276.7" y2="289" stroke="rgba(255,0,0,0.4)" stroke-width="1.15"/>
<line x1="276.7" y1="289" x2="276.7" y2="292.8" stroke="rgba(255,0,0,0.4)" stroke-width="1.15"/><line x1="276.7" y1="292.8" x2="276.7" y2="296.6" stroke="rgba(248,160,20,0.45)" stroke-width="1.15"/>
<line x1="276.7" y1="296.6" x2="276.7" y2="300.8" stroke="rgba(248,160,20,0.45)" stroke-width="1.15"/><line x1="276.7" y1="300.8" x2="276.7" y2="305" stroke="rgba(255,0,0,0.4)" stroke-width="1.15"/>
<line x1="299.9" y1="256.5" x2="299.9" y2="260.5" stroke="rgba(255,0,0,0.4)" stroke-width="1.15"/><line x1="299.9" y1="260.5" x2="299.9" y2="264.5" stroke="rgba(248,160,20,0.45)" stroke-width="1.15"/>
<line x1="299.9" y1="264.5" x2="299.9" y2="268.6" stroke="rgba(248,160,20,0.45)" stroke-width="1.15"/><line x1="299.9" y1="268.6" x2="299.9" y2="272.7" stroke="rgba(255,0,0,0.4)" stroke-width="1.15"/>
<line x1="299.9" y1="272.7" x2="299.9" y2="276.6" stroke="rgba(255,0,0,0.4)" stroke-width="1.15"/><line x1="299.9" y1="276.6" x2="299.9" y2="280.5" stroke="rgba(248,160,20,0.45)" stroke-width="1.15"/>
<line x1="299.9" y1="280.5" x2="299.9" y2="284.75" stroke="rgba(248,160,20,0.45)" stroke-width="1.15"/><line x1="299.9" y1="284.75" x2="299.9" y2="289" stroke="rgba(255,0,0,0.4)" stroke-width="1.15"/>
<line x1="299.9" y1="289" x2="299.9" y2="292.8" stroke="rgba(255,0,0,0.4)" stroke-width="1.15"/><line x1="299.9" y1="292.8" x2="299.9" y2="296.6" stroke="rgba(248,160,20,0.45)" stroke-width="1.15"/>
<line x1="299.9" y1="296.6" x2="299.9" y2="300.8" stroke="rgba(248,160,20,0.45)" stroke-width="1.15"/><line x1="299.9" y1="300.8" x2="299.9" y2="305" stroke="rgba(255,0,0,0.4)" stroke-width="1.15"/>
<line x1="323" y1="256.5" x2="323" y2="260.5" stroke="rgba(255,0,0,0.4)" stroke-width="1.15"/><line x1="323" y1="260.5" x2="323" y2="264.5" stroke="rgba(248,160,20,0.45)" stroke-width="1.15"/>
<line x1="323" y1="264.5" x2="323" y2="268.6" stroke="rgba(248,160,20,0.45)" stroke-width="1.15"/><line x1="323" y1="268.6" x2="323" y2="272.7" stroke="rgba(255,0,0,0.4)" stroke-width="1.15"/>
<line x1="323" y1="272.7" x2="323" y2="276.6" stroke="rgba(255,0,0,0.4)" stroke-width="1.15"/><line x1="323" y1="276.6" x2="323" y2="280.5" stroke="rgba(248,160,20,0.45)" stroke-width="1.15"/>
<line x1="323" y1="280.5" x2="323" y2="284.75" stroke="rgba(248,160,20,0.45)" stroke-width="1.15"/><line x1="323" y1="284.75" x2="323" y2="289" stroke="rgba(255,0,0,0.4)" stroke-width="1.15"/>
<line x1="323" y1="289" x2="323" y2="292.8" stroke="rgba(255,0,0,0.4)" stroke-width="1.15"/><line x1="323" y1="292.8" x2="323" y2="296.6" stroke="rgba(248,160,20,0.45)" stroke-width="1.15"/>
<line x1="323" y1="296.6" x2="323" y2="300.8" stroke="rgba(248,160,20,0.45)" stroke-width="1.15"/><line x1="323" y1="300.8" x2="323" y2="305" stroke="rgba(255,0,0,0.4)" stroke-width="1.15"/>
<line x1="225.5" y1="254.7" x2="225.5" y2="304.5" stroke="#7a7a7a" stroke-width="0.8" stroke-dasharray="1.4,1"/>
<circle cx="42.25" cy="264.5" r="1.6" fill="url(#gO)"/>
<circle cx="64.29" cy="264.5" r="1.6" fill="url(#gO)"/>
<circle cx="86.33" cy="264.5" r="1.6" fill="url(#gO)"/>
<circle cx="108.37" cy="264.5" r="1.6" fill="url(#gO)"/>
<circle cx="130.41" cy="264.5" r="1.6" fill="url(#gO)"/>
<circle cx="152.45" cy="264.5" r="1.6" fill="url(#gO)"/>
<circle cx="174.49" cy="264.5" r="1.6" fill="url(#gO)"/>
<circle cx="196.53" cy="264.5" r="1.6" fill="url(#gO)"/>
<circle cx="218.57" cy="264.5" r="1.6" fill="url(#gO)"/>
<circle cx="241.6" cy="264.5" r="1.5" fill="url(#gO)"/>
<circle cx="264.5" cy="264.5" r="1.5" fill="url(#gO)"/>
<circle cx="287.7" cy="264.5" r="1.5" fill="url(#gO)"/>
<circle cx="310.8" cy="264.5" r="1.5" fill="url(#gO)"/>
<circle cx="333.2" cy="264.5" r="1.5" fill="url(#gO)"/>
<circle cx="31.9" cy="264.5" r="2.8" fill="url(#gAl)"/>
<circle cx="53.94" cy="264.5" r="2.8" fill="url(#gAl)"/>
<circle cx="75.98" cy="264.5" r="2.8" fill="url(#gAl)"/>
<circle cx="98.02" cy="264.5" r="2.8" fill="url(#gAl)"/>
<circle cx="120.06" cy="264.5" r="2.8" fill="url(#gAl)"/>
<circle cx="142.1" cy="264.5" r="2.8" fill="url(#gAl)"/>
<circle cx="164.14" cy="264.5" r="2.8" fill="url(#gAl)"/>
<circle cx="186.18" cy="264.5" r="2.8" fill="url(#gAl)"/>
<circle cx="208.22" cy="264.5" r="2.8" fill="url(#gAl)"/>
<circle cx="230.8" cy="264.5" r="2.5" fill="url(#gTi)"/>
<circle cx="254.1" cy="264.5" r="2.5" fill="url(#gTi)"/>
<circle cx="277.4" cy="264.5" r="2.5" fill="url(#gTi)"/>
<circle cx="300.6" cy="264.5" r="2.5" fill="url(#gTi)"/>
<circle cx="323.7" cy="264.5" r="2.5" fill="url(#gTi)"/>
<circle cx="42.25" cy="280.5" r="1.6" fill="url(#gO)"/>
<circle cx="64.29" cy="280.5" r="1.6" fill="url(#gO)"/>
<circle cx="86.33" cy="280.5" r="1.6" fill="url(#gO)"/>
<circle cx="108.37" cy="280.5" r="1.6" fill="url(#gO)"/>
<circle cx="130.41" cy="280.5" r="1.6" fill="url(#gO)"/>
<circle cx="152.45" cy="280.5" r="1.6" fill="url(#gO)"/>
<circle cx="174.49" cy="280.5" r="1.6" fill="url(#gO)"/>
<circle cx="196.53" cy="280.5" r="1.6" fill="url(#gO)"/>
<circle cx="218.57" cy="280.5" r="1.6" fill="url(#gO)"/>
<circle cx="241.6" cy="280.5" r="1.5" fill="url(#gO)"/>
<circle cx="264.5" cy="280.5" r="1.5" fill="url(#gO)"/>
<circle cx="287.7" cy="280.5" r="1.5" fill="url(#gO)"/>
<circle cx="310.8" cy="280.5" r="1.5" fill="url(#gO)"/>
<circle cx="333.2" cy="280.5" r="1.5" fill="url(#gO)"/>
<circle cx="31.9" cy="280.5" r="2.8" fill="url(#gAl)"/>
<circle cx="53.94" cy="280.5" r="2.8" fill="url(#gAl)"/>
<circle cx="75.98" cy="280.5" r="2.8" fill="url(#gAl)"/>
<circle cx="98.02" cy="280.5" r="2.8" fill="url(#gAl)"/>
<circle cx="120.06" cy="280.5" r="2.8" fill="url(#gAl)"/>
<circle cx="142.1" cy="280.5" r="2.8" fill="url(#gAl)"/>
<circle cx="164.14" cy="280.5" r="2.8" fill="url(#gAl)"/>
<circle cx="186.18" cy="280.5" r="2.8" fill="url(#gAl)"/>
<circle cx="208.22" cy="280.5" r="2.8" fill="url(#gAl)"/>
<circle cx="230.8" cy="280.5" r="2.5" fill="url(#gTi)"/>
<circle cx="254.1" cy="280.5" r="2.5" fill="url(#gTi)"/>
<circle cx="277.4" cy="280.5" r="2.5" fill="url(#gTi)"/>
<circle cx="300.6" cy="280.5" r="2.5" fill="url(#gTi)"/>
<circle cx="323.7" cy="280.5" r="2.5" fill="url(#gTi)"/>
<circle cx="42.25" cy="296.6" r="1.6" fill="url(#gO)"/>
<circle cx="64.29" cy="296.6" r="1.6" fill="url(#gO)"/>
<circle cx="86.33" cy="296.6" r="1.6" fill="url(#gO)"/>
<circle cx="108.37" cy="296.6" r="1.6" fill="url(#gO)"/>
<circle cx="130.41" cy="296.6" r="1.6" fill="url(#gO)"/>
<circle cx="152.45" cy="296.6" r="1.6" fill="url(#gO)"/>
<circle cx="174.49" cy="296.6" r="1.6" fill="url(#gO)"/>
<circle cx="196.53" cy="296.6" r="1.6" fill="url(#gO)"/>
<circle cx="218.57" cy="296.6" r="1.6" fill="url(#gO)"/>
<circle cx="241.6" cy="296.6" r="1.5" fill="url(#gO)"/>
<circle cx="264.5" cy="296.6" r="1.5" fill="url(#gO)"/>
<circle cx="287.7" cy="296.6" r="1.5" fill="url(#gO)"/>
<circle cx="310.8" cy="296.6" r="1.5" fill="url(#gO)"/>
<circle cx="333.2" cy="296.6" r="1.5" fill="url(#gO)"/>
<circle cx="31.9" cy="296.6" r="2.8" fill="url(#gAl)"/>
<circle cx="53.94" cy="296.6" r="2.8" fill="url(#gAl)"/>
<circle cx="75.98" cy="296.6" r="2.8" fill="url(#gAl)"/>
<circle cx="98.02" cy="296.6" r="2.8" fill="url(#gAl)"/>
<circle cx="120.06" cy="296.6" r="2.8" fill="url(#gAl)"/>
<circle cx="142.1" cy="296.6" r="2.8" fill="url(#gAl)"/>
<circle cx="164.14" cy="296.6" r="2.8" fill="url(#gAl)"/>
<circle cx="186.18" cy="296.6" r="2.8" fill="url(#gAl)"/>
<circle cx="208.22" cy="296.6" r="2.8" fill="url(#gAl)"/>
<circle cx="230.8" cy="296.6" r="2.5" fill="url(#gTi)"/>
<circle cx="254.1" cy="296.6" r="2.5" fill="url(#gTi)"/>
<circle cx="277.4" cy="296.6" r="2.5" fill="url(#gTi)"/>
<circle cx="300.6" cy="296.6" r="2.5" fill="url(#gTi)"/>
<circle cx="323.7" cy="296.6" r="2.5" fill="url(#gTi)"/>
<circle cx="31.9" cy="256.5" r="1.8" fill="url(#gO)"/>
<circle cx="53.94" cy="256.5" r="1.8" fill="url(#gO)"/>
<circle cx="75.98" cy="256.5" r="1.8" fill="url(#gO)"/>
<circle cx="98.02" cy="256.5" r="1.8" fill="url(#gO)"/>
<circle cx="120.06" cy="256.5" r="1.8" fill="url(#gO)"/>
<circle cx="142.1" cy="256.5" r="1.8" fill="url(#gO)"/>
<circle cx="164.14" cy="256.5" r="1.8" fill="url(#gO)"/>
<circle cx="186.18" cy="256.5" r="1.8" fill="url(#gO)"/>
<circle cx="208.22" cy="256.5" r="1.8" fill="url(#gO)"/>
<circle cx="230" cy="256.5" r="1.8" fill="url(#gO)"/>
<circle cx="253.3" cy="256.5" r="1.8" fill="url(#gO)"/>
<circle cx="276.6" cy="256.5" r="1.8" fill="url(#gO)"/>
<circle cx="299.8" cy="256.5" r="1.8" fill="url(#gO)"/>
<circle cx="322.9" cy="256.5" r="1.8" fill="url(#gO)"/>
<ellipse cx="31.9" cy="272.1" rx="1.6" ry="2.8" fill="url(#gO)"/>
<circle cx="53.94" cy="272.7" r="1.8" fill="url(#gO)"/>
<circle cx="75.98" cy="272.7" r="1.8" fill="url(#gO)"/>
<circle cx="98.02" cy="272.7" r="1.8" fill="url(#gO)"/>
<circle cx="120.06" cy="272.7" r="1.8" fill="url(#gO)"/>
<circle cx="142.1" cy="272.7" r="1.8" fill="url(#gO)"/>
<circle cx="164.14" cy="272.7" r="1.8" fill="url(#gO)"/>
<circle cx="186.18" cy="272.7" r="1.8" fill="url(#gO)"/>
<circle cx="208.22" cy="272.7" r="1.8" fill="url(#gO)"/>
<circle cx="230" cy="272.7" r="1.8" fill="url(#gO)"/>
<circle cx="253.3" cy="272.7" r="1.8" fill="url(#gO)"/>
<circle cx="276.6" cy="272.7" r="1.8" fill="url(#gO)"/>
<circle cx="299.8" cy="272.7" r="1.8" fill="url(#gO)"/>
<circle cx="322.9" cy="272.7" r="1.8" fill="url(#gO)"/>
<circle cx="31.9" cy="289" r="1.8" fill="url(#gO)"/>
<circle cx="53.94" cy="289" r="1.8" fill="url(#gO)"/>
<circle cx="75.98" cy="289" r="1.8" fill="url(#gO)"/>
<circle cx="98.02" cy="289" r="1.8" fill="url(#gO)"/>
<circle cx="120.06" cy="289" r="1.8" fill="url(#gO)"/>
<circle cx="142.1" cy="289" r="1.8" fill="url(#gO)"/>
<circle cx="164.14" cy="289" r="1.8" fill="url(#gO)"/>
<circle cx="186.18" cy="289" r="1.8" fill="url(#gO)"/>
<circle cx="208.22" cy="289" r="1.8" fill="url(#gO)"/>
<circle cx="230" cy="289" r="1.8" fill="url(#gO)"/>
<circle cx="253.3" cy="289" r="1.8" fill="url(#gO)"/>
<circle cx="276.6" cy="289" r="1.8" fill="url(#gO)"/>
<circle cx="299.8" cy="289" r="1.8" fill="url(#gO)"/>
<circle cx="322.9" cy="289" r="1.8" fill="url(#gO)"/>
<ellipse cx="31.9" cy="304.8" rx="1.6" ry="2.8" fill="url(#gO)"/>
<circle cx="53.94" cy="305" r="1.8" fill="url(#gO)"/>
<circle cx="75.98" cy="305" r="1.8" fill="url(#gO)"/>
<circle cx="98.02" cy="305" r="1.8" fill="url(#gO)"/>
<circle cx="120.06" cy="305" r="1.8" fill="url(#gO)"/>
<circle cx="142.1" cy="305" r="1.8" fill="url(#gO)"/>
<circle cx="164.14" cy="305" r="1.8" fill="url(#gO)"/>
<circle cx="186.18" cy="305" r="1.8" fill="url(#gO)"/>
<circle cx="208.22" cy="305" r="1.8" fill="url(#gO)"/>
<circle cx="230" cy="305" r="1.8" fill="url(#gO)"/>
<circle cx="253.3" cy="305" r="1.8" fill="url(#gO)"/>
<circle cx="276.6" cy="305" r="1.8" fill="url(#gO)"/>
<circle cx="299.8" cy="305" r="1.8" fill="url(#gO)"/>
<circle cx="322.9" cy="305" r="1.8" fill="url(#gO)"/>
<rect x="140.3" y="1" width="48.3" height="33.4" fill="#fff" stroke="#6a6a6a" stroke-width="1.25"/>
<circle cx="147.7" cy="17.5" r="5.45" fill="url(#gLa)"/>
<circle cx="180.3" cy="17.5" r="5.45" fill="url(#gLa)"/>
<line x1="140.3" y1="17.5" x2="147.7" y2="17.5" stroke="#ff6060" stroke-width="1"/>
<line x1="147.7" y1="17.5" x2="156" y2="17.5" stroke="#ff6060" stroke-width="1"/><line x1="156" y1="17.5" x2="164.3" y2="17.5" stroke="#d4b0f0" stroke-width="1"/>
<line x1="164.3" y1="17.5" x2="172.3" y2="17.5" stroke="#d4b0f0" stroke-width="1"/><line x1="172.3" y1="17.5" x2="180.3" y2="17.5" stroke="#ff6060" stroke-width="1"/>
<line x1="180.3" y1="17.5" x2="188.6" y2="17.5" stroke="#ff6060" stroke-width="1"/>
<line x1="164.3" y1="1" x2="164.3" y2="5.5" stroke="#d04040" stroke-width="1"/>
<line x1="164.3" y1="29.4" x2="164.3" y2="34.4" stroke="#d04040" stroke-width="1"/>
<line x1="164.3" y1="5.5" x2="164.3" y2="11.5" stroke="#ff8080" stroke-width="1.1"/><line x1="164.3" y1="11.5" x2="164.3" y2="17.5" stroke="#d4b0f0" stroke-width="1.1"/>
<line x1="164.3" y1="17.5" x2="164.3" y2="23.45" stroke="#d4b0f0" stroke-width="1.1"/><line x1="164.3" y1="23.45" x2="164.3" y2="29.4" stroke="#ff8080" stroke-width="1.1"/>
<circle cx="147.7" cy="17.5" r="2.45" fill="url(#gO)"/>
<circle cx="180.3" cy="17.5" r="2.45" fill="url(#gO)"/>
<circle cx="164.3" cy="17.5" r="3.8" fill="url(#gAl)"/>
<circle cx="164.3" cy="5.5" r="2.3" fill="url(#gO)"/>
<circle cx="164.3" cy="29.4" r="2.3" fill="url(#gO)"/>
<rect x="140.5" y="117.5" width="47.2" height="32.8" fill="#fff" stroke="#555555" stroke-width="1.25"/>
<circle cx="148" cy="133.8" r="5.45" fill="url(#gLa)"/>
<circle cx="179.2" cy="133.8" r="5.45" fill="url(#gLa)"/>
<line x1="140.5" y1="133.8" x2="148" y2="133.8" stroke="#ff6060" stroke-width="1"/>
<line x1="148" y1="133.8" x2="155.95" y2="133.8" stroke="#ff6060" stroke-width="1"/><line x1="155.95" y1="133.8" x2="163.9" y2="133.8" stroke="#d4b0f0" stroke-width="1"/>
<line x1="163.9" y1="133.8" x2="171.55" y2="133.8" stroke="#d4b0f0" stroke-width="1"/><line x1="171.55" y1="133.8" x2="179.2" y2="133.8" stroke="#ff6060" stroke-width="1"/>
<line x1="179.2" y1="133.8" x2="187.7" y2="133.8" stroke="#ff6060" stroke-width="1"/>
<line x1="163.2" y1="117.5" x2="163.2" y2="150.3" stroke="#7a3040" stroke-width="0.9"/>
<circle cx="148" cy="133.8" r="2.45" fill="url(#gO)"/>
<circle cx="179.2" cy="133.8" r="2.45" fill="url(#gO)"/>
<circle cx="163.9" cy="133.8" r="3.8" fill="url(#gAl)"/>
<circle cx="163.2" cy="122.1" r="2.5" fill="url(#gO)"/>
<circle cx="163.2" cy="145.1" r="2.5" fill="url(#gO)"/>
<line x1="163.2" y1="119.6" x2="163.2" y2="124.6" stroke="#600000" stroke-width="0.8" opacity="0.55"/>
<line x1="163.2" y1="142.6" x2="163.2" y2="147.6" stroke="#600000" stroke-width="0.8" opacity="0.55"/>
<line x1="163.2" y1="130" x2="163.2" y2="137.6" stroke="#502060" stroke-width="0.6" opacity="0.3"/>
<circle cx="164.2" cy="133.6" r="0.8" fill="#f0e0ff"/>
<rect x="140.5" y="220.1" width="47.2" height="32.5" fill="#fff" stroke="#555555" stroke-width="1.25"/>
<circle cx="148" cy="236.5" r="5.45" fill="url(#gLa)"/>
<circle cx="179.2" cy="236.5" r="5.45" fill="url(#gLa)"/>
<line x1="140.5" y1="236.5" x2="148" y2="236.5" stroke="#ff6060" stroke-width="1"/>
<line x1="148" y1="236.5" x2="155.6" y2="236.5" stroke="#ff6060" stroke-width="1"/><line x1="155.6" y1="236.5" x2="163.2" y2="236.5" stroke="#d4b0f0" stroke-width="1"/>
<line x1="163.2" y1="236.5" x2="171.2" y2="236.5" stroke="#d4b0f0" stroke-width="1"/><line x1="171.2" y1="236.5" x2="179.2" y2="236.5" stroke="#ff6060" stroke-width="1"/>
<line x1="179.2" y1="236.5" x2="187.7" y2="236.5" stroke="#ff6060" stroke-width="1"/>
<line x1="163.9" y1="220.1" x2="163.9" y2="252.6" stroke="#7a3040" stroke-width="0.9"/>
<circle cx="148" cy="236.5" r="2.45" fill="url(#gO)"/>
<circle cx="179.2" cy="236.5" r="2.45" fill="url(#gO)"/>
<circle cx="163.2" cy="236.5" r="3.8" fill="url(#gAl)"/>
<circle cx="163.9" cy="225" r="2.5" fill="url(#gO)"/>
<circle cx="163.9" cy="247.8" r="2.5" fill="url(#gO)"/>
<line x1="163.9" y1="222.5" x2="163.9" y2="227.5" stroke="#600000" stroke-width="0.8" opacity="0.55"/>
<line x1="163.9" y1="245.3" x2="163.9" y2="250.3" stroke="#600000" stroke-width="0.8" opacity="0.55"/>
<line x1="163.9" y1="232.7" x2="163.9" y2="240.3" stroke="#502060" stroke-width="0.6" opacity="0.3"/>
<circle cx="163.5" cy="236.3" r="0.8" fill="#f0e0ff"/>
<text x="119.7" y="129" font-family="Liberation Serif" font-style="italic" font-size="11.5" fill="#222">δ</text>
<text x="125.2" y="131.2" font-size="5.6" font-weight="normal" font-style="normal" fill="#222" text-anchor="start" >Al-O</text>
<path d="M123,134.85 L128.4,134.85 L128.4,133.3 L132.2,136 L128.4,138.7 L128.4,137.15 L123,137.15 Z" fill="#111"/>
<text x="121.9" y="229.6" font-family="Liberation Serif" font-style="italic" font-size="11.5" fill="#222">δ</text>
<text x="126.9" y="231.8" font-size="6" font-weight="normal" font-style="normal" fill="#222" text-anchor="start" >Al-O</text>
<path d="M134.3,234.55 L129.7,234.55 L129.7,233 L125.8,235.7 L129.7,238.4 L129.7,236.85 L134.3,236.85 Z" fill="#111"/>
<circle cx="39.9" cy="111.9" r="3.7" fill="url(#bLa)"/>
<text x="46.6" y="114.9" font-size="8.7" font-weight="normal" font-style="normal" fill="#222" text-anchor="start" >La</text>
<circle cx="71.7" cy="111.9" r="3.8" fill="url(#bAl)"/>
<text x="78.3" y="114.9" font-size="8.7" font-weight="normal" font-style="normal" fill="#222" text-anchor="start" >Al</text>
<circle cx="97" cy="111.9" r="3.9" fill="url(#bO)"/>
<text x="103.9" y="114.9" font-size="8.7" font-weight="normal" font-style="normal" fill="#222" text-anchor="start" >O</text>
<circle cx="265.5" cy="112" r="3.6" fill="url(#bSr)"/>
<text x="272.2" y="114.9" font-size="8.7" font-weight="normal" font-style="normal" fill="#222" text-anchor="start" >Sr</text>
<circle cx="299.2" cy="112" r="3.6" fill="url(#bTi)"/>
<text x="304.8" y="114.9" font-size="8.7" font-weight="normal" font-style="normal" fill="#222" text-anchor="start" >Ti</text>
<circle cx="324.2" cy="112" r="3.9" fill="url(#bO)"/>
<text x="330.6" y="114.9" font-size="8.7" font-weight="normal" font-style="normal" fill="#222" text-anchor="start" >O</text>
<line x1="368.2" y1="23.1" x2="682.5" y2="23.1" stroke="#a0a0a0" stroke-width="0.9"/>
<line x1="368.2" y1="101.3" x2="682.5" y2="101.3" stroke="#b0b0b0" stroke-width="0.9"/>
<line x1="682.5" y1="23.1" x2="682.5" y2="101.3" stroke="#b8b8b8" stroke-width="1"/>
<line x1="368.2" y1="23.1" x2="368.2" y2="101.3" stroke="#939393" stroke-width="1"/>
<line x1="390.67" y1="23.1" x2="390.67" y2="101.3" stroke="#939393" stroke-width="1"/>
<line x1="413.14" y1="23.1" x2="413.14" y2="101.3" stroke="#939393" stroke-width="1"/>
<line x1="435.61" y1="23.1" x2="435.61" y2="101.3" stroke="#939393" stroke-width="1"/>
<line x1="458.08" y1="23.1" x2="458.08" y2="101.3" stroke="#939393" stroke-width="1"/>
<line x1="480.55" y1="23.1" x2="480.55" y2="101.3" stroke="#939393" stroke-width="1"/>
<line x1="503.02" y1="23.1" x2="503.02" y2="101.3" stroke="#939393" stroke-width="1"/>
<line x1="525.49" y1="23.1" x2="525.49" y2="101.3" stroke="#939393" stroke-width="1"/>
<line x1="547.96" y1="23.1" x2="547.96" y2="101.3" stroke="#939393" stroke-width="1"/>
<line x1="570.43" y1="23.1" x2="570.43" y2="101.3" stroke="#939393" stroke-width="1"/>
<line x1="592.9" y1="23.1" x2="592.9" y2="101.3" stroke="#939393" stroke-width="1"/>
<line x1="615.37" y1="23.1" x2="615.37" y2="101.3" stroke="#939393" stroke-width="1"/>
<line x1="637.84" y1="23.1" x2="637.84" y2="101.3" stroke="#939393" stroke-width="1"/>
<line x1="660.31" y1="23.1" x2="660.31" y2="101.3" stroke="#939393" stroke-width="1"/>
<path d="M368.2,32.2 L368.71,32.2 L369.87,34.27 L369.13,36.33 L369.16,38.4 L369.88,40.47 L369.39,42.53 L368.71,44.6 L368.2,44.6 Z" fill="#cc77ff" stroke="#7a3a9a" stroke-width="0.45" stroke-linejoin="round"/>
<path d="M368.2,84.3 L368.2,84.3 L370.1,85.6 L373.6,87.4 L377.6,89.6 L377.1,91.4 L376.3,93.1 L377.6,94.4 L379.8,95.7 L378,97.1 L375.4,98.8 L375,101.3 L368.2,101.3 Z" fill="#cc77ff" stroke="#7a3a9a" stroke-width="0.45" stroke-linejoin="round"/>
<path d="M390.67,32.2 L391.18,32.2 L392.34,34.27 L391.6,36.33 L391.63,38.4 L392.35,40.47 L391.86,42.53 L391.18,44.6 L390.67,44.6 Z" fill="#cc77ff" stroke="#7a3a9a" stroke-width="0.45" stroke-linejoin="round"/>
<path d="M390.67,84.3 L390.67,84.3 L392.17,85.6 L395.27,87.8 L398.77,90 L400.07,92.2 L400.97,94.4 L402.67,96.2 L400.47,97.5 L399.57,99.7 L400.07,101.3 L390.67,101.3 Z" fill="#cc77ff" stroke="#7a3a9a" stroke-width="0.45" stroke-linejoin="round"/>
<path d="M413.14,32.2 L413.65,32.2 L414.81,34.27 L414.07,36.33 L414.1,38.4 L414.82,40.47 L414.33,42.53 L413.65,44.6 L413.14,44.6 Z" fill="#cc77ff" stroke="#7a3a9a" stroke-width="0.45" stroke-linejoin="round"/>
<path d="M413.14,84.3 L413.14,84.3 L415.04,86.1 L418.54,87.8 L422.04,89.6 L424.74,91.4 L422.04,93.5 L422.94,96.2 L422.04,99.2 L421.64,101.3 L413.14,101.3 Z" fill="#cc77ff" stroke="#7a3a9a" stroke-width="0.45" stroke-linejoin="round"/>
<path d="M435.61,32.2 L436.12,32.2 L437.28,34.27 L436.54,36.33 L436.57,38.4 L437.29,40.47 L436.8,42.53 L436.12,44.6 L435.61,44.6 Z" fill="#cc77ff" stroke="#7a3a9a" stroke-width="0.45" stroke-linejoin="round"/>
<path d="M435.61,84.3 L435.61,84.3 L437.51,86.1 L441.01,87.8 L444.11,89.2 L445.91,90.5 L445.51,92.7 L444.61,94.4 L445.51,97.1 L444.61,100.1 L444.11,101.3 L435.61,101.3 Z" fill="#cc77ff" stroke="#7a3a9a" stroke-width="0.45" stroke-linejoin="round"/>
<path d="M458.08,32.2 L458.59,32.2 L459.75,34.27 L459.01,36.33 L459.04,38.4 L459.76,40.47 L459.27,42.53 L458.59,44.6 L458.08,44.6 Z" fill="#cc77ff" stroke="#7a3a9a" stroke-width="0.45" stroke-linejoin="round"/>
<path d="M458.08,84.1 L458.08,84.1 L459.98,85.6 L463.48,87 L466.58,88.3 L468.38,90 L467.88,92.2 L466.98,94.4 L467.88,97.1 L466.98,99.7 L465.68,101.3 L458.08,101.3 Z" fill="#cc77ff" stroke="#7a3a9a" stroke-width="0.45" stroke-linejoin="round"/>
<path d="M480.55,32.2 L481.06,32.2 L482.22,34.27 L481.48,36.33 L481.51,38.4 L482.23,40.47 L481.74,42.53 L481.06,44.6 L480.55,44.6 Z" fill="#cc77ff" stroke="#7a3a9a" stroke-width="0.45" stroke-linejoin="round"/>
<path d="M480.55,84.1 L480.55,84.1 L482.45,85.6 L485.95,87 L489.05,88.3 L490.85,90 L489.95,92.7 L490.45,94.9 L489.55,97.5 L489.15,99.7 L488.75,101.3 L480.55,101.3 Z" fill="#cc77ff" stroke="#7a3a9a" stroke-width="0.45" stroke-linejoin="round"/>
<path d="M503.02,32.2 L503.53,32.2 L504.69,34.27 L503.95,36.33 L503.98,38.4 L504.7,40.47 L504.21,42.53 L503.53,44.6 L503.02,44.6 Z" fill="#cc77ff" stroke="#7a3a9a" stroke-width="0.45" stroke-linejoin="round"/>
<path d="M503.02,82.1 L503.02,82.1 L504.32,83.9 L506.52,85.2 L510.02,86.5 L512.62,88.3 L513.32,90.5 L511.82,92.2 L512.62,94.4 L511.82,97.9 L510.02,100.1 L509.12,101.3 L503.02,101.3 Z" fill="#cc77ff" stroke="#7a3a9a" stroke-width="0.45" stroke-linejoin="round"/>
<path d="M525.49,32.2 L526,32.2 L527.16,34.27 L526.42,36.33 L526.45,38.4 L527.17,40.47 L526.68,42.53 L526,44.6 L525.49,44.6 Z" fill="#cc77ff" stroke="#7a3a9a" stroke-width="0.45" stroke-linejoin="round"/>
<path d="M525.49,81.7 L525.49,81.7 L527.29,83.5 L530.29,85.2 L533.79,86.7 L535.49,87.8 L535.29,90.5 L534.59,93.1 L534.29,95.7 L533.79,98.8 L532.49,101.3 L525.49,101.3 Z" fill="#cc77ff" stroke="#7a3a9a" stroke-width="0.45" stroke-linejoin="round"/>
<path d="M547.96,32.2 L548.47,32.2 L549.63,34.27 L548.89,36.33 L548.92,38.4 L549.64,40.47 L549.15,42.53 L548.47,44.6 L547.96,44.6 Z" fill="#cc77ff" stroke="#7a3a9a" stroke-width="0.45" stroke-linejoin="round"/>
<path d="M547.96,81.7 L547.96,81.7 L549.76,83.5 L553.26,84.8 L556.76,86.1 L558.96,87.8 L561.16,90 L559.36,92.2 L557.56,94.4 L559.36,97.1 L556.76,98.8 L554.96,100.6 L554.56,101.3 L547.96,101.3 Z" fill="#cc77ff" stroke="#7a3a9a" stroke-width="0.45" stroke-linejoin="round"/>
<path d="M570.43,30.6 L570.43,30.6 L572.53,32.2 L575.13,33.2 L575.13,34.2 L574.33,35.8 L575.13,37.4 L577.23,38.4 L582.43,40 L588.13,42 L583.43,43.1 L578.23,44.1 L581.33,45.7 L577.73,47.2 L576.13,49.3 L575.63,50.9 L573.03,53 L572.03,55 L572.53,56.1 L570.73,57.6 L570.43,57.6 Z" fill="#ffa055" stroke="#6a4a2a" stroke-width="0.45" stroke-linejoin="round"/>
<path d="M570.43,81.7 L570.43,81.7 L573.33,83.9 L576.33,87 L579.43,89.2 L581.93,92.2 L580.83,94.9 L583.83,97.1 L579.43,98.8 L576.33,100.7 L575.93,101.6 L570.43,101.6 Z" fill="#ffa055" stroke="#6a4a2a" stroke-width="0.45" stroke-linejoin="round"/>
<path d="M592.9,31.1 L592.9,31.1 L595,32.7 L599.1,35.3 L603.3,37.4 L607.9,38.4 L609,39.4 L607.9,40.5 L610.6,41.5 L606.4,42.6 L599.1,44.1 L593.9,45.2 L595,46.2 L601.2,47.2 L598.1,48.3 L597.6,50.4 L598.1,53 L597.1,55 L595,56.6 L593.2,57.3 L592.9,57.3 Z" fill="#ffa055" stroke="#6a4a2a" stroke-width="0.45" stroke-linejoin="round"/>
<path d="M592.9,80.8 L592.9,80.8 L596,83 L599.5,84.8 L596.9,87 L604.7,88.7 L606.9,90 L603.9,93.1 L604.3,94.9 L601.2,97.9 L598.6,100.1 L598.2,101.6 L592.9,101.6 Z" fill="#ffa055" stroke="#6a4a2a" stroke-width="0.45" stroke-linejoin="round"/>
<path d="M615.37,31.1 L615.37,31.1 L617.77,32.2 L623.47,34.8 L628.67,36.8 L631.27,38.4 L630.17,40 L624.47,42.6 L619.37,44.1 L621.37,44.8 L626.57,46.5 L623.47,47.8 L618.27,48.8 L616.17,50.4 L617.77,51.7 L620.87,53.5 L618.77,55 L616.77,56.6 L615.67,57.3 L615.37,57.3 Z" fill="#ffa055" stroke="#6a4a2a" stroke-width="0.45" stroke-linejoin="round"/>
<path d="M615.37,79.5 L615.37,79.5 L618.67,81.3 L620.07,83.9 L622.17,86.5 L626.57,87.8 L626.17,90.5 L627.87,92.2 L630.57,94 L627.07,95.1 L622.17,96.6 L620.87,99.2 L621.77,101.6 L615.37,101.6 Z" fill="#ffa055" stroke="#6a4a2a" stroke-width="0.45" stroke-linejoin="round"/>
<path d="M637.84,31.1 L637.84,31.1 L640.94,32.2 L643.04,33.7 L644.64,35.3 L648.24,36.3 L654.44,37.9 L656.54,38.7 L653.44,39.6 L644.04,41.3 L639.94,43.6 L640.94,44.6 L646.14,46.5 L644.04,47.8 L640.44,48.8 L640.94,50.4 L642.54,53 L642.04,55 L639.44,56.6 L638.14,57.3 L637.84,57.3 Z" fill="#ffa055" stroke="#6a4a2a" stroke-width="0.45" stroke-linejoin="round"/>
<path d="M637.84,79.3 L637.84,79.3 L640.74,80.4 L644.64,82.3 L642.04,84.3 L642.94,86.5 L648.64,88.3 L648.24,91.4 L651.34,94 L647.74,95.3 L643.34,97.1 L642.44,101.6 L637.84,101.6 Z" fill="#ffa055" stroke="#6a4a2a" stroke-width="0.45" stroke-linejoin="round"/>
<path d="M660.31,31.1 L660.31,31.1 L662.91,31.6 L667.11,32.7 L671.21,34.2 L672.31,35.8 L674.81,37.4 L675.91,38.9 L673.31,40 L665.01,42.6 L662.41,43.6 L665.01,44.6 L668.61,45.9 L666.01,46.9 L662.41,48.3 L661.91,49.8 L663.41,51.4 L662.41,53.5 L661.31,55.5 L660.61,57.1 L660.31,57.1 Z" fill="#ffa055" stroke="#6a4a2a" stroke-width="0.45" stroke-linejoin="round"/>
<path d="M660.31,79.3 L660.31,79.3 L662.21,80.4 L669.31,81.7 L674.51,83 L677.11,84.8 L673.61,86.4 L666.21,87.8 L665.71,89.2 L671.01,90 L673.61,90.9 L670.11,93.5 L667.01,95.7 L666.21,97.1 L666.61,98.4 L664.41,100.1 L664.01,101.6 L660.31,101.6 Z" fill="#ffa055" stroke="#6a4a2a" stroke-width="0.45" stroke-linejoin="round"/>
<line x1="366.9" y1="28.69" x2="369.5" y2="28.69" stroke="#8e8e8e" stroke-width="0.75"/>
<line x1="365.8" y1="34.27" x2="370.6" y2="34.27" stroke="#7c7c7c" stroke-width="0.75"/>
<line x1="366.9" y1="39.86" x2="369.5" y2="39.86" stroke="#8e8e8e" stroke-width="0.75"/>
<line x1="365.8" y1="45.44" x2="370.6" y2="45.44" stroke="#7c7c7c" stroke-width="0.75"/>
<line x1="366.9" y1="51.03" x2="369.5" y2="51.03" stroke="#8e8e8e" stroke-width="0.75"/>
<line x1="365.8" y1="56.61" x2="370.6" y2="56.61" stroke="#7c7c7c" stroke-width="0.75"/>
<line x1="366.9" y1="62.2" x2="369.5" y2="62.2" stroke="#8e8e8e" stroke-width="0.75"/>
<line x1="365.8" y1="67.79" x2="370.6" y2="67.79" stroke="#7c7c7c" stroke-width="0.75"/>
<line x1="366.9" y1="73.37" x2="369.5" y2="73.37" stroke="#8e8e8e" stroke-width="0.75"/>
<line x1="365.8" y1="78.96" x2="370.6" y2="78.96" stroke="#7c7c7c" stroke-width="0.75"/>
<line x1="366.9" y1="84.54" x2="369.5" y2="84.54" stroke="#8e8e8e" stroke-width="0.75"/>
<line x1="365.8" y1="90.13" x2="370.6" y2="90.13" stroke="#7c7c7c" stroke-width="0.75"/>
<line x1="366.9" y1="95.71" x2="369.5" y2="95.71" stroke="#8e8e8e" stroke-width="0.75"/>
<line x1="389.37" y1="28.69" x2="391.97" y2="28.69" stroke="#8e8e8e" stroke-width="0.75"/>
<line x1="388.27" y1="34.27" x2="393.07" y2="34.27" stroke="#7c7c7c" stroke-width="0.75"/>
<line x1="389.37" y1="39.86" x2="391.97" y2="39.86" stroke="#8e8e8e" stroke-width="0.75"/>
<line x1="388.27" y1="45.44" x2="393.07" y2="45.44" stroke="#7c7c7c" stroke-width="0.75"/>
<line x1="389.37" y1="51.03" x2="391.97" y2="51.03" stroke="#8e8e8e" stroke-width="0.75"/>
<line x1="388.27" y1="56.61" x2="393.07" y2="56.61" stroke="#7c7c7c" stroke-width="0.75"/>
<line x1="389.37" y1="62.2" x2="391.97" y2="62.2" stroke="#8e8e8e" stroke-width="0.75"/>
<line x1="388.27" y1="67.79" x2="393.07" y2="67.79" stroke="#7c7c7c" stroke-width="0.75"/>
<line x1="389.37" y1="73.37" x2="391.97" y2="73.37" stroke="#8e8e8e" stroke-width="0.75"/>
<line x1="388.27" y1="78.96" x2="393.07" y2="78.96" stroke="#7c7c7c" stroke-width="0.75"/>
<line x1="389.37" y1="84.54" x2="391.97" y2="84.54" stroke="#8e8e8e" stroke-width="0.75"/>
<line x1="388.27" y1="90.13" x2="393.07" y2="90.13" stroke="#7c7c7c" stroke-width="0.75"/>
<line x1="389.37" y1="95.71" x2="391.97" y2="95.71" stroke="#8e8e8e" stroke-width="0.75"/>
<line x1="411.84" y1="28.69" x2="414.44" y2="28.69" stroke="#8e8e8e" stroke-width="0.75"/>
<line x1="410.74" y1="34.27" x2="415.54" y2="34.27" stroke="#7c7c7c" stroke-width="0.75"/>
<line x1="411.84" y1="39.86" x2="414.44" y2="39.86" stroke="#8e8e8e" stroke-width="0.75"/>
<line x1="410.74" y1="45.44" x2="415.54" y2="45.44" stroke="#7c7c7c" stroke-width="0.75"/>
<line x1="411.84" y1="51.03" x2="414.44" y2="51.03" stroke="#8e8e8e" stroke-width="0.75"/>
<line x1="410.74" y1="56.61" x2="415.54" y2="56.61" stroke="#7c7c7c" stroke-width="0.75"/>
<line x1="411.84" y1="62.2" x2="414.44" y2="62.2" stroke="#8e8e8e" stroke-width="0.75"/>
<line x1="410.74" y1="67.79" x2="415.54" y2="67.79" stroke="#7c7c7c" stroke-width="0.75"/>
<line x1="411.84" y1="73.37" x2="414.44" y2="73.37" stroke="#8e8e8e" stroke-width="0.75"/>
<line x1="410.74" y1="78.96" x2="415.54" y2="78.96" stroke="#7c7c7c" stroke-width="0.75"/>
<line x1="411.84" y1="84.54" x2="414.44" y2="84.54" stroke="#8e8e8e" stroke-width="0.75"/>
<line x1="410.74" y1="90.13" x2="415.54" y2="90.13" stroke="#7c7c7c" stroke-width="0.75"/>
<line x1="411.84" y1="95.71" x2="414.44" y2="95.71" stroke="#8e8e8e" stroke-width="0.75"/>
<line x1="434.31" y1="28.69" x2="436.91" y2="28.69" stroke="#8e8e8e" stroke-width="0.75"/>
<line x1="433.21" y1="34.27" x2="438.01" y2="34.27" stroke="#7c7c7c" stroke-width="0.75"/>
<line x1="434.31" y1="39.86" x2="436.91" y2="39.86" stroke="#8e8e8e" stroke-width="0.75"/>
<line x1="433.21" y1="45.44" x2="438.01" y2="45.44" stroke="#7c7c7c" stroke-width="0.75"/>
<line x1="434.31" y1="51.03" x2="436.91" y2="51.03" stroke="#8e8e8e" stroke-width="0.75"/>
<line x1="433.21" y1="56.61" x2="438.01" y2="56.61" stroke="#7c7c7c" stroke-width="0.75"/>
<line x1="434.31" y1="62.2" x2="436.91" y2="62.2" stroke="#8e8e8e" stroke-width="0.75"/>
<line x1="433.21" y1="67.79" x2="438.01" y2="67.79" stroke="#7c7c7c" stroke-width="0.75"/>
<line x1="434.31" y1="73.37" x2="436.91" y2="73.37" stroke="#8e8e8e" stroke-width="0.75"/>
<line x1="433.21" y1="78.96" x2="438.01" y2="78.96" stroke="#7c7c7c" stroke-width="0.75"/>
<line x1="434.31" y1="84.54" x2="436.91" y2="84.54" stroke="#8e8e8e" stroke-width="0.75"/>
<line x1="433.21" y1="90.13" x2="438.01" y2="90.13" stroke="#7c7c7c" stroke-width="0.75"/>
<line x1="434.31" y1="95.71" x2="436.91" y2="95.71" stroke="#8e8e8e" stroke-width="0.75"/>
<line x1="456.78" y1="28.69" x2="459.38" y2="28.69" stroke="#8e8e8e" stroke-width="0.75"/>
<line x1="455.68" y1="34.27" x2="460.48" y2="34.27" stroke="#7c7c7c" stroke-width="0.75"/>
<line x1="456.78" y1="39.86" x2="459.38" y2="39.86" stroke="#8e8e8e" stroke-width="0.75"/>
<line x1="455.68" y1="45.44" x2="460.48" y2="45.44" stroke="#7c7c7c" stroke-width="0.75"/>
<line x1="456.78" y1="51.03" x2="459.38" y2="51.03" stroke="#8e8e8e" stroke-width="0.75"/>
<line x1="455.68" y1="56.61" x2="460.48" y2="56.61" stroke="#7c7c7c" stroke-width="0.75"/>
<line x1="456.78" y1="62.2" x2="459.38" y2="62.2" stroke="#8e8e8e" stroke-width="0.75"/>
<line x1="455.68" y1="67.79" x2="460.48" y2="67.79" stroke="#7c7c7c" stroke-width="0.75"/>
<line x1="456.78" y1="73.37" x2="459.38" y2="73.37" stroke="#8e8e8e" stroke-width="0.75"/>
<line x1="455.68" y1="78.96" x2="460.48" y2="78.96" stroke="#7c7c7c" stroke-width="0.75"/>
<line x1="456.78" y1="84.54" x2="459.38" y2="84.54" stroke="#8e8e8e" stroke-width="0.75"/>
<line x1="455.68" y1="90.13" x2="460.48" y2="90.13" stroke="#7c7c7c" stroke-width="0.75"/>
<line x1="456.78" y1="95.71" x2="459.38" y2="95.71" stroke="#8e8e8e" stroke-width="0.75"/>
<line x1="479.25" y1="28.69" x2="481.85" y2="28.69" stroke="#8e8e8e" stroke-width="0.75"/>
<line x1="478.15" y1="34.27" x2="482.95" y2="34.27" stroke="#7c7c7c" stroke-width="0.75"/>
<line x1="479.25" y1="39.86" x2="481.85" y2="39.86" stroke="#8e8e8e" stroke-width="0.75"/>
<line x1="478.15" y1="45.44" x2="482.95" y2="45.44" stroke="#7c7c7c" stroke-width="0.75"/>
<line x1="479.25" y1="51.03" x2="481.85" y2="51.03" stroke="#8e8e8e" stroke-width="0.75"/>
<line x1="478.15" y1="56.61" x2="482.95" y2="56.61" stroke="#7c7c7c" stroke-width="0.75"/>
<line x1="479.25" y1="62.2" x2="481.85" y2="62.2" stroke="#8e8e8e" stroke-width="0.75"/>
<line x1="478.15" y1="67.79" x2="482.95" y2="67.79" stroke="#7c7c7c" stroke-width="0.75"/>
<line x1="479.25" y1="73.37" x2="481.85" y2="73.37" stroke="#8e8e8e" stroke-width="0.75"/>
<line x1="478.15" y1="78.96" x2="482.95" y2="78.96" stroke="#7c7c7c" stroke-width="0.75"/>
<line x1="479.25" y1="84.54" x2="481.85" y2="84.54" stroke="#8e8e8e" stroke-width="0.75"/>
<line x1="478.15" y1="90.13" x2="482.95" y2="90.13" stroke="#7c7c7c" stroke-width="0.75"/>
<line x1="479.25" y1="95.71" x2="481.85" y2="95.71" stroke="#8e8e8e" stroke-width="0.75"/>
<line x1="501.72" y1="28.69" x2="504.32" y2="28.69" stroke="#8e8e8e" stroke-width="0.75"/>
<line x1="500.62" y1="34.27" x2="505.42" y2="34.27" stroke="#7c7c7c" stroke-width="0.75"/>
<line x1="501.72" y1="39.86" x2="504.32" y2="39.86" stroke="#8e8e8e" stroke-width="0.75"/>
<line x1="500.62" y1="45.44" x2="505.42" y2="45.44" stroke="#7c7c7c" stroke-width="0.75"/>
<line x1="501.72" y1="51.03" x2="504.32" y2="51.03" stroke="#8e8e8e" stroke-width="0.75"/>
<line x1="500.62" y1="56.61" x2="505.42" y2="56.61" stroke="#7c7c7c" stroke-width="0.75"/>
<line x1="501.72" y1="62.2" x2="504.32" y2="62.2" stroke="#8e8e8e" stroke-width="0.75"/>
<line x1="500.62" y1="67.79" x2="505.42" y2="67.79" stroke="#7c7c7c" stroke-width="0.75"/>
<line x1="501.72" y1="73.37" x2="504.32" y2="73.37" stroke="#8e8e8e" stroke-width="0.75"/>
<line x1="500.62" y1="78.96" x2="505.42" y2="78.96" stroke="#7c7c7c" stroke-width="0.75"/>
<line x1="501.72" y1="84.54" x2="504.32" y2="84.54" stroke="#8e8e8e" stroke-width="0.75"/>
<line x1="500.62" y1="90.13" x2="505.42" y2="90.13" stroke="#7c7c7c" stroke-width="0.75"/>
<line x1="501.72" y1="95.71" x2="504.32" y2="95.71" stroke="#8e8e8e" stroke-width="0.75"/>
<line x1="524.19" y1="28.69" x2="526.79" y2="28.69" stroke="#8e8e8e" stroke-width="0.75"/>
<line x1="523.09" y1="34.27" x2="527.89" y2="34.27" stroke="#7c7c7c" stroke-width="0.75"/>
<line x1="524.19" y1="39.86" x2="526.79" y2="39.86" stroke="#8e8e8e" stroke-width="0.75"/>
<line x1="523.09" y1="45.44" x2="527.89" y2="45.44" stroke="#7c7c7c" stroke-width="0.75"/>
<line x1="524.19" y1="51.03" x2="526.79" y2="51.03" stroke="#8e8e8e" stroke-width="0.75"/>
<line x1="523.09" y1="56.61" x2="527.89" y2="56.61" stroke="#7c7c7c" stroke-width="0.75"/>
<line x1="524.19" y1="62.2" x2="526.79" y2="62.2" stroke="#8e8e8e" stroke-width="0.75"/>
<line x1="523.09" y1="67.79" x2="527.89" y2="67.79" stroke="#7c7c7c" stroke-width="0.75"/>
<line x1="524.19" y1="73.37" x2="526.79" y2="73.37" stroke="#8e8e8e" stroke-width="0.75"/>
<line x1="523.09" y1="78.96" x2="527.89" y2="78.96" stroke="#7c7c7c" stroke-width="0.75"/>
<line x1="524.19" y1="84.54" x2="526.79" y2="84.54" stroke="#8e8e8e" stroke-width="0.75"/>
<line x1="523.09" y1="90.13" x2="527.89" y2="90.13" stroke="#7c7c7c" stroke-width="0.75"/>
<line x1="524.19" y1="95.71" x2="526.79" y2="95.71" stroke="#8e8e8e" stroke-width="0.75"/>
<line x1="546.66" y1="28.69" x2="549.26" y2="28.69" stroke="#8e8e8e" stroke-width="0.75"/>
<line x1="545.56" y1="34.27" x2="550.36" y2="34.27" stroke="#7c7c7c" stroke-width="0.75"/>
<line x1="546.66" y1="39.86" x2="549.26" y2="39.86" stroke="#8e8e8e" stroke-width="0.75"/>
<line x1="545.56" y1="45.44" x2="550.36" y2="45.44" stroke="#7c7c7c" stroke-width="0.75"/>
<line x1="546.66" y1="51.03" x2="549.26" y2="51.03" stroke="#8e8e8e" stroke-width="0.75"/>
<line x1="545.56" y1="56.61" x2="550.36" y2="56.61" stroke="#7c7c7c" stroke-width="0.75"/>
<line x1="546.66" y1="62.2" x2="549.26" y2="62.2" stroke="#8e8e8e" stroke-width="0.75"/>
<line x1="545.56" y1="67.79" x2="550.36" y2="67.79" stroke="#7c7c7c" stroke-width="0.75"/>
<line x1="546.66" y1="73.37" x2="549.26" y2="73.37" stroke="#8e8e8e" stroke-width="0.75"/>
<line x1="545.56" y1="78.96" x2="550.36" y2="78.96" stroke="#7c7c7c" stroke-width="0.75"/>
<line x1="546.66" y1="84.54" x2="549.26" y2="84.54" stroke="#8e8e8e" stroke-width="0.75"/>
<line x1="545.56" y1="90.13" x2="550.36" y2="90.13" stroke="#7c7c7c" stroke-width="0.75"/>
<line x1="546.66" y1="95.71" x2="549.26" y2="95.71" stroke="#8e8e8e" stroke-width="0.75"/>
<line x1="569.13" y1="28.69" x2="571.73" y2="28.69" stroke="#8e8e8e" stroke-width="0.75"/>
<line x1="568.03" y1="34.27" x2="572.83" y2="34.27" stroke="#7c7c7c" stroke-width="0.75"/>
<line x1="569.13" y1="39.86" x2="571.73" y2="39.86" stroke="#8e8e8e" stroke-width="0.75"/>
<line x1="568.03" y1="45.44" x2="572.83" y2="45.44" stroke="#7c7c7c" stroke-width="0.75"/>
<line x1="569.13" y1="51.03" x2="571.73" y2="51.03" stroke="#8e8e8e" stroke-width="0.75"/>
<line x1="568.03" y1="56.61" x2="572.83" y2="56.61" stroke="#7c7c7c" stroke-width="0.75"/>
<line x1="569.13" y1="62.2" x2="571.73" y2="62.2" stroke="#8e8e8e" stroke-width="0.75"/>
<line x1="568.03" y1="67.79" x2="572.83" y2="67.79" stroke="#7c7c7c" stroke-width="0.75"/>
<line x1="569.13" y1="73.37" x2="571.73" y2="73.37" stroke="#8e8e8e" stroke-width="0.75"/>
<line x1="568.03" y1="78.96" x2="572.83" y2="78.96" stroke="#7c7c7c" stroke-width="0.75"/>
<line x1="569.13" y1="84.54" x2="571.73" y2="84.54" stroke="#8e8e8e" stroke-width="0.75"/>
<line x1="568.03" y1="90.13" x2="572.83" y2="90.13" stroke="#7c7c7c" stroke-width="0.75"/>
<line x1="569.13" y1="95.71" x2="571.73" y2="95.71" stroke="#8e8e8e" stroke-width="0.75"/>
<line x1="591.6" y1="28.69" x2="594.2" y2="28.69" stroke="#8e8e8e" stroke-width="0.75"/>
<line x1="590.5" y1="34.27" x2="595.3" y2="34.27" stroke="#7c7c7c" stroke-width="0.75"/>
<line x1="591.6" y1="39.86" x2="594.2" y2="39.86" stroke="#8e8e8e" stroke-width="0.75"/>
<line x1="590.5" y1="45.44" x2="595.3" y2="45.44" stroke="#7c7c7c" stroke-width="0.75"/>
<line x1="591.6" y1="51.03" x2="594.2" y2="51.03" stroke="#8e8e8e" stroke-width="0.75"/>
<line x1="590.5" y1="56.61" x2="595.3" y2="56.61" stroke="#7c7c7c" stroke-width="0.75"/>
<line x1="591.6" y1="62.2" x2="594.2" y2="62.2" stroke="#8e8e8e" stroke-width="0.75"/>
<line x1="590.5" y1="67.79" x2="595.3" y2="67.79" stroke="#7c7c7c" stroke-width="0.75"/>
<line x1="591.6" y1="73.37" x2="594.2" y2="73.37" stroke="#8e8e8e" stroke-width="0.75"/>
<line x1="590.5" y1="78.96" x2="595.3" y2="78.96" stroke="#7c7c7c" stroke-width="0.75"/>
<line x1="591.6" y1="84.54" x2="594.2" y2="84.54" stroke="#8e8e8e" stroke-width="0.75"/>
<line x1="590.5" y1="90.13" x2="595.3" y2="90.13" stroke="#7c7c7c" stroke-width="0.75"/>
<line x1="591.6" y1="95.71" x2="594.2" y2="95.71" stroke="#8e8e8e" stroke-width="0.75"/>
<line x1="614.07" y1="28.69" x2="616.67" y2="28.69" stroke="#8e8e8e" stroke-width="0.75"/>
<line x1="612.97" y1="34.27" x2="617.77" y2="34.27" stroke="#7c7c7c" stroke-width="0.75"/>
<line x1="614.07" y1="39.86" x2="616.67" y2="39.86" stroke="#8e8e8e" stroke-width="0.75"/>
<line x1="612.97" y1="45.44" x2="617.77" y2="45.44" stroke="#7c7c7c" stroke-width="0.75"/>
<line x1="614.07" y1="51.03" x2="616.67" y2="51.03" stroke="#8e8e8e" stroke-width="0.75"/>
<line x1="612.97" y1="56.61" x2="617.77" y2="56.61" stroke="#7c7c7c" stroke-width="0.75"/>
<line x1="614.07" y1="62.2" x2="616.67" y2="62.2" stroke="#8e8e8e" stroke-width="0.75"/>
<line x1="612.97" y1="67.79" x2="617.77" y2="67.79" stroke="#7c7c7c" stroke-width="0.75"/>
<line x1="614.07" y1="73.37" x2="616.67" y2="73.37" stroke="#8e8e8e" stroke-width="0.75"/>
<line x1="612.97" y1="78.96" x2="617.77" y2="78.96" stroke="#7c7c7c" stroke-width="0.75"/>
<line x1="614.07" y1="84.54" x2="616.67" y2="84.54" stroke="#8e8e8e" stroke-width="0.75"/>
<line x1="612.97" y1="90.13" x2="617.77" y2="90.13" stroke="#7c7c7c" stroke-width="0.75"/>
<line x1="614.07" y1="95.71" x2="616.67" y2="95.71" stroke="#8e8e8e" stroke-width="0.75"/>
<line x1="636.54" y1="28.69" x2="639.14" y2="28.69" stroke="#8e8e8e" stroke-width="0.75"/>
<line x1="635.44" y1="34.27" x2="640.24" y2="34.27" stroke="#7c7c7c" stroke-width="0.75"/>
<line x1="636.54" y1="39.86" x2="639.14" y2="39.86" stroke="#8e8e8e" stroke-width="0.75"/>
<line x1="635.44" y1="45.44" x2="640.24" y2="45.44" stroke="#7c7c7c" stroke-width="0.75"/>
<line x1="636.54" y1="51.03" x2="639.14" y2="51.03" stroke="#8e8e8e" stroke-width="0.75"/>
<line x1="635.44" y1="56.61" x2="640.24" y2="56.61" stroke="#7c7c7c" stroke-width="0.75"/>
<line x1="636.54" y1="62.2" x2="639.14" y2="62.2" stroke="#8e8e8e" stroke-width="0.75"/>
<line x1="635.44" y1="67.79" x2="640.24" y2="67.79" stroke="#7c7c7c" stroke-width="0.75"/>
<line x1="636.54" y1="73.37" x2="639.14" y2="73.37" stroke="#8e8e8e" stroke-width="0.75"/>
<line x1="635.44" y1="78.96" x2="640.24" y2="78.96" stroke="#7c7c7c" stroke-width="0.75"/>
<line x1="636.54" y1="84.54" x2="639.14" y2="84.54" stroke="#8e8e8e" stroke-width="0.75"/>
<line x1="635.44" y1="90.13" x2="640.24" y2="90.13" stroke="#7c7c7c" stroke-width="0.75"/>
<line x1="636.54" y1="95.71" x2="639.14" y2="95.71" stroke="#8e8e8e" stroke-width="0.75"/>
<line x1="659.01" y1="28.69" x2="661.61" y2="28.69" stroke="#8e8e8e" stroke-width="0.75"/>
<line x1="657.91" y1="34.27" x2="662.71" y2="34.27" stroke="#7c7c7c" stroke-width="0.75"/>
<line x1="659.01" y1="39.86" x2="661.61" y2="39.86" stroke="#8e8e8e" stroke-width="0.75"/>
<line x1="657.91" y1="45.44" x2="662.71" y2="45.44" stroke="#7c7c7c" stroke-width="0.75"/>
<line x1="659.01" y1="51.03" x2="661.61" y2="51.03" stroke="#8e8e8e" stroke-width="0.75"/>
<line x1="657.91" y1="56.61" x2="662.71" y2="56.61" stroke="#7c7c7c" stroke-width="0.75"/>
<line x1="659.01" y1="62.2" x2="661.61" y2="62.2" stroke="#8e8e8e" stroke-width="0.75"/>
<line x1="657.91" y1="67.79" x2="662.71" y2="67.79" stroke="#7c7c7c" stroke-width="0.75"/>
<line x1="659.01" y1="73.37" x2="661.61" y2="73.37" stroke="#8e8e8e" stroke-width="0.75"/>
<line x1="657.91" y1="78.96" x2="662.71" y2="78.96" stroke="#7c7c7c" stroke-width="0.75"/>
<line x1="659.01" y1="84.54" x2="661.61" y2="84.54" stroke="#8e8e8e" stroke-width="0.75"/>
<line x1="657.91" y1="90.13" x2="662.71" y2="90.13" stroke="#7c7c7c" stroke-width="0.75"/>
<line x1="659.01" y1="95.71" x2="661.61" y2="95.71" stroke="#8e8e8e" stroke-width="0.75"/>
<line x1="681.2" y1="28.69" x2="683.8" y2="28.69" stroke="#8e8e8e" stroke-width="0.75"/>
<line x1="680.1" y1="34.27" x2="684.9" y2="34.27" stroke="#7c7c7c" stroke-width="0.75"/>
<line x1="681.2" y1="39.86" x2="683.8" y2="39.86" stroke="#8e8e8e" stroke-width="0.75"/>
<line x1="680.1" y1="45.44" x2="684.9" y2="45.44" stroke="#7c7c7c" stroke-width="0.75"/>
<line x1="681.2" y1="51.03" x2="683.8" y2="51.03" stroke="#8e8e8e" stroke-width="0.75"/>
<line x1="680.1" y1="56.61" x2="684.9" y2="56.61" stroke="#7c7c7c" stroke-width="0.75"/>
<line x1="681.2" y1="62.2" x2="683.8" y2="62.2" stroke="#8e8e8e" stroke-width="0.75"/>
<line x1="680.1" y1="67.79" x2="684.9" y2="67.79" stroke="#7c7c7c" stroke-width="0.75"/>
<line x1="681.2" y1="73.37" x2="683.8" y2="73.37" stroke="#8e8e8e" stroke-width="0.75"/>
<line x1="680.1" y1="78.96" x2="684.9" y2="78.96" stroke="#7c7c7c" stroke-width="0.75"/>
<line x1="681.2" y1="84.54" x2="683.8" y2="84.54" stroke="#8e8e8e" stroke-width="0.75"/>
<line x1="680.1" y1="90.13" x2="684.9" y2="90.13" stroke="#7c7c7c" stroke-width="0.75"/>
<line x1="681.2" y1="95.71" x2="683.8" y2="95.71" stroke="#8e8e8e" stroke-width="0.75"/>
<path d="M368.2,48.4 L368.2,48.4 L369.4,49.6 L369.9,50.8 L369.4,52 L368.2,53.2 L368.2,53.2 Z" fill="#cc77ff" stroke="#7a3a9a" stroke-width="0.45" stroke-linejoin="round"/>
<line x1="555.9" y1="58.9" x2="649.2" y2="58.9" stroke="#f5ef78" stroke-width="2.1" opacity="0.8"/>
<line x1="368.2" y1="57.3" x2="665.5" y2="57.3" stroke="#7a7a7a" stroke-width="0.8" stroke-dasharray="2.6,2"/>
<line x1="368.2" y1="80.2" x2="546.5" y2="80.2" stroke="#222" stroke-width="0.9" stroke-dasharray="2.6,1.6"/>
<text x="366.3" y="26.2" font-size="8.6" font-weight="normal" font-style="normal" fill="#222" text-anchor="end" >3</text>
<text x="366.3" y="37.37" font-size="8.6" font-weight="normal" font-style="normal" fill="#222" text-anchor="end" >2</text>
<text x="366.3" y="48.54" font-size="8.6" font-weight="normal" font-style="normal" fill="#222" text-anchor="end" >1</text>
<text x="366.3" y="59.71" font-size="8.6" font-weight="normal" font-style="normal" fill="#222" text-anchor="end" >0</text>
<text x="366.3" y="70.89" font-size="8.6" font-weight="normal" font-style="normal" fill="#222" text-anchor="end" >-1</text>
<text x="366.3" y="82.06" font-size="8.6" font-weight="normal" font-style="normal" fill="#222" text-anchor="end" >-2</text>
<text x="366.3" y="93.23" font-size="8.6" font-weight="normal" font-style="normal" fill="#222" text-anchor="end" >-3</text>
<text x="366.3" y="104.4" font-size="8.6" font-weight="normal" font-style="normal" fill="#222" text-anchor="end" >-4</text>
<text transform="translate(461.6,18.8) scale(0.91,1)" font-size="12.3" fill="#222">LaAlO<tspan font-size="9" dy="3">3</tspan></text>
<text transform="translate(602.3,18.8) scale(0.94,1)" font-size="12.3" fill="#222">SrTiO<tspan font-size="9" dy="3">3</tspan></text>
<text transform="translate(605.6,70.8) scale(0.96,1)" font-size="9" font-weight="bold" fill="#ff1a1a">0.42 e/a<tspan font-size="6.6" font-weight="normal" dx="0.3" dy="-2.4">2</tspan></text>
<rect x="567.6" y="156.2" width="98.6" height="8.2" rx="3.5" fill="url(#yb)"/>
<line x1="369.45" y1="125" x2="683.6" y2="125" stroke="#a0a0a0" stroke-width="0.9"/>
<line x1="369.45" y1="203.2" x2="683.6" y2="203.2" stroke="#b0b0b0" stroke-width="0.9"/>
<line x1="683.6" y1="125" x2="683.6" y2="203.2" stroke="#b8b8b8" stroke-width="1"/>
<line x1="369.45" y1="125" x2="369.45" y2="203.2" stroke="#939393" stroke-width="1"/>
<line x1="391.92" y1="125" x2="391.92" y2="203.2" stroke="#939393" stroke-width="1"/>
<line x1="414.39" y1="125" x2="414.39" y2="203.2" stroke="#939393" stroke-width="1"/>
<line x1="436.86" y1="125" x2="436.86" y2="203.2" stroke="#939393" stroke-width="1"/>
<line x1="459.33" y1="125" x2="459.33" y2="203.2" stroke="#939393" stroke-width="1"/>
<line x1="481.8" y1="125" x2="481.8" y2="203.2" stroke="#939393" stroke-width="1"/>
<line x1="504.27" y1="125" x2="504.27" y2="203.2" stroke="#939393" stroke-width="1"/>
<line x1="526.74" y1="125" x2="526.74" y2="203.2" stroke="#939393" stroke-width="1"/>
<line x1="549.21" y1="125" x2="549.21" y2="203.2" stroke="#939393" stroke-width="1"/>
<line x1="571.68" y1="125" x2="571.68" y2="203.2" stroke="#939393" stroke-width="1"/>
<line x1="594.15" y1="125" x2="594.15" y2="203.2" stroke="#939393" stroke-width="1"/>
<line x1="616.62" y1="125" x2="616.62" y2="203.2" stroke="#939393" stroke-width="1"/>
<line x1="639.09" y1="125" x2="639.09" y2="203.2" stroke="#939393" stroke-width="1"/>
<line x1="661.56" y1="125" x2="661.56" y2="203.2" stroke="#939393" stroke-width="1"/>
<path d="M369.45,125 L369.45,125 L369.45,125.1 L369.45,125.1 Z" fill="#cc77ff" stroke="#7a3a9a" stroke-width="0.45" stroke-linejoin="round"/>
<path d="M369.45,157.9 L369.45,157.9 L372.35,158.6 L375.65,160.7 L378.55,162.3 L377.55,164.8 L379.25,168 L377.25,170.4 L377.55,173.7 L376.45,176.1 L377.55,178.6 L376.45,181 L377.25,183.5 L375.95,185.9 L376.45,188.3 L375.35,190.8 L374.85,193.2 L374.05,195.7 L373.65,199.7 L374.05,203.2 L369.45,203.2 Z" fill="#cc77ff" stroke="#7a3a9a" stroke-width="0.45" stroke-linejoin="round"/>
<path d="M391.92,125 L391.92,125 L391.92,125.1 L391.92,125.1 Z" fill="#cc77ff" stroke="#7a3a9a" stroke-width="0.45" stroke-linejoin="round"/>
<path d="M391.92,160.7 L391.92,160.7 L393.02,162.3 L393.92,163.9 L398.72,165.6 L402.82,167.2 L403.92,169.6 L401.22,172.1 L401.22,175.3 L399.52,177.8 L400.72,181 L399.52,184.3 L400.72,186.7 L402.82,189.1 L399.52,192.4 L397.92,195.7 L396.32,198.9 L397.12,203.2 L391.92,203.2 Z" fill="#cc77ff" stroke="#7a3a9a" stroke-width="0.45" stroke-linejoin="round"/>
<path d="M414.39,125 L415.89,125 L415.39,127 L414.39,128.5 L414.39,128.5 Z" fill="#cc77ff" stroke="#7a3a9a" stroke-width="0.45" stroke-linejoin="round"/>
<path d="M414.39,163.1 L414.39,163.1 L418.49,165.6 L422.49,167.2 L423.79,169.6 L424.19,172.9 L422.49,175.3 L422.89,178.6 L421.19,182.6 L422.89,185.9 L422.49,188.3 L424.99,190.8 L427.39,192.7 L423.29,194.8 L420.09,197.3 L418.49,200.5 L418.99,203.2 L414.39,203.2 Z" fill="#cc77ff" stroke="#7a3a9a" stroke-width="0.45" stroke-linejoin="round"/>
<path d="M436.86,125 L438.66,125 L437.86,128 L436.86,130 L436.86,130 Z" fill="#cc77ff" stroke="#7a3a9a" stroke-width="0.45" stroke-linejoin="round"/>
<path d="M436.86,165.8 L436.86,165.8 L440.06,168 L444.46,170.5 L447.66,172.4 L447.06,176.1 L445.86,179.7 L446.66,181.9 L444.76,184.8 L445.66,187.7 L444.76,190.7 L446.66,192.8 L449.56,195.5 L445.86,197.2 L442.26,199.4 L441.56,203.2 L436.86,203.2 Z" fill="#cc77ff" stroke="#7a3a9a" stroke-width="0.45" stroke-linejoin="round"/>
<path d="M459.33,125 L459.75,125 L460.71,126.42 L460.1,127.83 L460.12,129.25 L460.72,130.67 L460.31,132.08 L459.75,133.5 L459.33,133.5 Z" fill="#cc77ff" stroke="#7a3a9a" stroke-width="0.45" stroke-linejoin="round"/>
<path d="M459.33,169.1 L459.33,169.1 L462.23,171.7 L466.63,173.4 L470.03,174.9 L468.83,178.2 L468.13,181.9 L468.53,184.8 L467.03,187.7 L467.63,191.4 L468.83,195 L472.43,198.2 L469.53,200.1 L467.33,202.3 L467.33,203.2 L459.33,203.2 Z" fill="#cc77ff" stroke="#7a3a9a" stroke-width="0.45" stroke-linejoin="round"/>
<path d="M481.8,125 L482.22,125 L483.18,126.73 L482.57,128.47 L482.59,130.2 L483.19,131.93 L482.78,133.67 L482.22,135.4 L481.8,135.4 Z" fill="#cc77ff" stroke="#7a3a9a" stroke-width="0.45" stroke-linejoin="round"/>
<path d="M481.8,172.1 L481.8,172.1 L484.4,174.7 L488.3,177.3 L492.2,178.6 L492.8,181.2 L491.5,184.5 L492.2,187.1 L490.2,190.3 L490.9,192.9 L489.6,195.5 L491.5,198.8 L492.8,201.4 L493.2,203.2 L481.8,203.2 Z" fill="#cc77ff" stroke="#7a3a9a" stroke-width="0.45" stroke-linejoin="round"/>
<path d="M504.27,125 L504.72,125 L505.75,126.88 L505.09,128.77 L505.12,130.65 L505.76,132.53 L505.32,134.42 L504.72,136.3 L504.27,136.3 Z" fill="#cc77ff" stroke="#7a3a9a" stroke-width="0.45" stroke-linejoin="round"/>
<path d="M504.27,175.4 L504.27,175.4 L506.87,178 L510.77,180.6 L514.67,181.6 L514.27,184.5 L513.37,187.7 L513.97,190.3 L512.47,193.6 L512.97,196.8 L512.07,200.1 L512.97,202.7 L512.67,203.2 L504.27,203.2 Z" fill="#cc77ff" stroke="#7a3a9a" stroke-width="0.45" stroke-linejoin="round"/>
<path d="M526.74,125 L527.22,125 L528.32,127.3 L527.62,129.6 L527.65,131.9 L528.33,134.2 L527.86,136.5 L527.22,138.8 L526.74,138.8 Z" fill="#cc77ff" stroke="#7a3a9a" stroke-width="0.45" stroke-linejoin="round"/>
<path d="M526.74,178.9 L526.74,178.9 L529.04,181.4 L533.04,183.4 L536.94,184.5 L537.84,185.9 L536.94,188.8 L537.54,191 L535.84,193.9 L535.24,197.3 L534.74,199.8 L535.54,201.3 L534.74,203.2 L526.74,203.2 Z" fill="#cc77ff" stroke="#7a3a9a" stroke-width="0.45" stroke-linejoin="round"/>
<path d="M549.21,125 L549.72,125 L550.88,127.85 L550.14,130.7 L550.17,133.55 L550.89,136.4 L550.4,139.25 L549.72,142.1 L549.21,142.1 Z" fill="#cc77ff" stroke="#7a3a9a" stroke-width="0.45" stroke-linejoin="round"/>
<path d="M549.21,181.4 L549.21,181.4 L551.51,183.6 L554.91,185.9 L558.31,187.6 L559.41,189.9 L561.11,191.6 L559.41,193.9 L558.31,196.1 L557.71,199 L556.61,201.8 L556.01,203.2 L549.21,203.2 Z" fill="#cc77ff" stroke="#7a3a9a" stroke-width="0.45" stroke-linejoin="round"/>
<path d="M571.68,125.3 L576.78,125.3 L575.48,126.2 L574.18,128.7 L574.58,130.6 L574.18,133.1 L575.48,135 L576.78,136.9 L577.38,138.8 L582.48,140.7 L587.48,142 L590.28,143.9 L586.28,145.2 L581.18,146.1 L583.48,147.3 L579.88,149 L578.68,151.5 L577.38,152.8 L574.18,154 L573.58,155.9 L574.18,157.2 L572.98,159.1 L571.98,160.7 L571.68,160.7 Z" fill="#ffa055" stroke="#6a4a2a" stroke-width="0.45" stroke-linejoin="round"/>
<path d="M571.68,184.6 L571.68,184.6 L573.58,186.8 L576.68,189 L579.78,190.3 L581.48,192.9 L584.18,194.7 L583.28,196.9 L587.18,199.2 L582.78,200.4 L579.28,202.6 L578.48,203.2 L571.68,203.2 Z" fill="#ffa055" stroke="#6a4a2a" stroke-width="0.45" stroke-linejoin="round"/>
<path d="M594.15,125.3 L600.75,125.3 L598.25,126.5 L596.35,128.1 L598.25,129.3 L596.35,130.6 L595.65,133.1 L596.35,135 L599.45,136.9 L605.85,140.1 L609.75,141.7 L608.35,142.6 L612.75,143.5 L605.85,144.8 L596.95,146.4 L602.05,149 L600.75,150.2 L598.85,152.8 L598.25,154.7 L598.25,156.6 L595.65,158.5 L594.45,159.7 L594.15,159.7 Z" fill="#ffa055" stroke="#6a4a2a" stroke-width="0.45" stroke-linejoin="round"/>
<path d="M594.15,183.3 L594.15,183.3 L596.05,184.6 L600.45,186.8 L597.85,188.5 L598.25,190.3 L606.65,191.2 L608.85,192.2 L604.95,196 L606.65,196.9 L604.95,199.1 L601.35,201 L600.05,203.2 L594.15,203.2 Z" fill="#ffa055" stroke="#6a4a2a" stroke-width="0.45" stroke-linejoin="round"/>
<path d="M616.62,125.3 L622.92,125.3 L619.82,126.5 L619.12,128.1 L621.72,129.3 L619.12,130.9 L619.12,133.1 L621.02,135 L624.22,136.9 L629.32,138.8 L632.82,140.5 L630.62,142.3 L621.72,144.5 L620.42,145.8 L627.42,148.1 L622.92,149.9 L617.92,152.1 L619.82,154 L622.72,156.2 L619.12,158.2 L616.92,159.7 L616.62,159.7 Z" fill="#ffa055" stroke="#6a4a2a" stroke-width="0.45" stroke-linejoin="round"/>
<path d="M616.62,181.5 L616.62,181.5 L619.42,184.1 L622.52,186.3 L623.82,189 L627.72,190.3 L627.32,193.4 L629.92,194.7 L633.02,196.4 L629.12,197.5 L623.82,198.6 L622.92,201.7 L622.52,203.2 L616.62,203.2 Z" fill="#ffa055" stroke="#6a4a2a" stroke-width="0.45" stroke-linejoin="round"/>
<path d="M639.09,125.3 L644.79,125.3 L641.59,126.5 L640.99,128.1 L643.49,129.3 L640.99,130.9 L640.99,133.1 L642.29,135 L644.79,137.2 L651.79,139.2 L658.69,140.5 L651.79,142 L644.19,143.5 L641.59,145.2 L647.29,147.7 L642.89,149.6 L641.59,151.5 L643.49,152.8 L642.29,155.3 L640.99,157.8 L639.39,159.7 L639.09,159.7 Z" fill="#ffa055" stroke="#6a4a2a" stroke-width="0.45" stroke-linejoin="round"/>
<path d="M639.09,181.5 L639.09,181.5 L641.89,182.8 L645.39,184.3 L643.69,186.3 L644.09,189 L651.59,191.2 L650.69,193.8 L654.19,196.4 L648.89,197.7 L644.49,199.5 L643.69,203.2 L639.09,203.2 Z" fill="#ffa055" stroke="#6a4a2a" stroke-width="0.45" stroke-linejoin="round"/>
<path d="M661.56,125.3 L664.76,125.3 L662.86,126.5 L663.46,128.1 L664.76,129.3 L663.16,130.9 L665.36,132.1 L669.76,133.8 L672.36,135.7 L673.56,137.6 L677.36,140.1 L676.16,141.4 L669.76,143.3 L664.76,145.2 L669.16,147.7 L663.46,149.6 L664.76,152.8 L663.46,154.7 L664.06,156.6 L662.86,157.8 L661.86,158.7 L661.56,158.7 Z" fill="#ffa055" stroke="#6a4a2a" stroke-width="0.45" stroke-linejoin="round"/>
<path d="M661.56,181.5 L661.56,181.5 L663.46,182.2 L668.76,183.3 L676.66,184.6 L679.26,186.3 L676.66,187.8 L668.76,189.4 L667.86,191.2 L673.16,191.6 L676.66,192.9 L673.16,195.1 L669.66,196.9 L668.36,198.6 L668.76,200.4 L666.16,202.1 L665.66,203.2 L661.56,203.2 Z" fill="#ffa055" stroke="#6a4a2a" stroke-width="0.45" stroke-linejoin="round"/>
<line x1="368.15" y1="130.59" x2="370.75" y2="130.59" stroke="#8e8e8e" stroke-width="0.75"/>
<line x1="367.05" y1="136.17" x2="371.85" y2="136.17" stroke="#7c7c7c" stroke-width="0.75"/>
<line x1="368.15" y1="141.76" x2="370.75" y2="141.76" stroke="#8e8e8e" stroke-width="0.75"/>
<line x1="367.05" y1="147.34" x2="371.85" y2="147.34" stroke="#7c7c7c" stroke-width="0.75"/>
<line x1="368.15" y1="152.93" x2="370.75" y2="152.93" stroke="#8e8e8e" stroke-width="0.75"/>
<line x1="367.05" y1="158.51" x2="371.85" y2="158.51" stroke="#7c7c7c" stroke-width="0.75"/>
<line x1="368.15" y1="164.1" x2="370.75" y2="164.1" stroke="#8e8e8e" stroke-width="0.75"/>
<line x1="367.05" y1="169.69" x2="371.85" y2="169.69" stroke="#7c7c7c" stroke-width="0.75"/>
<line x1="368.15" y1="175.27" x2="370.75" y2="175.27" stroke="#8e8e8e" stroke-width="0.75"/>
<line x1="367.05" y1="180.86" x2="371.85" y2="180.86" stroke="#7c7c7c" stroke-width="0.75"/>
<line x1="368.15" y1="186.44" x2="370.75" y2="186.44" stroke="#8e8e8e" stroke-width="0.75"/>
<line x1="367.05" y1="192.03" x2="371.85" y2="192.03" stroke="#7c7c7c" stroke-width="0.75"/>
<line x1="368.15" y1="197.61" x2="370.75" y2="197.61" stroke="#8e8e8e" stroke-width="0.75"/>
<line x1="390.62" y1="130.59" x2="393.22" y2="130.59" stroke="#8e8e8e" stroke-width="0.75"/>
<line x1="389.52" y1="136.17" x2="394.32" y2="136.17" stroke="#7c7c7c" stroke-width="0.75"/>
<line x1="390.62" y1="141.76" x2="393.22" y2="141.76" stroke="#8e8e8e" stroke-width="0.75"/>
<line x1="389.52" y1="147.34" x2="394.32" y2="147.34" stroke="#7c7c7c" stroke-width="0.75"/>
<line x1="390.62" y1="152.93" x2="393.22" y2="152.93" stroke="#8e8e8e" stroke-width="0.75"/>
<line x1="389.52" y1="158.51" x2="394.32" y2="158.51" stroke="#7c7c7c" stroke-width="0.75"/>
<line x1="390.62" y1="164.1" x2="393.22" y2="164.1" stroke="#8e8e8e" stroke-width="0.75"/>
<line x1="389.52" y1="169.69" x2="394.32" y2="169.69" stroke="#7c7c7c" stroke-width="0.75"/>
<line x1="390.62" y1="175.27" x2="393.22" y2="175.27" stroke="#8e8e8e" stroke-width="0.75"/>
<line x1="389.52" y1="180.86" x2="394.32" y2="180.86" stroke="#7c7c7c" stroke-width="0.75"/>
<line x1="390.62" y1="186.44" x2="393.22" y2="186.44" stroke="#8e8e8e" stroke-width="0.75"/>
<line x1="389.52" y1="192.03" x2="394.32" y2="192.03" stroke="#7c7c7c" stroke-width="0.75"/>
<line x1="390.62" y1="197.61" x2="393.22" y2="197.61" stroke="#8e8e8e" stroke-width="0.75"/>
<line x1="413.09" y1="130.59" x2="415.69" y2="130.59" stroke="#8e8e8e" stroke-width="0.75"/>
<line x1="411.99" y1="136.17" x2="416.79" y2="136.17" stroke="#7c7c7c" stroke-width="0.75"/>
<line x1="413.09" y1="141.76" x2="415.69" y2="141.76" stroke="#8e8e8e" stroke-width="0.75"/>
<line x1="411.99" y1="147.34" x2="416.79" y2="147.34" stroke="#7c7c7c" stroke-width="0.75"/>
<line x1="413.09" y1="152.93" x2="415.69" y2="152.93" stroke="#8e8e8e" stroke-width="0.75"/>
<line x1="411.99" y1="158.51" x2="416.79" y2="158.51" stroke="#7c7c7c" stroke-width="0.75"/>
<line x1="413.09" y1="164.1" x2="415.69" y2="164.1" stroke="#8e8e8e" stroke-width="0.75"/>
<line x1="411.99" y1="169.69" x2="416.79" y2="169.69" stroke="#7c7c7c" stroke-width="0.75"/>
<line x1="413.09" y1="175.27" x2="415.69" y2="175.27" stroke="#8e8e8e" stroke-width="0.75"/>
<line x1="411.99" y1="180.86" x2="416.79" y2="180.86" stroke="#7c7c7c" stroke-width="0.75"/>
<line x1="413.09" y1="186.44" x2="415.69" y2="186.44" stroke="#8e8e8e" stroke-width="0.75"/>
<line x1="411.99" y1="192.03" x2="416.79" y2="192.03" stroke="#7c7c7c" stroke-width="0.75"/>
<line x1="413.09" y1="197.61" x2="415.69" y2="197.61" stroke="#8e8e8e" stroke-width="0.75"/>
<line x1="435.56" y1="130.59" x2="438.16" y2="130.59" stroke="#8e8e8e" stroke-width="0.75"/>
<line x1="434.46" y1="136.17" x2="439.26" y2="136.17" stroke="#7c7c7c" stroke-width="0.75"/>
<line x1="435.56" y1="141.76" x2="438.16" y2="141.76" stroke="#8e8e8e" stroke-width="0.75"/>
<line x1="434.46" y1="147.34" x2="439.26" y2="147.34" stroke="#7c7c7c" stroke-width="0.75"/>
<line x1="435.56" y1="152.93" x2="438.16" y2="152.93" stroke="#8e8e8e" stroke-width="0.75"/>
<line x1="434.46" y1="158.51" x2="439.26" y2="158.51" stroke="#7c7c7c" stroke-width="0.75"/>
<line x1="435.56" y1="164.1" x2="438.16" y2="164.1" stroke="#8e8e8e" stroke-width="0.75"/>
<line x1="434.46" y1="169.69" x2="439.26" y2="169.69" stroke="#7c7c7c" stroke-width="0.75"/>
<line x1="435.56" y1="175.27" x2="438.16" y2="175.27" stroke="#8e8e8e" stroke-width="0.75"/>
<line x1="434.46" y1="180.86" x2="439.26" y2="180.86" stroke="#7c7c7c" stroke-width="0.75"/>
<line x1="435.56" y1="186.44" x2="438.16" y2="186.44" stroke="#8e8e8e" stroke-width="0.75"/>
<line x1="434.46" y1="192.03" x2="439.26" y2="192.03" stroke="#7c7c7c" stroke-width="0.75"/>
<line x1="435.56" y1="197.61" x2="438.16" y2="197.61" stroke="#8e8e8e" stroke-width="0.75"/>
<line x1="458.03" y1="130.59" x2="460.63" y2="130.59" stroke="#8e8e8e" stroke-width="0.75"/>
<line x1="456.93" y1="136.17" x2="461.73" y2="136.17" stroke="#7c7c7c" stroke-width="0.75"/>
<line x1="458.03" y1="141.76" x2="460.63" y2="141.76" stroke="#8e8e8e" stroke-width="0.75"/>
<line x1="456.93" y1="147.34" x2="461.73" y2="147.34" stroke="#7c7c7c" stroke-width="0.75"/>
<line x1="458.03" y1="152.93" x2="460.63" y2="152.93" stroke="#8e8e8e" stroke-width="0.75"/>
<line x1="456.93" y1="158.51" x2="461.73" y2="158.51" stroke="#7c7c7c" stroke-width="0.75"/>
<line x1="458.03" y1="164.1" x2="460.63" y2="164.1" stroke="#8e8e8e" stroke-width="0.75"/>
<line x1="456.93" y1="169.69" x2="461.73" y2="169.69" stroke="#7c7c7c" stroke-width="0.75"/>
<line x1="458.03" y1="175.27" x2="460.63" y2="175.27" stroke="#8e8e8e" stroke-width="0.75"/>
<line x1="456.93" y1="180.86" x2="461.73" y2="180.86" stroke="#7c7c7c" stroke-width="0.75"/>
<line x1="458.03" y1="186.44" x2="460.63" y2="186.44" stroke="#8e8e8e" stroke-width="0.75"/>
<line x1="456.93" y1="192.03" x2="461.73" y2="192.03" stroke="#7c7c7c" stroke-width="0.75"/>
<line x1="458.03" y1="197.61" x2="460.63" y2="197.61" stroke="#8e8e8e" stroke-width="0.75"/>
<line x1="480.5" y1="130.59" x2="483.1" y2="130.59" stroke="#8e8e8e" stroke-width="0.75"/>
<line x1="479.4" y1="136.17" x2="484.2" y2="136.17" stroke="#7c7c7c" stroke-width="0.75"/>
<line x1="480.5" y1="141.76" x2="483.1" y2="141.76" stroke="#8e8e8e" stroke-width="0.75"/>
<line x1="479.4" y1="147.34" x2="484.2" y2="147.34" stroke="#7c7c7c" stroke-width="0.75"/>
<line x1="480.5" y1="152.93" x2="483.1" y2="152.93" stroke="#8e8e8e" stroke-width="0.75"/>
<line x1="479.4" y1="158.51" x2="484.2" y2="158.51" stroke="#7c7c7c" stroke-width="0.75"/>
<line x1="480.5" y1="164.1" x2="483.1" y2="164.1" stroke="#8e8e8e" stroke-width="0.75"/>
<line x1="479.4" y1="169.69" x2="484.2" y2="169.69" stroke="#7c7c7c" stroke-width="0.75"/>
<line x1="480.5" y1="175.27" x2="483.1" y2="175.27" stroke="#8e8e8e" stroke-width="0.75"/>
<line x1="479.4" y1="180.86" x2="484.2" y2="180.86" stroke="#7c7c7c" stroke-width="0.75"/>
<line x1="480.5" y1="186.44" x2="483.1" y2="186.44" stroke="#8e8e8e" stroke-width="0.75"/>
<line x1="479.4" y1="192.03" x2="484.2" y2="192.03" stroke="#7c7c7c" stroke-width="0.75"/>
<line x1="480.5" y1="197.61" x2="483.1" y2="197.61" stroke="#8e8e8e" stroke-width="0.75"/>
<line x1="502.97" y1="130.59" x2="505.57" y2="130.59" stroke="#8e8e8e" stroke-width="0.75"/>
<line x1="501.87" y1="136.17" x2="506.67" y2="136.17" stroke="#7c7c7c" stroke-width="0.75"/>
<line x1="502.97" y1="141.76" x2="505.57" y2="141.76" stroke="#8e8e8e" stroke-width="0.75"/>
<line x1="501.87" y1="147.34" x2="506.67" y2="147.34" stroke="#7c7c7c" stroke-width="0.75"/>
<line x1="502.97" y1="152.93" x2="505.57" y2="152.93" stroke="#8e8e8e" stroke-width="0.75"/>
<line x1="501.87" y1="158.51" x2="506.67" y2="158.51" stroke="#7c7c7c" stroke-width="0.75"/>
<line x1="502.97" y1="164.1" x2="505.57" y2="164.1" stroke="#8e8e8e" stroke-width="0.75"/>
<line x1="501.87" y1="169.69" x2="506.67" y2="169.69" stroke="#7c7c7c" stroke-width="0.75"/>
<line x1="502.97" y1="175.27" x2="505.57" y2="175.27" stroke="#8e8e8e" stroke-width="0.75"/>
<line x1="501.87" y1="180.86" x2="506.67" y2="180.86" stroke="#7c7c7c" stroke-width="0.75"/>
<line x1="502.97" y1="186.44" x2="505.57" y2="186.44" stroke="#8e8e8e" stroke-width="0.75"/>
<line x1="501.87" y1="192.03" x2="506.67" y2="192.03" stroke="#7c7c7c" stroke-width="0.75"/>
<line x1="502.97" y1="197.61" x2="505.57" y2="197.61" stroke="#8e8e8e" stroke-width="0.75"/>
<line x1="525.44" y1="130.59" x2="528.04" y2="130.59" stroke="#8e8e8e" stroke-width="0.75"/>
<line x1="524.34" y1="136.17" x2="529.14" y2="136.17" stroke="#7c7c7c" stroke-width="0.75"/>
<line x1="525.44" y1="141.76" x2="528.04" y2="141.76" stroke="#8e8e8e" stroke-width="0.75"/>
<line x1="524.34" y1="147.34" x2="529.14" y2="147.34" stroke="#7c7c7c" stroke-width="0.75"/>
<line x1="525.44" y1="152.93" x2="528.04" y2="152.93" stroke="#8e8e8e" stroke-width="0.75"/>
<line x1="524.34" y1="158.51" x2="529.14" y2="158.51" stroke="#7c7c7c" stroke-width="0.75"/>
<line x1="525.44" y1="164.1" x2="528.04" y2="164.1" stroke="#8e8e8e" stroke-width="0.75"/>
<line x1="524.34" y1="169.69" x2="529.14" y2="169.69" stroke="#7c7c7c" stroke-width="0.75"/>
<line x1="525.44" y1="175.27" x2="528.04" y2="175.27" stroke="#8e8e8e" stroke-width="0.75"/>
<line x1="524.34" y1="180.86" x2="529.14" y2="180.86" stroke="#7c7c7c" stroke-width="0.75"/>
<line x1="525.44" y1="186.44" x2="528.04" y2="186.44" stroke="#8e8e8e" stroke-width="0.75"/>
<line x1="524.34" y1="192.03" x2="529.14" y2="192.03" stroke="#7c7c7c" stroke-width="0.75"/>
<line x1="525.44" y1="197.61" x2="528.04" y2="197.61" stroke="#8e8e8e" stroke-width="0.75"/>
<line x1="547.91" y1="130.59" x2="550.51" y2="130.59" stroke="#8e8e8e" stroke-width="0.75"/>
<line x1="546.81" y1="136.17" x2="551.61" y2="136.17" stroke="#7c7c7c" stroke-width="0.75"/>
<line x1="547.91" y1="141.76" x2="550.51" y2="141.76" stroke="#8e8e8e" stroke-width="0.75"/>
<line x1="546.81" y1="147.34" x2="551.61" y2="147.34" stroke="#7c7c7c" stroke-width="0.75"/>
<line x1="547.91" y1="152.93" x2="550.51" y2="152.93" stroke="#8e8e8e" stroke-width="0.75"/>
<line x1="546.81" y1="158.51" x2="551.61" y2="158.51" stroke="#7c7c7c" stroke-width="0.75"/>
<line x1="547.91" y1="164.1" x2="550.51" y2="164.1" stroke="#8e8e8e" stroke-width="0.75"/>
<line x1="546.81" y1="169.69" x2="551.61" y2="169.69" stroke="#7c7c7c" stroke-width="0.75"/>
<line x1="547.91" y1="175.27" x2="550.51" y2="175.27" stroke="#8e8e8e" stroke-width="0.75"/>
<line x1="546.81" y1="180.86" x2="551.61" y2="180.86" stroke="#7c7c7c" stroke-width="0.75"/>
<line x1="547.91" y1="186.44" x2="550.51" y2="186.44" stroke="#8e8e8e" stroke-width="0.75"/>
<line x1="546.81" y1="192.03" x2="551.61" y2="192.03" stroke="#7c7c7c" stroke-width="0.75"/>
<line x1="547.91" y1="197.61" x2="550.51" y2="197.61" stroke="#8e8e8e" stroke-width="0.75"/>
<line x1="570.38" y1="130.59" x2="572.98" y2="130.59" stroke="#8e8e8e" stroke-width="0.75"/>
<line x1="569.28" y1="136.17" x2="574.08" y2="136.17" stroke="#7c7c7c" stroke-width="0.75"/>
<line x1="570.38" y1="141.76" x2="572.98" y2="141.76" stroke="#8e8e8e" stroke-width="0.75"/>
<line x1="569.28" y1="147.34" x2="574.08" y2="147.34" stroke="#7c7c7c" stroke-width="0.75"/>
<line x1="570.38" y1="152.93" x2="572.98" y2="152.93" stroke="#8e8e8e" stroke-width="0.75"/>
<line x1="569.28" y1="158.51" x2="574.08" y2="158.51" stroke="#7c7c7c" stroke-width="0.75"/>
<line x1="570.38" y1="164.1" x2="572.98" y2="164.1" stroke="#8e8e8e" stroke-width="0.75"/>
<line x1="569.28" y1="169.69" x2="574.08" y2="169.69" stroke="#7c7c7c" stroke-width="0.75"/>
<line x1="570.38" y1="175.27" x2="572.98" y2="175.27" stroke="#8e8e8e" stroke-width="0.75"/>
<line x1="569.28" y1="180.86" x2="574.08" y2="180.86" stroke="#7c7c7c" stroke-width="0.75"/>
<line x1="570.38" y1="186.44" x2="572.98" y2="186.44" stroke="#8e8e8e" stroke-width="0.75"/>
<line x1="569.28" y1="192.03" x2="574.08" y2="192.03" stroke="#7c7c7c" stroke-width="0.75"/>
<line x1="570.38" y1="197.61" x2="572.98" y2="197.61" stroke="#8e8e8e" stroke-width="0.75"/>
<line x1="592.85" y1="130.59" x2="595.45" y2="130.59" stroke="#8e8e8e" stroke-width="0.75"/>
<line x1="591.75" y1="136.17" x2="596.55" y2="136.17" stroke="#7c7c7c" stroke-width="0.75"/>
<line x1="592.85" y1="141.76" x2="595.45" y2="141.76" stroke="#8e8e8e" stroke-width="0.75"/>
<line x1="591.75" y1="147.34" x2="596.55" y2="147.34" stroke="#7c7c7c" stroke-width="0.75"/>
<line x1="592.85" y1="152.93" x2="595.45" y2="152.93" stroke="#8e8e8e" stroke-width="0.75"/>
<line x1="591.75" y1="158.51" x2="596.55" y2="158.51" stroke="#7c7c7c" stroke-width="0.75"/>
<line x1="592.85" y1="164.1" x2="595.45" y2="164.1" stroke="#8e8e8e" stroke-width="0.75"/>
<line x1="591.75" y1="169.69" x2="596.55" y2="169.69" stroke="#7c7c7c" stroke-width="0.75"/>
<line x1="592.85" y1="175.27" x2="595.45" y2="175.27" stroke="#8e8e8e" stroke-width="0.75"/>
<line x1="591.75" y1="180.86" x2="596.55" y2="180.86" stroke="#7c7c7c" stroke-width="0.75"/>
<line x1="592.85" y1="186.44" x2="595.45" y2="186.44" stroke="#8e8e8e" stroke-width="0.75"/>
<line x1="591.75" y1="192.03" x2="596.55" y2="192.03" stroke="#7c7c7c" stroke-width="0.75"/>
<line x1="592.85" y1="197.61" x2="595.45" y2="197.61" stroke="#8e8e8e" stroke-width="0.75"/>
<line x1="615.32" y1="130.59" x2="617.92" y2="130.59" stroke="#8e8e8e" stroke-width="0.75"/>
<line x1="614.22" y1="136.17" x2="619.02" y2="136.17" stroke="#7c7c7c" stroke-width="0.75"/>
<line x1="615.32" y1="141.76" x2="617.92" y2="141.76" stroke="#8e8e8e" stroke-width="0.75"/>
<line x1="614.22" y1="147.34" x2="619.02" y2="147.34" stroke="#7c7c7c" stroke-width="0.75"/>
<line x1="615.32" y1="152.93" x2="617.92" y2="152.93" stroke="#8e8e8e" stroke-width="0.75"/>
<line x1="614.22" y1="158.51" x2="619.02" y2="158.51" stroke="#7c7c7c" stroke-width="0.75"/>
<line x1="615.32" y1="164.1" x2="617.92" y2="164.1" stroke="#8e8e8e" stroke-width="0.75"/>
<line x1="614.22" y1="169.69" x2="619.02" y2="169.69" stroke="#7c7c7c" stroke-width="0.75"/>
<line x1="615.32" y1="175.27" x2="617.92" y2="175.27" stroke="#8e8e8e" stroke-width="0.75"/>
<line x1="614.22" y1="180.86" x2="619.02" y2="180.86" stroke="#7c7c7c" stroke-width="0.75"/>
<line x1="615.32" y1="186.44" x2="617.92" y2="186.44" stroke="#8e8e8e" stroke-width="0.75"/>
<line x1="614.22" y1="192.03" x2="619.02" y2="192.03" stroke="#7c7c7c" stroke-width="0.75"/>
<line x1="615.32" y1="197.61" x2="617.92" y2="197.61" stroke="#8e8e8e" stroke-width="0.75"/>
<line x1="637.79" y1="130.59" x2="640.39" y2="130.59" stroke="#8e8e8e" stroke-width="0.75"/>
<line x1="636.69" y1="136.17" x2="641.49" y2="136.17" stroke="#7c7c7c" stroke-width="0.75"/>
<line x1="637.79" y1="141.76" x2="640.39" y2="141.76" stroke="#8e8e8e" stroke-width="0.75"/>
<line x1="636.69" y1="147.34" x2="641.49" y2="147.34" stroke="#7c7c7c" stroke-width="0.75"/>
<line x1="637.79" y1="152.93" x2="640.39" y2="152.93" stroke="#8e8e8e" stroke-width="0.75"/>
<line x1="636.69" y1="158.51" x2="641.49" y2="158.51" stroke="#7c7c7c" stroke-width="0.75"/>
<line x1="637.79" y1="164.1" x2="640.39" y2="164.1" stroke="#8e8e8e" stroke-width="0.75"/>
<line x1="636.69" y1="169.69" x2="641.49" y2="169.69" stroke="#7c7c7c" stroke-width="0.75"/>
<line x1="637.79" y1="175.27" x2="640.39" y2="175.27" stroke="#8e8e8e" stroke-width="0.75"/>
<line x1="636.69" y1="180.86" x2="641.49" y2="180.86" stroke="#7c7c7c" stroke-width="0.75"/>
<line x1="637.79" y1="186.44" x2="640.39" y2="186.44" stroke="#8e8e8e" stroke-width="0.75"/>
<line x1="636.69" y1="192.03" x2="641.49" y2="192.03" stroke="#7c7c7c" stroke-width="0.75"/>
<line x1="637.79" y1="197.61" x2="640.39" y2="197.61" stroke="#8e8e8e" stroke-width="0.75"/>
<line x1="660.26" y1="130.59" x2="662.86" y2="130.59" stroke="#8e8e8e" stroke-width="0.75"/>
<line x1="659.16" y1="136.17" x2="663.96" y2="136.17" stroke="#7c7c7c" stroke-width="0.75"/>
<line x1="660.26" y1="141.76" x2="662.86" y2="141.76" stroke="#8e8e8e" stroke-width="0.75"/>
<line x1="659.16" y1="147.34" x2="663.96" y2="147.34" stroke="#7c7c7c" stroke-width="0.75"/>
<line x1="660.26" y1="152.93" x2="662.86" y2="152.93" stroke="#8e8e8e" stroke-width="0.75"/>
<line x1="659.16" y1="158.51" x2="663.96" y2="158.51" stroke="#7c7c7c" stroke-width="0.75"/>
<line x1="660.26" y1="164.1" x2="662.86" y2="164.1" stroke="#8e8e8e" stroke-width="0.75"/>
<line x1="659.16" y1="169.69" x2="663.96" y2="169.69" stroke="#7c7c7c" stroke-width="0.75"/>
<line x1="660.26" y1="175.27" x2="662.86" y2="175.27" stroke="#8e8e8e" stroke-width="0.75"/>
<line x1="659.16" y1="180.86" x2="663.96" y2="180.86" stroke="#7c7c7c" stroke-width="0.75"/>
<line x1="660.26" y1="186.44" x2="662.86" y2="186.44" stroke="#8e8e8e" stroke-width="0.75"/>
<line x1="659.16" y1="192.03" x2="663.96" y2="192.03" stroke="#7c7c7c" stroke-width="0.75"/>
<line x1="660.26" y1="197.61" x2="662.86" y2="197.61" stroke="#8e8e8e" stroke-width="0.75"/>
<line x1="682.3" y1="130.59" x2="684.9" y2="130.59" stroke="#8e8e8e" stroke-width="0.75"/>
<line x1="681.2" y1="136.17" x2="686" y2="136.17" stroke="#7c7c7c" stroke-width="0.75"/>
<line x1="682.3" y1="141.76" x2="684.9" y2="141.76" stroke="#8e8e8e" stroke-width="0.75"/>
<line x1="681.2" y1="147.34" x2="686" y2="147.34" stroke="#7c7c7c" stroke-width="0.75"/>
<line x1="682.3" y1="152.93" x2="684.9" y2="152.93" stroke="#8e8e8e" stroke-width="0.75"/>
<line x1="681.2" y1="158.51" x2="686" y2="158.51" stroke="#7c7c7c" stroke-width="0.75"/>
<line x1="682.3" y1="164.1" x2="684.9" y2="164.1" stroke="#8e8e8e" stroke-width="0.75"/>
<line x1="681.2" y1="169.69" x2="686" y2="169.69" stroke="#7c7c7c" stroke-width="0.75"/>
<line x1="682.3" y1="175.27" x2="684.9" y2="175.27" stroke="#8e8e8e" stroke-width="0.75"/>
<line x1="681.2" y1="180.86" x2="686" y2="180.86" stroke="#7c7c7c" stroke-width="0.75"/>
<line x1="682.3" y1="186.44" x2="684.9" y2="186.44" stroke="#8e8e8e" stroke-width="0.75"/>
<line x1="681.2" y1="192.03" x2="686" y2="192.03" stroke="#7c7c7c" stroke-width="0.75"/>
<line x1="682.3" y1="197.61" x2="684.9" y2="197.61" stroke="#8e8e8e" stroke-width="0.75"/>
<line x1="369.45" y1="158.4" x2="683.6" y2="158.4" stroke="#888" stroke-width="0.8" stroke-dasharray="2.6,2"/>
<line x1="368.5" y1="157.7" x2="562.2" y2="183" stroke="#222" stroke-width="0.9" stroke-dasharray="2.6,1.6"/>
<text x="367.5" y="128.1" font-size="8.6" font-weight="normal" font-style="normal" fill="#222" text-anchor="end" >3</text>
<text x="367.5" y="139.27" font-size="8.6" font-weight="normal" font-style="normal" fill="#222" text-anchor="end" >2</text>
<text x="367.5" y="150.44" font-size="8.6" font-weight="normal" font-style="normal" fill="#222" text-anchor="end" >1</text>
<text x="367.5" y="161.61" font-size="8.6" font-weight="normal" font-style="normal" fill="#222" text-anchor="end" >0</text>
<text x="367.5" y="172.79" font-size="8.6" font-weight="normal" font-style="normal" fill="#222" text-anchor="end" >-1</text>
<text x="367.5" y="183.96" font-size="8.6" font-weight="normal" font-style="normal" fill="#222" text-anchor="end" >-2</text>
<text x="367.5" y="195.13" font-size="8.6" font-weight="normal" font-style="normal" fill="#222" text-anchor="end" >-3</text>
<text x="367.5" y="206.3" font-size="8.6" font-weight="normal" font-style="normal" fill="#222" text-anchor="end" >-4</text>
<text transform="translate(606,175.6) scale(0.96,1)" font-size="9" font-weight="bold" fill="#ff1a1a">0.47 e/a<tspan font-size="6.6" font-weight="normal" dx="0.3" dy="-2.4">2</tspan></text>
<path d="M443.9,132.9 L465.2,132.9 L465.2,125.1 L480.4,140.3 L465.2,155.1 L465.2,147.6 L443.9,147.6 Z" fill="#7f7f7f"/>
<text x="455.7" y="143.1" font-size="9.4" font-style="italic" fill="#e8e8e8">P</text>
<line x1="369.45" y1="226.5" x2="683.5" y2="226.5" stroke="#a0a0a0" stroke-width="0.9"/>
<line x1="369.45" y1="304.8" x2="683.5" y2="304.8" stroke="#b0b0b0" stroke-width="0.9"/>
<line x1="683.5" y1="226.5" x2="683.5" y2="304.8" stroke="#b8b8b8" stroke-width="1"/>
<line x1="369.45" y1="226.5" x2="369.45" y2="304.8" stroke="#939393" stroke-width="1"/>
<line x1="391.92" y1="226.5" x2="391.92" y2="304.8" stroke="#939393" stroke-width="1"/>
<line x1="414.39" y1="226.5" x2="414.39" y2="304.8" stroke="#939393" stroke-width="1"/>
<line x1="436.86" y1="226.5" x2="436.86" y2="304.8" stroke="#939393" stroke-width="1"/>
<line x1="459.33" y1="226.5" x2="459.33" y2="304.8" stroke="#939393" stroke-width="1"/>
<line x1="481.8" y1="226.5" x2="481.8" y2="304.8" stroke="#939393" stroke-width="1"/>
<line x1="504.27" y1="226.5" x2="504.27" y2="304.8" stroke="#939393" stroke-width="1"/>
<line x1="526.74" y1="226.5" x2="526.74" y2="304.8" stroke="#939393" stroke-width="1"/>
<line x1="549.21" y1="226.5" x2="549.21" y2="304.8" stroke="#939393" stroke-width="1"/>
<line x1="571.68" y1="226.5" x2="571.68" y2="304.8" stroke="#939393" stroke-width="1"/>
<line x1="594.15" y1="226.5" x2="594.15" y2="304.8" stroke="#939393" stroke-width="1"/>
<line x1="616.62" y1="226.5" x2="616.62" y2="304.8" stroke="#939393" stroke-width="1"/>
<line x1="639.09" y1="226.5" x2="639.09" y2="304.8" stroke="#939393" stroke-width="1"/>
<line x1="661.56" y1="226.5" x2="661.56" y2="304.8" stroke="#939393" stroke-width="1"/>
<path d="M369.45,226.5 L373.05,226.5 L371.75,228.5 L372.05,231 L372.65,233.3 L371.65,235.5 L372.05,237.5 L372.45,240 L371.65,242.5 L372.45,245.5 L370.95,248 L369.45,249.5 L369.45,249.5 Z" fill="#cc77ff" stroke="#7a3a9a" stroke-width="0.45" stroke-linejoin="round"/>
<path d="M369.45,290.5 L369.45,290.5 L372.85,292.2 L376.25,293.9 L378.75,295.2 L378.75,298.1 L379.55,299.8 L381.65,301.5 L379.55,302.8 L377.05,304 L376.65,304.8 L369.45,304.8 Z" fill="#cc77ff" stroke="#7a3a9a" stroke-width="0.45" stroke-linejoin="round"/>
<path d="M391.92,226.5 L396.72,226.5 L395.42,229 L393.92,233 L393.42,240 L393.92,244 L391.92,249.4 L391.92,249.4 Z" fill="#cc77ff" stroke="#7a3a9a" stroke-width="0.45" stroke-linejoin="round"/>
<path d="M391.92,291 L391.92,291 L394.92,293.1 L398.22,295.2 L401.62,297.7 L402.02,299.8 L404.12,301.5 L402.42,303.2 L401.62,304.8 L391.92,304.8 Z" fill="#cc77ff" stroke="#7a3a9a" stroke-width="0.45" stroke-linejoin="round"/>
<path d="M414.39,226.5 L418.19,226.5 L417.19,229 L416.39,233 L416.19,240 L416.39,244 L414.39,249 L414.39,249 Z" fill="#cc77ff" stroke="#7a3a9a" stroke-width="0.45" stroke-linejoin="round"/>
<path d="M414.39,289.3 L414.39,289.3 L416.89,291.4 L421.19,293.5 L426.19,296.5 L424.89,298.1 L424.49,300.3 L424.89,301.9 L424.09,304.8 L414.39,304.8 Z" fill="#cc77ff" stroke="#7a3a9a" stroke-width="0.45" stroke-linejoin="round"/>
<path d="M436.86,226.5 L440.26,226.5 L439.36,229 L438.86,233 L438.66,240 L439.06,244 L436.86,249 L436.86,249 Z" fill="#cc77ff" stroke="#7a3a9a" stroke-width="0.45" stroke-linejoin="round"/>
<path d="M436.86,288.4 L436.86,288.4 L439.86,290.5 L444.86,293.5 L448.26,295.6 L446.56,298.1 L446.96,301.1 L446.56,303.2 L446.56,304.8 L436.86,304.8 Z" fill="#cc77ff" stroke="#7a3a9a" stroke-width="0.45" stroke-linejoin="round"/>
<path d="M459.33,226.5 L461.83,226.5 L461.33,231 L460.83,236 L459.33,238 L459.33,238 Z" fill="#cc77ff" stroke="#7a3a9a" stroke-width="0.45" stroke-linejoin="round"/>
<path d="M459.33,287.5 L459.33,287.5 L462.33,289.4 L466.83,292.1 L470.53,294.4 L469.13,297.1 L468.73,299.8 L469.13,302.1 L468.23,304.4 L468.23,304.8 L459.33,304.8 Z" fill="#cc77ff" stroke="#7a3a9a" stroke-width="0.45" stroke-linejoin="round"/>
<path d="M481.8,226.5 L484,226.5 L483.4,232 L483.8,238 L483.3,242 L481.8,245 L481.8,245 Z" fill="#cc77ff" stroke="#7a3a9a" stroke-width="0.45" stroke-linejoin="round"/>
<path d="M481.8,287.1 L481.8,287.1 L485,289.4 L489.5,291.6 L492.7,293 L491.8,295.3 L490.9,297.5 L491.3,300.3 L490.4,303 L490.4,304.8 L481.8,304.8 Z" fill="#cc77ff" stroke="#7a3a9a" stroke-width="0.45" stroke-linejoin="round"/>
<path d="M504.27,226.5 L506.47,226.5 L505.87,232 L506.47,238 L505.77,242 L504.27,245 L504.27,245 Z" fill="#cc77ff" stroke="#7a3a9a" stroke-width="0.45" stroke-linejoin="round"/>
<path d="M504.27,285.7 L504.27,285.7 L506.67,287.7 L511.57,289.6 L514.97,292.1 L513.47,294.5 L513.97,297.4 L513.07,300.3 L512.07,302.8 L511.07,304.8 L504.27,304.8 Z" fill="#cc77ff" stroke="#7a3a9a" stroke-width="0.45" stroke-linejoin="round"/>
<path d="M526.74,226.5 L528.94,226.5 L528.54,232 L529.14,238 L528.24,242 L526.74,245 L526.74,245 Z" fill="#cc77ff" stroke="#7a3a9a" stroke-width="0.45" stroke-linejoin="round"/>
<path d="M526.74,284.8 L526.74,284.8 L529.34,286.7 L533.24,288.7 L537.64,290.6 L536.64,293.5 L537.14,296.4 L536.14,300.3 L535.24,302.8 L534.24,304.8 L526.74,304.8 Z" fill="#cc77ff" stroke="#7a3a9a" stroke-width="0.45" stroke-linejoin="round"/>
<path d="M549.21,226.5 L551.21,226.5 L551.21,232 L551.81,238 L551.01,242 L549.21,245 L549.21,245 Z" fill="#cc77ff" stroke="#7a3a9a" stroke-width="0.45" stroke-linejoin="round"/>
<path d="M549.21,284.3 L549.21,284.3 L551.61,285.7 L555.51,287.2 L559.41,289.6 L560.91,291.6 L561.41,293 L558.91,295.5 L557.51,296.9 L559.41,299.4 L558.01,301.3 L555.01,303.3 L554.61,304.8 L549.21,304.8 Z" fill="#cc77ff" stroke="#7a3a9a" stroke-width="0.45" stroke-linejoin="round"/>
<path d="M571.68,226.5 L576.08,226.5 L575.18,227.8 L574.58,230.1 L575.18,232 L575.88,233.9 L577.08,235.8 L577.08,237.7 L577.78,239.6 L582.18,241.2 L586.58,243 L589.78,245 L585.98,246.3 L580.28,247.2 L582.78,248.8 L578.98,250.3 L577.78,252.9 L575.88,254.8 L573.98,256.4 L573.98,258.2 L572.68,259.8 L571.98,260.7 L571.68,260.7 Z" fill="#ffa055" stroke="#6a4a2a" stroke-width="0.45" stroke-linejoin="round"/>
<path d="M571.68,284.4 L571.68,284.4 L575.18,286.9 L579.18,289.5 L581.28,292.2 L583.98,294.8 L582.68,297 L585.28,299.4 L581.28,301.4 L577.78,303.6 L577.38,304.8 L571.68,304.8 Z" fill="#ffa055" stroke="#6a4a2a" stroke-width="0.45" stroke-linejoin="round"/>
<path d="M594.15,226.5 L598.85,226.5 L597.55,228.2 L598.25,229.4 L596.35,231.1 L596.95,233.2 L598.25,235.1 L602.05,238.3 L608.35,240.8 L610.85,241.7 L608.35,242.7 L610.85,244.6 L604.55,246.5 L596.95,247.8 L597.55,249.1 L602.05,250.1 L599.45,251.6 L598.25,254.1 L598.85,256.7 L596.95,258.6 L594.65,260.2 L594.15,260.2 Z" fill="#ffa055" stroke="#6a4a2a" stroke-width="0.45" stroke-linejoin="round"/>
<path d="M594.15,283.4 L594.15,283.4 L596.95,285.1 L600.95,287.3 L598.35,289.1 L603.05,290.8 L608.75,292.6 L606.65,295.2 L606.15,297.4 L603.05,300 L600.45,302.7 L600.45,304.8 L594.15,304.8 Z" fill="#ffa055" stroke="#6a4a2a" stroke-width="0.45" stroke-linejoin="round"/>
<path d="M616.62,226.5 L622.02,226.5 L618.92,228.2 L619.52,229.4 L621.42,230.7 L618.92,232 L618.92,233.2 L621.42,235.1 L625.82,237.7 L629.62,239.6 L632.82,241.5 L630.92,243.4 L623.32,245.5 L620.82,246.8 L627.12,249.1 L623.32,250.3 L617.62,252.2 L618.92,254.1 L622.02,256.4 L618.92,258.2 L616.92,260.2 L616.62,260.2 Z" fill="#ffa055" stroke="#6a4a2a" stroke-width="0.45" stroke-linejoin="round"/>
<path d="M616.62,282.3 L616.62,282.3 L620.32,283.8 L622.02,286 L623.82,288.6 L628.22,290.4 L627.72,293.9 L629.92,295.2 L633.02,296.5 L628.22,297.9 L623.82,299.4 L622.92,302.2 L623.82,304.8 L616.62,304.8 Z" fill="#ffa055" stroke="#6a4a2a" stroke-width="0.45" stroke-linejoin="round"/>
<path d="M639.09,226.5 L643.49,226.5 L640.99,227.8 L640.99,229.4 L642.89,230.7 L640.39,232 L640.59,233.9 L642.29,235.8 L644.79,237.7 L650.49,239.6 L657.49,241.2 L651.79,242.7 L644.19,244.6 L642.29,246.5 L647.99,249.1 L644.19,250.3 L641.59,251.6 L643.49,253.5 L642.89,256 L640.99,258.6 L639.39,260.2 L639.09,260.2 Z" fill="#ffa055" stroke="#6a4a2a" stroke-width="0.45" stroke-linejoin="round"/>
<path d="M639.09,282.3 L639.09,282.3 L642.59,283.8 L646.09,285.3 L643.49,287.3 L644.39,290 L650.89,291.3 L650.49,294.4 L653.59,296.5 L650.49,297.9 L645.19,299.6 L643.89,302.2 L643.89,304.8 L639.09,304.8 Z" fill="#ffa055" stroke="#6a4a2a" stroke-width="0.45" stroke-linejoin="round"/>
<path d="M661.56,226.5 L664.76,226.5 L662.86,227.8 L663.46,229.4 L664.76,230.7 L662.86,232 L664.76,233.6 L668.56,235.8 L672.96,238.3 L676.16,240.2 L677.66,241.5 L674.86,243.7 L667.26,245.9 L664.76,246.8 L669.16,248.8 L664.06,250.3 L664.76,252.9 L665.36,254.8 L664.06,256.7 L662.86,258.6 L661.86,259.8 L661.56,259.8 Z" fill="#ffa055" stroke="#6a4a2a" stroke-width="0.45" stroke-linejoin="round"/>
<path d="M661.56,282.3 L661.56,282.3 L663.46,282.9 L669.66,284.3 L676.66,286 L680.16,287.8 L676.66,289.1 L668.76,290.8 L668.36,292.2 L673.16,293 L676.66,293.9 L673.16,296.1 L669.66,298.3 L668.36,300.1 L668.76,301.8 L666.16,303.4 L665.66,304.8 L661.56,304.8 Z" fill="#ffa055" stroke="#6a4a2a" stroke-width="0.45" stroke-linejoin="round"/>
<line x1="368.15" y1="232.09" x2="370.75" y2="232.09" stroke="#8e8e8e" stroke-width="0.75"/>
<line x1="367.05" y1="237.69" x2="371.85" y2="237.69" stroke="#7c7c7c" stroke-width="0.75"/>
<line x1="368.15" y1="243.28" x2="370.75" y2="243.28" stroke="#8e8e8e" stroke-width="0.75"/>
<line x1="367.05" y1="248.87" x2="371.85" y2="248.87" stroke="#7c7c7c" stroke-width="0.75"/>
<line x1="368.15" y1="254.46" x2="370.75" y2="254.46" stroke="#8e8e8e" stroke-width="0.75"/>
<line x1="367.05" y1="260.06" x2="371.85" y2="260.06" stroke="#7c7c7c" stroke-width="0.75"/>
<line x1="368.15" y1="265.65" x2="370.75" y2="265.65" stroke="#8e8e8e" stroke-width="0.75"/>
<line x1="367.05" y1="271.24" x2="371.85" y2="271.24" stroke="#7c7c7c" stroke-width="0.75"/>
<line x1="368.15" y1="276.84" x2="370.75" y2="276.84" stroke="#8e8e8e" stroke-width="0.75"/>
<line x1="367.05" y1="282.43" x2="371.85" y2="282.43" stroke="#7c7c7c" stroke-width="0.75"/>
<line x1="368.15" y1="288.02" x2="370.75" y2="288.02" stroke="#8e8e8e" stroke-width="0.75"/>
<line x1="367.05" y1="293.61" x2="371.85" y2="293.61" stroke="#7c7c7c" stroke-width="0.75"/>
<line x1="368.15" y1="299.21" x2="370.75" y2="299.21" stroke="#8e8e8e" stroke-width="0.75"/>
<line x1="390.62" y1="232.09" x2="393.22" y2="232.09" stroke="#8e8e8e" stroke-width="0.75"/>
<line x1="389.52" y1="237.69" x2="394.32" y2="237.69" stroke="#7c7c7c" stroke-width="0.75"/>
<line x1="390.62" y1="243.28" x2="393.22" y2="243.28" stroke="#8e8e8e" stroke-width="0.75"/>
<line x1="389.52" y1="248.87" x2="394.32" y2="248.87" stroke="#7c7c7c" stroke-width="0.75"/>
<line x1="390.62" y1="254.46" x2="393.22" y2="254.46" stroke="#8e8e8e" stroke-width="0.75"/>
<line x1="389.52" y1="260.06" x2="394.32" y2="260.06" stroke="#7c7c7c" stroke-width="0.75"/>
<line x1="390.62" y1="265.65" x2="393.22" y2="265.65" stroke="#8e8e8e" stroke-width="0.75"/>
<line x1="389.52" y1="271.24" x2="394.32" y2="271.24" stroke="#7c7c7c" stroke-width="0.75"/>
<line x1="390.62" y1="276.84" x2="393.22" y2="276.84" stroke="#8e8e8e" stroke-width="0.75"/>
<line x1="389.52" y1="282.43" x2="394.32" y2="282.43" stroke="#7c7c7c" stroke-width="0.75"/>
<line x1="390.62" y1="288.02" x2="393.22" y2="288.02" stroke="#8e8e8e" stroke-width="0.75"/>
<line x1="389.52" y1="293.61" x2="394.32" y2="293.61" stroke="#7c7c7c" stroke-width="0.75"/>
<line x1="390.62" y1="299.21" x2="393.22" y2="299.21" stroke="#8e8e8e" stroke-width="0.75"/>
<line x1="413.09" y1="232.09" x2="415.69" y2="232.09" stroke="#8e8e8e" stroke-width="0.75"/>
<line x1="411.99" y1="237.69" x2="416.79" y2="237.69" stroke="#7c7c7c" stroke-width="0.75"/>
<line x1="413.09" y1="243.28" x2="415.69" y2="243.28" stroke="#8e8e8e" stroke-width="0.75"/>
<line x1="411.99" y1="248.87" x2="416.79" y2="248.87" stroke="#7c7c7c" stroke-width="0.75"/>
<line x1="413.09" y1="254.46" x2="415.69" y2="254.46" stroke="#8e8e8e" stroke-width="0.75"/>
<line x1="411.99" y1="260.06" x2="416.79" y2="260.06" stroke="#7c7c7c" stroke-width="0.75"/>
<line x1="413.09" y1="265.65" x2="415.69" y2="265.65" stroke="#8e8e8e" stroke-width="0.75"/>
<line x1="411.99" y1="271.24" x2="416.79" y2="271.24" stroke="#7c7c7c" stroke-width="0.75"/>
<line x1="413.09" y1="276.84" x2="415.69" y2="276.84" stroke="#8e8e8e" stroke-width="0.75"/>
<line x1="411.99" y1="282.43" x2="416.79" y2="282.43" stroke="#7c7c7c" stroke-width="0.75"/>
<line x1="413.09" y1="288.02" x2="415.69" y2="288.02" stroke="#8e8e8e" stroke-width="0.75"/>
<line x1="411.99" y1="293.61" x2="416.79" y2="293.61" stroke="#7c7c7c" stroke-width="0.75"/>
<line x1="413.09" y1="299.21" x2="415.69" y2="299.21" stroke="#8e8e8e" stroke-width="0.75"/>
<line x1="435.56" y1="232.09" x2="438.16" y2="232.09" stroke="#8e8e8e" stroke-width="0.75"/>
<line x1="434.46" y1="237.69" x2="439.26" y2="237.69" stroke="#7c7c7c" stroke-width="0.75"/>
<line x1="435.56" y1="243.28" x2="438.16" y2="243.28" stroke="#8e8e8e" stroke-width="0.75"/>
<line x1="434.46" y1="248.87" x2="439.26" y2="248.87" stroke="#7c7c7c" stroke-width="0.75"/>
<line x1="435.56" y1="254.46" x2="438.16" y2="254.46" stroke="#8e8e8e" stroke-width="0.75"/>
<line x1="434.46" y1="260.06" x2="439.26" y2="260.06" stroke="#7c7c7c" stroke-width="0.75"/>
<line x1="435.56" y1="265.65" x2="438.16" y2="265.65" stroke="#8e8e8e" stroke-width="0.75"/>
<line x1="434.46" y1="271.24" x2="439.26" y2="271.24" stroke="#7c7c7c" stroke-width="0.75"/>
<line x1="435.56" y1="276.84" x2="438.16" y2="276.84" stroke="#8e8e8e" stroke-width="0.75"/>
<line x1="434.46" y1="282.43" x2="439.26" y2="282.43" stroke="#7c7c7c" stroke-width="0.75"/>
<line x1="435.56" y1="288.02" x2="438.16" y2="288.02" stroke="#8e8e8e" stroke-width="0.75"/>
<line x1="434.46" y1="293.61" x2="439.26" y2="293.61" stroke="#7c7c7c" stroke-width="0.75"/>
<line x1="435.56" y1="299.21" x2="438.16" y2="299.21" stroke="#8e8e8e" stroke-width="0.75"/>
<line x1="458.03" y1="232.09" x2="460.63" y2="232.09" stroke="#8e8e8e" stroke-width="0.75"/>
<line x1="456.93" y1="237.69" x2="461.73" y2="237.69" stroke="#7c7c7c" stroke-width="0.75"/>
<line x1="458.03" y1="243.28" x2="460.63" y2="243.28" stroke="#8e8e8e" stroke-width="0.75"/>
<line x1="456.93" y1="248.87" x2="461.73" y2="248.87" stroke="#7c7c7c" stroke-width="0.75"/>
<line x1="458.03" y1="254.46" x2="460.63" y2="254.46" stroke="#8e8e8e" stroke-width="0.75"/>
<line x1="456.93" y1="260.06" x2="461.73" y2="260.06" stroke="#7c7c7c" stroke-width="0.75"/>
<line x1="458.03" y1="265.65" x2="460.63" y2="265.65" stroke="#8e8e8e" stroke-width="0.75"/>
<line x1="456.93" y1="271.24" x2="461.73" y2="271.24" stroke="#7c7c7c" stroke-width="0.75"/>
<line x1="458.03" y1="276.84" x2="460.63" y2="276.84" stroke="#8e8e8e" stroke-width="0.75"/>
<line x1="456.93" y1="282.43" x2="461.73" y2="282.43" stroke="#7c7c7c" stroke-width="0.75"/>
<line x1="458.03" y1="288.02" x2="460.63" y2="288.02" stroke="#8e8e8e" stroke-width="0.75"/>
<line x1="456.93" y1="293.61" x2="461.73" y2="293.61" stroke="#7c7c7c" stroke-width="0.75"/>
<line x1="458.03" y1="299.21" x2="460.63" y2="299.21" stroke="#8e8e8e" stroke-width="0.75"/>
<line x1="480.5" y1="232.09" x2="483.1" y2="232.09" stroke="#8e8e8e" stroke-width="0.75"/>
<line x1="479.4" y1="237.69" x2="484.2" y2="237.69" stroke="#7c7c7c" stroke-width="0.75"/>
<line x1="480.5" y1="243.28" x2="483.1" y2="243.28" stroke="#8e8e8e" stroke-width="0.75"/>
<line x1="479.4" y1="248.87" x2="484.2" y2="248.87" stroke="#7c7c7c" stroke-width="0.75"/>
<line x1="480.5" y1="254.46" x2="483.1" y2="254.46" stroke="#8e8e8e" stroke-width="0.75"/>
<line x1="479.4" y1="260.06" x2="484.2" y2="260.06" stroke="#7c7c7c" stroke-width="0.75"/>
<line x1="480.5" y1="265.65" x2="483.1" y2="265.65" stroke="#8e8e8e" stroke-width="0.75"/>
<line x1="479.4" y1="271.24" x2="484.2" y2="271.24" stroke="#7c7c7c" stroke-width="0.75"/>
<line x1="480.5" y1="276.84" x2="483.1" y2="276.84" stroke="#8e8e8e" stroke-width="0.75"/>
<line x1="479.4" y1="282.43" x2="484.2" y2="282.43" stroke="#7c7c7c" stroke-width="0.75"/>
<line x1="480.5" y1="288.02" x2="483.1" y2="288.02" stroke="#8e8e8e" stroke-width="0.75"/>
<line x1="479.4" y1="293.61" x2="484.2" y2="293.61" stroke="#7c7c7c" stroke-width="0.75"/>
<line x1="480.5" y1="299.21" x2="483.1" y2="299.21" stroke="#8e8e8e" stroke-width="0.75"/>
<line x1="502.97" y1="232.09" x2="505.57" y2="232.09" stroke="#8e8e8e" stroke-width="0.75"/>
<line x1="501.87" y1="237.69" x2="506.67" y2="237.69" stroke="#7c7c7c" stroke-width="0.75"/>
<line x1="502.97" y1="243.28" x2="505.57" y2="243.28" stroke="#8e8e8e" stroke-width="0.75"/>
<line x1="501.87" y1="248.87" x2="506.67" y2="248.87" stroke="#7c7c7c" stroke-width="0.75"/>
<line x1="502.97" y1="254.46" x2="505.57" y2="254.46" stroke="#8e8e8e" stroke-width="0.75"/>
<line x1="501.87" y1="260.06" x2="506.67" y2="260.06" stroke="#7c7c7c" stroke-width="0.75"/>
<line x1="502.97" y1="265.65" x2="505.57" y2="265.65" stroke="#8e8e8e" stroke-width="0.75"/>
<line x1="501.87" y1="271.24" x2="506.67" y2="271.24" stroke="#7c7c7c" stroke-width="0.75"/>
<line x1="502.97" y1="276.84" x2="505.57" y2="276.84" stroke="#8e8e8e" stroke-width="0.75"/>
<line x1="501.87" y1="282.43" x2="506.67" y2="282.43" stroke="#7c7c7c" stroke-width="0.75"/>
<line x1="502.97" y1="288.02" x2="505.57" y2="288.02" stroke="#8e8e8e" stroke-width="0.75"/>
<line x1="501.87" y1="293.61" x2="506.67" y2="293.61" stroke="#7c7c7c" stroke-width="0.75"/>
<line x1="502.97" y1="299.21" x2="505.57" y2="299.21" stroke="#8e8e8e" stroke-width="0.75"/>
<line x1="525.44" y1="232.09" x2="528.04" y2="232.09" stroke="#8e8e8e" stroke-width="0.75"/>
<line x1="524.34" y1="237.69" x2="529.14" y2="237.69" stroke="#7c7c7c" stroke-width="0.75"/>
<line x1="525.44" y1="243.28" x2="528.04" y2="243.28" stroke="#8e8e8e" stroke-width="0.75"/>
<line x1="524.34" y1="248.87" x2="529.14" y2="248.87" stroke="#7c7c7c" stroke-width="0.75"/>
<line x1="525.44" y1="254.46" x2="528.04" y2="254.46" stroke="#8e8e8e" stroke-width="0.75"/>
<line x1="524.34" y1="260.06" x2="529.14" y2="260.06" stroke="#7c7c7c" stroke-width="0.75"/>
<line x1="525.44" y1="265.65" x2="528.04" y2="265.65" stroke="#8e8e8e" stroke-width="0.75"/>
<line x1="524.34" y1="271.24" x2="529.14" y2="271.24" stroke="#7c7c7c" stroke-width="0.75"/>
<line x1="525.44" y1="276.84" x2="528.04" y2="276.84" stroke="#8e8e8e" stroke-width="0.75"/>
<line x1="524.34" y1="282.43" x2="529.14" y2="282.43" stroke="#7c7c7c" stroke-width="0.75"/>
<line x1="525.44" y1="288.02" x2="528.04" y2="288.02" stroke="#8e8e8e" stroke-width="0.75"/>
<line x1="524.34" y1="293.61" x2="529.14" y2="293.61" stroke="#7c7c7c" stroke-width="0.75"/>
<line x1="525.44" y1="299.21" x2="528.04" y2="299.21" stroke="#8e8e8e" stroke-width="0.75"/>
<line x1="547.91" y1="232.09" x2="550.51" y2="232.09" stroke="#8e8e8e" stroke-width="0.75"/>
<line x1="546.81" y1="237.69" x2="551.61" y2="237.69" stroke="#7c7c7c" stroke-width="0.75"/>
<line x1="547.91" y1="243.28" x2="550.51" y2="243.28" stroke="#8e8e8e" stroke-width="0.75"/>
<line x1="546.81" y1="248.87" x2="551.61" y2="248.87" stroke="#7c7c7c" stroke-width="0.75"/>
<line x1="547.91" y1="254.46" x2="550.51" y2="254.46" stroke="#8e8e8e" stroke-width="0.75"/>
<line x1="546.81" y1="260.06" x2="551.61" y2="260.06" stroke="#7c7c7c" stroke-width="0.75"/>
<line x1="547.91" y1="265.65" x2="550.51" y2="265.65" stroke="#8e8e8e" stroke-width="0.75"/>
<line x1="546.81" y1="271.24" x2="551.61" y2="271.24" stroke="#7c7c7c" stroke-width="0.75"/>
<line x1="547.91" y1="276.84" x2="550.51" y2="276.84" stroke="#8e8e8e" stroke-width="0.75"/>
<line x1="546.81" y1="282.43" x2="551.61" y2="282.43" stroke="#7c7c7c" stroke-width="0.75"/>
<line x1="547.91" y1="288.02" x2="550.51" y2="288.02" stroke="#8e8e8e" stroke-width="0.75"/>
<line x1="546.81" y1="293.61" x2="551.61" y2="293.61" stroke="#7c7c7c" stroke-width="0.75"/>
<line x1="547.91" y1="299.21" x2="550.51" y2="299.21" stroke="#8e8e8e" stroke-width="0.75"/>
<line x1="570.38" y1="232.09" x2="572.98" y2="232.09" stroke="#8e8e8e" stroke-width="0.75"/>
<line x1="569.28" y1="237.69" x2="574.08" y2="237.69" stroke="#7c7c7c" stroke-width="0.75"/>
<line x1="570.38" y1="243.28" x2="572.98" y2="243.28" stroke="#8e8e8e" stroke-width="0.75"/>
<line x1="569.28" y1="248.87" x2="574.08" y2="248.87" stroke="#7c7c7c" stroke-width="0.75"/>
<line x1="570.38" y1="254.46" x2="572.98" y2="254.46" stroke="#8e8e8e" stroke-width="0.75"/>
<line x1="569.28" y1="260.06" x2="574.08" y2="260.06" stroke="#7c7c7c" stroke-width="0.75"/>
<line x1="570.38" y1="265.65" x2="572.98" y2="265.65" stroke="#8e8e8e" stroke-width="0.75"/>
<line x1="569.28" y1="271.24" x2="574.08" y2="271.24" stroke="#7c7c7c" stroke-width="0.75"/>
<line x1="570.38" y1="276.84" x2="572.98" y2="276.84" stroke="#8e8e8e" stroke-width="0.75"/>
<line x1="569.28" y1="282.43" x2="574.08" y2="282.43" stroke="#7c7c7c" stroke-width="0.75"/>
<line x1="570.38" y1="288.02" x2="572.98" y2="288.02" stroke="#8e8e8e" stroke-width="0.75"/>
<line x1="569.28" y1="293.61" x2="574.08" y2="293.61" stroke="#7c7c7c" stroke-width="0.75"/>
<line x1="570.38" y1="299.21" x2="572.98" y2="299.21" stroke="#8e8e8e" stroke-width="0.75"/>
<line x1="592.85" y1="232.09" x2="595.45" y2="232.09" stroke="#8e8e8e" stroke-width="0.75"/>
<line x1="591.75" y1="237.69" x2="596.55" y2="237.69" stroke="#7c7c7c" stroke-width="0.75"/>
<line x1="592.85" y1="243.28" x2="595.45" y2="243.28" stroke="#8e8e8e" stroke-width="0.75"/>
<line x1="591.75" y1="248.87" x2="596.55" y2="248.87" stroke="#7c7c7c" stroke-width="0.75"/>
<line x1="592.85" y1="254.46" x2="595.45" y2="254.46" stroke="#8e8e8e" stroke-width="0.75"/>
<line x1="591.75" y1="260.06" x2="596.55" y2="260.06" stroke="#7c7c7c" stroke-width="0.75"/>
<line x1="592.85" y1="265.65" x2="595.45" y2="265.65" stroke="#8e8e8e" stroke-width="0.75"/>
<line x1="591.75" y1="271.24" x2="596.55" y2="271.24" stroke="#7c7c7c" stroke-width="0.75"/>
<line x1="592.85" y1="276.84" x2="595.45" y2="276.84" stroke="#8e8e8e" stroke-width="0.75"/>
<line x1="591.75" y1="282.43" x2="596.55" y2="282.43" stroke="#7c7c7c" stroke-width="0.75"/>
<line x1="592.85" y1="288.02" x2="595.45" y2="288.02" stroke="#8e8e8e" stroke-width="0.75"/>
<line x1="591.75" y1="293.61" x2="596.55" y2="293.61" stroke="#7c7c7c" stroke-width="0.75"/>
<line x1="592.85" y1="299.21" x2="595.45" y2="299.21" stroke="#8e8e8e" stroke-width="0.75"/>
<line x1="615.32" y1="232.09" x2="617.92" y2="232.09" stroke="#8e8e8e" stroke-width="0.75"/>
<line x1="614.22" y1="237.69" x2="619.02" y2="237.69" stroke="#7c7c7c" stroke-width="0.75"/>
<line x1="615.32" y1="243.28" x2="617.92" y2="243.28" stroke="#8e8e8e" stroke-width="0.75"/>
<line x1="614.22" y1="248.87" x2="619.02" y2="248.87" stroke="#7c7c7c" stroke-width="0.75"/>
<line x1="615.32" y1="254.46" x2="617.92" y2="254.46" stroke="#8e8e8e" stroke-width="0.75"/>
<line x1="614.22" y1="260.06" x2="619.02" y2="260.06" stroke="#7c7c7c" stroke-width="0.75"/>
<line x1="615.32" y1="265.65" x2="617.92" y2="265.65" stroke="#8e8e8e" stroke-width="0.75"/>
<line x1="614.22" y1="271.24" x2="619.02" y2="271.24" stroke="#7c7c7c" stroke-width="0.75"/>
<line x1="615.32" y1="276.84" x2="617.92" y2="276.84" stroke="#8e8e8e" stroke-width="0.75"/>
<line x1="614.22" y1="282.43" x2="619.02" y2="282.43" stroke="#7c7c7c" stroke-width="0.75"/>
<line x1="615.32" y1="288.02" x2="617.92" y2="288.02" stroke="#8e8e8e" stroke-width="0.75"/>
<line x1="614.22" y1="293.61" x2="619.02" y2="293.61" stroke="#7c7c7c" stroke-width="0.75"/>
<line x1="615.32" y1="299.21" x2="617.92" y2="299.21" stroke="#8e8e8e" stroke-width="0.75"/>
<line x1="637.79" y1="232.09" x2="640.39" y2="232.09" stroke="#8e8e8e" stroke-width="0.75"/>
<line x1="636.69" y1="237.69" x2="641.49" y2="237.69" stroke="#7c7c7c" stroke-width="0.75"/>
<line x1="637.79" y1="243.28" x2="640.39" y2="243.28" stroke="#8e8e8e" stroke-width="0.75"/>
<line x1="636.69" y1="248.87" x2="641.49" y2="248.87" stroke="#7c7c7c" stroke-width="0.75"/>
<line x1="637.79" y1="254.46" x2="640.39" y2="254.46" stroke="#8e8e8e" stroke-width="0.75"/>
<line x1="636.69" y1="260.06" x2="641.49" y2="260.06" stroke="#7c7c7c" stroke-width="0.75"/>
<line x1="637.79" y1="265.65" x2="640.39" y2="265.65" stroke="#8e8e8e" stroke-width="0.75"/>
<line x1="636.69" y1="271.24" x2="641.49" y2="271.24" stroke="#7c7c7c" stroke-width="0.75"/>
<line x1="637.79" y1="276.84" x2="640.39" y2="276.84" stroke="#8e8e8e" stroke-width="0.75"/>
<line x1="636.69" y1="282.43" x2="641.49" y2="282.43" stroke="#7c7c7c" stroke-width="0.75"/>
<line x1="637.79" y1="288.02" x2="640.39" y2="288.02" stroke="#8e8e8e" stroke-width="0.75"/>
<line x1="636.69" y1="293.61" x2="641.49" y2="293.61" stroke="#7c7c7c" stroke-width="0.75"/>
<line x1="637.79" y1="299.21" x2="640.39" y2="299.21" stroke="#8e8e8e" stroke-width="0.75"/>
<line x1="660.26" y1="232.09" x2="662.86" y2="232.09" stroke="#8e8e8e" stroke-width="0.75"/>
<line x1="659.16" y1="237.69" x2="663.96" y2="237.69" stroke="#7c7c7c" stroke-width="0.75"/>
<line x1="660.26" y1="243.28" x2="662.86" y2="243.28" stroke="#8e8e8e" stroke-width="0.75"/>
<line x1="659.16" y1="248.87" x2="663.96" y2="248.87" stroke="#7c7c7c" stroke-width="0.75"/>
<line x1="660.26" y1="254.46" x2="662.86" y2="254.46" stroke="#8e8e8e" stroke-width="0.75"/>
<line x1="659.16" y1="260.06" x2="663.96" y2="260.06" stroke="#7c7c7c" stroke-width="0.75"/>
<line x1="660.26" y1="265.65" x2="662.86" y2="265.65" stroke="#8e8e8e" stroke-width="0.75"/>
<line x1="659.16" y1="271.24" x2="663.96" y2="271.24" stroke="#7c7c7c" stroke-width="0.75"/>
<line x1="660.26" y1="276.84" x2="662.86" y2="276.84" stroke="#8e8e8e" stroke-width="0.75"/>
<line x1="659.16" y1="282.43" x2="663.96" y2="282.43" stroke="#7c7c7c" stroke-width="0.75"/>
<line x1="660.26" y1="288.02" x2="662.86" y2="288.02" stroke="#8e8e8e" stroke-width="0.75"/>
<line x1="659.16" y1="293.61" x2="663.96" y2="293.61" stroke="#7c7c7c" stroke-width="0.75"/>
<line x1="660.26" y1="299.21" x2="662.86" y2="299.21" stroke="#8e8e8e" stroke-width="0.75"/>
<line x1="682.2" y1="232.09" x2="684.8" y2="232.09" stroke="#8e8e8e" stroke-width="0.75"/>
<line x1="681.1" y1="237.69" x2="685.9" y2="237.69" stroke="#7c7c7c" stroke-width="0.75"/>
<line x1="682.2" y1="243.28" x2="684.8" y2="243.28" stroke="#8e8e8e" stroke-width="0.75"/>
<line x1="681.1" y1="248.87" x2="685.9" y2="248.87" stroke="#7c7c7c" stroke-width="0.75"/>
<line x1="682.2" y1="254.46" x2="684.8" y2="254.46" stroke="#8e8e8e" stroke-width="0.75"/>
<line x1="681.1" y1="260.06" x2="685.9" y2="260.06" stroke="#7c7c7c" stroke-width="0.75"/>
<line x1="682.2" y1="265.65" x2="684.8" y2="265.65" stroke="#8e8e8e" stroke-width="0.75"/>
<line x1="681.1" y1="271.24" x2="685.9" y2="271.24" stroke="#7c7c7c" stroke-width="0.75"/>
<line x1="682.2" y1="276.84" x2="684.8" y2="276.84" stroke="#8e8e8e" stroke-width="0.75"/>
<line x1="681.1" y1="282.43" x2="685.9" y2="282.43" stroke="#7c7c7c" stroke-width="0.75"/>
<line x1="682.2" y1="288.02" x2="684.8" y2="288.02" stroke="#8e8e8e" stroke-width="0.75"/>
<line x1="681.1" y1="293.61" x2="685.9" y2="293.61" stroke="#7c7c7c" stroke-width="0.75"/>
<line x1="682.2" y1="299.21" x2="684.8" y2="299.21" stroke="#8e8e8e" stroke-width="0.75"/>
<line x1="369.45" y1="260" x2="683.5" y2="260" stroke="#c4c4c4" stroke-width="1.1" stroke-dasharray="2.3,1.9"/>
<path d="M369.45,257.6 L369.45,257.6 L371.15,258.6 L371.05,259.6 L369.45,260.8 L369.45,260.8 Z" fill="#cc77ff" stroke="#7a3a9a" stroke-width="0.45" stroke-linejoin="round"/>
<line x1="575.6" y1="260.5" x2="669.6" y2="260.5" stroke="#f0ea40" stroke-width="3" opacity="0.8"/>
<line x1="369" y1="290.5" x2="561" y2="282.1" stroke="#222" stroke-width="0.9" stroke-dasharray="2.6,1.6"/>
<text x="367.5" y="229.6" font-size="8.6" font-weight="normal" font-style="normal" fill="#222" text-anchor="end" >3</text>
<text x="367.5" y="240.79" font-size="8.6" font-weight="normal" font-style="normal" fill="#222" text-anchor="end" >2</text>
<text x="367.5" y="251.97" font-size="8.6" font-weight="normal" font-style="normal" fill="#222" text-anchor="end" >1</text>
<text x="367.5" y="263.16" font-size="8.6" font-weight="normal" font-style="normal" fill="#222" text-anchor="end" >0</text>
<text x="367.5" y="274.34" font-size="8.6" font-weight="normal" font-style="normal" fill="#222" text-anchor="end" >-1</text>
<text x="367.5" y="285.53" font-size="8.6" font-weight="normal" font-style="normal" fill="#222" text-anchor="end" >-2</text>
<text x="367.5" y="296.71" font-size="8.6" font-weight="normal" font-style="normal" fill="#222" text-anchor="end" >-3</text>
<text x="367.5" y="307.9" font-size="8.6" font-weight="normal" font-style="normal" fill="#222" text-anchor="end" >-4</text>
<text transform="translate(605.6,275) scale(0.96,1)" font-size="9" font-weight="bold" fill="#ff1a1a">0.36 e/a<tspan font-size="6.6" font-weight="normal" dx="0.3" dy="-2.4">2</tspan></text>
<path d="M479.8,237 L459.7,237 L459.7,229.8 L444.1,244.1 L459.7,258.8 L459.7,251.7 L479.8,251.7 Z" fill="#7f7f7f"/>
<text x="462.7" y="248" font-size="9.4" font-style="italic" fill="#e2e2e2">P</text>
<text x="0" y="0" font-size="9.8" fill="#222" text-anchor="middle" transform="translate(355.7,61.9) rotate(-90) scale(0.902,1)">DOS (States/eV)</text>
<text x="0" y="0" font-size="9.8" fill="#222" text-anchor="middle" transform="translate(356.4,163.65) rotate(-90) scale(0.896,1)">DOS (States/eV)</text>
<text x="0" y="0" font-size="9.8" fill="#222" text-anchor="middle" transform="translate(355.6,270.1) rotate(-90) scale(0.837,1)">DOS (States/eV)</text></svg>
</body></html>
